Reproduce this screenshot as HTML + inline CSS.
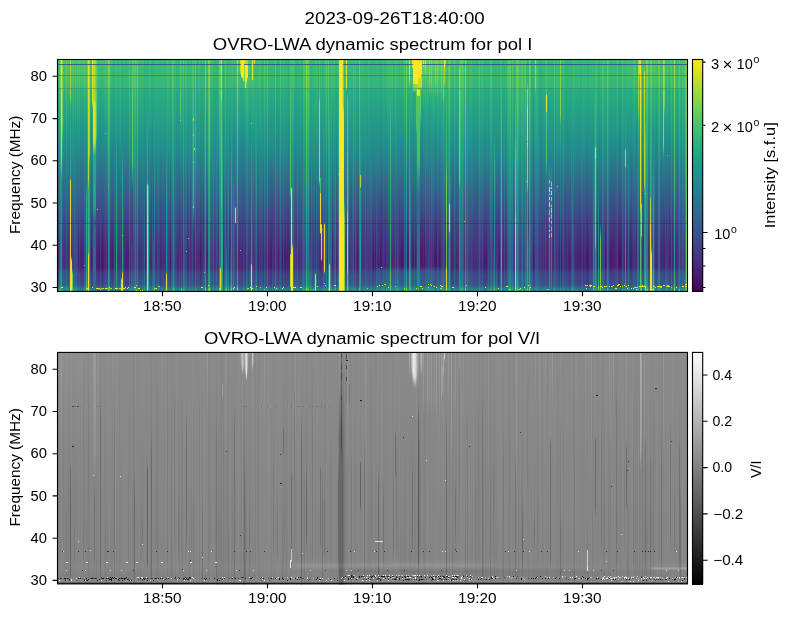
<!DOCTYPE html>
<html><head><meta charset="utf-8"><title>OVRO-LWA dynamic spectrum</title>
<style>
html,body{margin:0;padding:0;background:#fff}
#f{position:relative;width:789px;height:617px;background:#fff;overflow:hidden;font-family:"Liberation Sans",sans-serif}
.p{position:absolute;left:57px;width:631px;height:233px;display:flex;overflow:hidden}
.p b{display:block}
.p i{display:block;flex:0 0 1px;width:1px;height:233px}
.c{position:absolute;left:692px;width:11px;height:233px}
.h{position:absolute;left:0;width:631px;height:1px}
.s{position:absolute;width:1px;height:1px}
</style></head><body>
<div id="f">
<div class="p" style="top:59px"><i style="background:linear-gradient(#51c469,#44bf70 29.5px,#33b679 30.5px,#1f9b8a 75.5px,#38578c 155.5px,#453681 196.5px,#453580 208.5px,#3d4e8a 214.5px,#38578c 225.5px,#20918c 231.5px,#1f968b)"></i><i style="background:linear-gradient(#43be71,#38b977 29.5px,#2ab07f 30.5px,#21918c 79.5px,#3c4f8a 155.5px,#472e7c 195.5px,#472d7b 208.5px,#404688 213.5px,#3b518b 225.5px,#228c8d 231.5px,#21918c)"></i><i style="background:linear-gradient(#59c764,#4cc26c 29.5px,#3ab976 30.5px,#209f88 77.5px,#355f8d 160.5px,#404687 206.5px,#32648d 215.5px,#306a8e 225.5px,#23a385 231.5px,#26a883)"></i><i style="background:linear-gradient(#74d054,#7ed250 2.5px,#6fce58 29.5px,#5ac664 30.5px,#33b17a 86.5px,#20958b 130.5px,#2c738e 192.5px,#2c728e 208.5px,#238a8d 214.5px,#1f998a 226.5px,#24a784 228.5px,#4cc16c 230.5px,#60c960)"></i><i style="background:linear-gradient(#45bf70,#e8e424 1.5px,#c0d927 95.5px,#85cf4a 104.5px,#2dae7e 115.5px,#20958b 122.5px,#228d8c 209.5px,#209c89 229.5px,#2baf7f 231.5px,#31b37b)"></i><i style="background:linear-gradient(#4dc36b,#94d742 1.5px,#74ce55 65.5px,#2da97f 81.5px,#2d9086 96.5px,#2f6b8e 138.5px,#423d83 191.5px,#433d82 208.5px,#375b8c 213.5px,#32658d 225.5px,#1f9c89 231.5px,#20a087)"></i><i style="background:linear-gradient(#47c06f,#3fbc73 29.5px,#31b37b 30.5px,#228c8d 89.5px,#414287 168.5px,#472e7c 207.5px,#3a548b 213.5px,#355e8d 225.5px,#1f988b 231.5px,#1e9c89)"></i><i style="background:linear-gradient(#49c16e,#3cbb75 29.5px,#2db27d 30.5px,#1f958b 74.5px,#3b528b 152.5px,#472d7b 192.5px,#482a79 207.5px,#3c508b 213.5px,#375b8d 225.5px,#20948c 231.5px,#1f998a)"></i><i style="background:linear-gradient(#4cc26c,#3ebc74 29.5px,#2fb37c 30.5px,#1f978b 74.5px,#3a548b 153.5px,#46317e 193.5px,#46327e 208.5px,#3b508b 212.5px,#365d8d 225.5px,#20978b 231.5px,#1f9b89)"></i><i style="background:linear-gradient(#67cc5c,#56c666 29.5px,#42be71 30.5px,#21a386 76.5px,#30698e 152.5px,#3e4988 197.5px,#3d4b89 208.5px,#31678d 213.5px,#2d718e 225.5px,#20978b 229.5px,#26aa82 231.5px,#2bae7f)"></i><i style="background:linear-gradient(#4dc26c,#3ebc73 29.5px,#2fb37c 30.5px,#1f968b 73.5px,#3b528b 152.5px,#472d7b 192.5px,#472c7a 208.5px,#3e4b89 213.5px,#39568c 225.5px,#22908c 231.5px,#21958b)"></i><i style="background:linear-gradient(#4fc36a,#40bd73 29.5px,#30b47b 30.5px,#1f988b 73.5px,#39558c 153.5px,#46337f 193.5px,#46337f 208.5px,#3c4f8a 213.5px,#375a8c 225.5px,#20948c 231.5px,#1f998a)"></i><i style="background:linear-gradient(#45bf70,#4ac06d 5.5px,#3fbb73 29.5px,#31b27a 30.5px,#1f9c89 59.5px,#33738a 120.5px,#3f6b87 130.5px,#523977 185.5px,#523876 208.5px,#4a5283 213.5px,#465d85 225.5px,#2e9487 231.5px,#2d9886)"></i><i style="background:linear-gradient(#44bf71,#abda31 1.5px,#95d53f 37.5px,#6dcc58 41.5px,#2fb37c 46.5px,#27ac81 54.5px,#27a583 118.5px,#39b179 119.5px,#76c755 120.5px,#c3d428 121.5px,#e5d831 122.5px,#e6d430 198.5px,#f2dc2a 207.5px,#f0e22b)"></i><i style="background:linear-gradient(#45bf70,#4ac06d 5.5px,#3ebb73 29.5px,#31b27b 30.5px,#1f9c89 59.5px,#33738a 120.5px,#3f6b87 130.5px,#532d6d 190.5px,#532b6b 195.5px,#523674 196.5px,#3b7487 198.5px,#2e9884 199.5px,#50ba6d 200.5px,#9dd13e 201.5px,#dcda20 202.5px,#f2dd2a 203.5px,#f5e627)"></i><i style="background:linear-gradient(#5bc864,#4ac26d 29.5px,#38b977 30.5px,#1f9f88 73.5px,#355e8d 155.5px,#424085 196.5px,#4d4b80 208.5px,#446086 210.5px,#2e9785 212.5px,#40b375 213.5px,#6ac55e 214.5px,#7ecb52 215.5px,#7ccf52)"></i><i style="background:linear-gradient(#58c765,#47c06e 29.5px,#36b878 30.5px,#1f9d89 72.5px,#365c8d 153.5px,#443a83 195.5px,#443982 208.5px,#3e5a88 215.5px,#3b6189 225.5px,#269788 231.5px,#259b87)"></i><i style="background:linear-gradient(#49c16e,#3aba76 29.5px,#2cb17e 30.5px,#20938c 72.5px,#2c728e 147.5px,#3c508a 194.5px,#3c4e8a 208.5px,#31668e 215.5px,#2f6d8e 225.5px,#21a585 231.5px,#25aa83)"></i><i style="background:linear-gradient(#5fc961,#4ec36b 29.5px,#3bba75 30.5px,#20a088 73.5px,#365d8d 159.5px,#414286 205.5px,#3e4989 209.5px,#355d8d 216.5px,#33638d 225.5px,#1f9c89 231.5px,#20a187)"></i><i style="background:linear-gradient(#4ac16d,#3bba75 29.5px,#2cb17e 30.5px,#20948c 72.5px,#39568c 155.5px,#3b528b 208.5px,#30698e 215.5px,#2d6f8e 225.5px,#20958b 229.5px,#24a884 231.5px,#28ac81)"></i><i style="background:linear-gradient(#59c765,#48c16e 29.5px,#36b878 30.5px,#1f9d89 72.5px,#38588c 155.5px,#453680 200.5px,#433d84 209.5px,#3a528b 216.5px,#38588c 225.5px,#21928c 231.5px,#20978b)"></i><i style="background:linear-gradient(#54c667,#44bf70 29.5px,#33b67a 30.5px,#1f9b8a 70.5px,#39568c 148.5px,#472878 191.5px,#482575 208.5px,#433d84 213.5px,#3f4889 225.5px,#25858e 231.5px,#23898d)"></i><i style="background:linear-gradient(#5cc863,#4bc26d 29.5px,#38b977 30.5px,#1f9f88 72.5px,#365c8d 152.5px,#443882 194.5px,#453681 208.5px,#3c4f8a 214.5px,#38578c 225.5px,#20918c 231.5px,#1f968b)"></i><i style="background:linear-gradient(#4ec36b,#3fbc73 29.5px,#2fb37c 30.5px,#1f978b 71.5px,#3a538b 149.5px,#482877 191.5px,#482475 208.5px,#433c84 213.5px,#3f4888 225.5px,#25848e 231.5px,#23898d)"></i><i style="background:linear-gradient(#4ec36b,#3ebc74 29.5px,#2eb37c 30.5px,#1f978b 71.5px,#3b528b 149.5px,#482777 191.5px,#482374 208.5px,#443b84 213.5px,#3f4788 225.5px,#25838e 231.5px,#23888e)"></i><i style="background:linear-gradient(#4ac26d,#3dbb74 29.5px,#2db27d 30.5px,#1f968b 71.5px,#3b518b 148.5px,#482374 190.5px,#481f71 208.5px,#453782 213.5px,#414387 225.5px,#26808e 231.5px,#25858e)"></i><i style="background:linear-gradient(#50c46a,#40bd72 29.5px,#30b47b 30.5px,#1f988b 70.5px,#3b508b 150.5px,#482676 193.5px,#482474 208.5px,#433b83 213.5px,#3f4788 225.5px,#25838e 231.5px,#24888d)"></i><i style="background:linear-gradient(#5fc961,#4dc36b 29.5px,#3bba76 30.5px,#1fa088 73.5px,#365c8c 160.5px,#414286 206.5px,#355e8d 217.5px,#33638d 225.5px,#1f9c89 231.5px,#20a187)"></i><i style="background:linear-gradient(#48c16e,#3aba76 29.5px,#2bb17e 30.5px,#20938c 72.5px,#39588b 164.5px,#3e4b88 208.5px,#35628c 214.5px,#326a8c 225.5px,#28a283 231.5px,#2aa680)"></i><i style="background:linear-gradient(#4dc36b,#3ebc74 29.5px,#2eb37c 30.5px,#20968b 71.5px,#2b758e 122.5px,#23a186 139.5px,#28a682 151.5px,#229589 207.5px,#30ac7d 217.5px,#36b07a 225.5px,#5fc462 228.5px,#a3d737 230.5px,#bcdb28)"></i><i style="background:linear-gradient(#6dce59,#76d054 2.5px,#65ca5e 29.5px,#51c369 30.5px,#2eac7d 78.5px,#28878c 145.5px,#336c8b 192.5px,#3f6a87 202.5px,#3d7187 209.5px,#348e86 226.5px,#33a97d 229.5px,#4dbe6c)"></i><i style="background:linear-gradient(#48c16e,#e5e320 1.5px,#c3de24 74.5px,#b6d82c 118.5px,#87d049 123.5px,#37b678 130.5px,#38b378 191.5px,#41b873 192.5px,#5dc264 193.5px,#b4d42d 195.5px,#d7d929 196.5px,#e4db31 197.5px,#e5e12f)"></i><i style="background:linear-gradient(#49c16d,#b6dd2c 1.5px,#96d540 74.5px,#90d344 93.5px,#30ad7c 103.5px,#2a9e83 109.5px,#298 168.5px,#289a85 194.5px,#2c9f84 229.5px,#37b379)"></i><i style="background:linear-gradient(#48c16e,#4cc16b 6.5px,#41bc72 29.5px,#33b37a 30.5px,#279787 72.5px,#306a8d 141.5px,#423e82 191.5px,#433b80 208.5px,#3b528a 214.5px,#375a8c 225.5px,#21928c 231.5px,#20978b)"></i><i style="background:linear-gradient(#47c06f,#51c26a 2.5px,#44bc71 29.5px,#36b478 30.5px,#1f9d89 58.5px,#3a548b 145.5px,#482374 189.5px,#481f70 208.5px,#453781 213.5px,#414387 225.5px,#27808e 231.5px,#25858e)"></i><i style="background:linear-gradient(#49c16e,#ebe428 1.5px,#d4e01f 42.5px,#adda31 44.5px,#43bb72 48.5px,#2fac7d 50.5px,#297d8e 111.5px,#3f4788 161.5px,#472775 203.5px,#46307c 209.5px,#404587 216.5px,#3e4b89 225.5px,#24868e 231.5px,#238b8d)"></i><i style="background:linear-gradient(#54c667,#b5dd2d 1.5px,#a6db36 39.5px,#e2e41a 44.5px,#e6e322 48.5px,#d7df1f 80.5px,#aed930 85.5px,#35b579 95.5px,#26aa82 98.5px,#22a186 147.5px,#2f6d8e 161.5px,#32658d 166.5px,#30698e 226.5px,#1f988a 231.5px,#1f9d89)"></i><i style="background:linear-gradient(#4fc46a,#aedc2f 1.5px,#a0da39 39.5px,#e3e41a 44.5px,#eee51d 47.5px,#e4e41a 79.5px,#bddf26 84.5px,#37b977 94.5px,#26ad81 97.5px,#22a785 146.5px,#29798e 157.5px,#365b8d 164.5px,#30698e 169.5px,#2f6a8e 228.5px,#24878e 231.5px,#228c8d)"></i><i style="background:linear-gradient(#4bc26d,#94d741 1.5px,#85d44a 39.5px,#bdde27 45.5px,#b3dc2d 79.5px,#88d348 85.5px,#2db07e 94.5px,#27aa82 109.5px,#23a285 146.5px,#2b768e 157.5px,#37598c 164.5px,#31668d 169.5px,#30698e 228.5px,#24878e 231.5px,#228c8d)"></i><i style="background:linear-gradient(#45bf70,#6ece58 1.5px,#53c368 74.5px,#27a483 83.5px,#25898c 93.5px,#3e4988 156.5px,#472675 193.5px,#472473 208.5px,#433d84 214.5px,#404688 225.5px,#26818e 231.5px,#24868e)"></i><i style="background:linear-gradient(#48c16e,#3ebc74 29.5px,#30b37c 30.5px,#21928c 81.5px,#404688 156.5px,#482072 194.5px,#481f70 208.5px,#453781 213.5px,#414387 225.5px,#27808e 231.5px,#25858e)"></i><i style="background:linear-gradient(#48c16e,#3bbb75 29.5px,#2cb17e 30.5px,#1f958c 73.5px,#3c4f8b 148.5px,#482071 190.5px,#481c6e 208.5px,#463480 213.5px,#424086 225.5px,#277e8e 231.5px,#26838e)"></i><i style="background:linear-gradient(#43be71,#37b878 29.5px,#29af7f 30.5px,#20918c 75.5px,#3e4b8a 149.5px,#481d6e 191.5px,#481a6b 208.5px,#46327e 213.5px,#433e85 225.5px,#287c8e 231.5px,#26818e)"></i><i style="background:linear-gradient(#3ebc74,#33b67a 29.5px,#26ac81 31.5px,#228b8d 80.5px,#443881 188.5px,#45337f 208.5px,#3d4c89 214.5px,#39558b 225.5px,#218f8c 231.5px,#20948b)"></i><i style="background:linear-gradient(#41bd72,#36b878 29.5px,#28ae80 30.5px,#218f8d 76.5px,#404688 154.5px,#481e6f 195.5px,#481d6e 208.5px,#453580 213.5px,#424186 225.5px,#277f8e 231.5px,#25838e)"></i><i style="background:linear-gradient(#41bd72,#36b878 29.5px,#28ae80 30.5px,#21908d 76.5px,#3e4b89 149.5px,#481c6e 190.5px,#48186a 208.5px,#46307e 213.5px,#433d84 225.5px,#297b8e 231.5px,#27808e)"></i><i style="background:linear-gradient(#45bf70,#3aba76 29.5px,#2bb17e 30.5px,#20938c 75.5px,#3d4e8a 148.5px,#481d6f 190.5px,#48196b 208.5px,#46317e 213.5px,#433e85 225.5px,#287c8e 231.5px,#26818e)"></i><i style="background:linear-gradient(#49c16e,#3dbc74 29.5px,#2eb37d 30.5px,#1f968b 75.5px,#3b528b 150.5px,#482777 191.5px,#482474 208.5px,#443b84 213.5px,#3f4788 225.5px,#25848e 231.5px,#23888e)"></i><i style="background:linear-gradient(#4fc36b,#43be71 29.5px,#32b67a 30.5px,#1f9a8a 77.5px,#38578c 154.5px,#46337f 195.5px,#46327e 208.5px,#3e4a89 214.5px,#3a548b 225.5px,#218e8d 231.5px,#20938c)"></i><i style="background:linear-gradient(#4dc36b,#42be72 29.5px,#31b57b 30.5px,#1f998a 76.5px,#39568c 152.5px,#472f7d 193.5px,#472d7c 208.5px,#404788 214.5px,#3c508b 225.5px,#238b8d 231.5px,#21908d)"></i><i style="background:linear-gradient(#49c06e,#3ebb73 29.5px,#2fb37c 30.5px,#22968a 78.5px,#3a548a 151.5px,#462c78 191.5px,#462975 208.5px,#414384 214.5px,#3e4c88 225.5px,#2c8889 231.5px,#2b8d88)"></i><i style="background:linear-gradient(#8cd545,#7ed24e 29.5px,#66cb5d 30.5px,#47be6f 75.5px,#219689 156.5px,#25858b 207.5px,#239d86 217.5px,#25a184 225.5px,#40b774 228.5px,#7dce50 230.5px,#95d440)"></i><i style="background:linear-gradient(#76d053,#69cc5b 29.5px,#53c568 30.5px,#25a883 100.5px,#277f8d 157.5px,#2f6a8c 206.5px,#26848d 219.5px,#25878c 225.5px,#239e87 228.5px,#41ba73 230.5px,#53c268)"></i><i style="background:linear-gradient(#44be70,#3aba76 29.5px,#2cb17e 30.5px,#21928b 79.5px,#3c4f8a 151.5px,#472573 191.5px,#472271 208.5px,#443a81 213.5px,#404687 225.5px,#29838c 231.5px,#28878c)"></i><i style="background:linear-gradient(#41bd72,#38b977 29.5px,#2ab07f 30.5px,#20918c 79.5px,#3d4e8a 152.5px,#482575 192.5px,#482273 208.5px,#443a83 213.5px,#404688 225.5px,#26838e 231.5px,#24878e)"></i><i style="background:linear-gradient(#39ba76,#32b57b 29.5px,#25ab82 31.5px,#23888e 85.5px,#414387 154.5px,#481c6e 192.5px,#481a6c 208.5px,#46327f 213.5px,#433e85 225.5px,#287c8e 231.5px,#26818e)"></i><i style="background:linear-gradient(#3bba75,#33b67a 29.5px,#26ac81 31.5px,#228b8d 83.5px,#3f4888 157.5px,#472574 195.5px,#472473 208.5px,#433c83 213.5px,#3f4788 225.5px,#27848d 231.5px,#25898d)"></i><i style="background:linear-gradient(#34b679,#2db27d 29.5px,#23a884 31.5px,#27808e 110.5px,#2e6d8d 157.5px,#385489 205.5px,#34608b 210.5px,#2d728d 223.5px,#297b8e 226.5px,#219989 229.5px,#2bac80 231.5px,#31b07c)"></i><i style="background:linear-gradient(#3dbc74,#36b878 29.5px,#29ae80 30.5px,#218f8c 81.5px,#3c5088 154.5px,#452b73 194.5px,#452972 208.5px,#414283 214.5px,#3e4b87 225.5px,#27848d 231.5px,#26898c)"></i><i style="background:linear-gradient(#4ac16d,#41bd72 29.5px,#31b57b 30.5px,#20a187 79.5px,#269d85 225.5px,#22a585)"></i><i style="background:linear-gradient(#36b778,#2fb37c 29.5px,#24aa83 31.5px,#26848d 92.5px,#44397f 202.5px,#424183 209.5px,#3a558a 216.5px,#375b8b 225.5px,#21928c 231.5px,#20968b)"></i><i style="background:linear-gradient(#39b976,#32b67a 29.5px,#26ac82 31.5px,#238a8d 91.5px,#3a528b 156.5px,#46317e 197.5px,#46317e 208.5px,#3e4a89 214.5px,#3a538b 225.5px,#228d8d 231.5px,#20928c)"></i><i style="background:linear-gradient(#40bd73,#39b977 29.5px,#2bb07f 30.5px,#20928c 83.5px,#3c508b 158.5px,#472f7d 201.5px,#453781 209.5px,#3d4d8a 216.5px,#3a538b 225.5px,#228d8d 231.5px,#20928c)"></i><i style="background:linear-gradient(#47c06f,#3fbd73 29.5px,#30b47c 30.5px,#1f978b 83.5px,#3b528b 161.5px,#453681 205.5px,#423e85 209.5px,#3a538b 216.5px,#416386 225.5px,#2b9985 231.5px,#2a9e83)"></i><i style="background:linear-gradient(#33b67a,#2eb27d 29.5px,#23a983 31.5px,#27808e 102.5px,#443b80 171.5px,#462a74 208.5px,#48437f 213.5px,#4d4a80 218.5px,#397a88 219.5px,#65c461 220.5px,#d5db20 221.5px,#d4df20)"></i><i style="background:linear-gradient(#34b779,#2fb37c 29.5px,#24aa83 31.5px,#228b8d 89.5px,#27a683 114.5px,#2aa082 211.5px,#3bac78 212.5px,#78c254 213.5px,#c5d027 214.5px,#e6d431 215.5px,#eee12a 229.5px,#eee22a)"></i><i style="background:linear-gradient(#39ba76,#33b679 29.5px,#26ad81 31.5px,#228b8d 85.5px,#3d5089 152.5px,#44387e 180.5px,#424082 208.5px,#405787 213.5px,#436386 225.5px,#2d9986 231.5px,#2c9d84)"></i><i style="background:linear-gradient(#40bd72,#3aba76 29.5px,#2bb17e 30.5px,#20938c 82.5px,#3c4e8a 156.5px,#472e7c 193.5px,#472d7b 208.5px,#404688 214.5px,#3c4f8a 225.5px,#238a8d 231.5px,#218f8d)"></i><i style="background:linear-gradient(#37b878,#31b57b 29.5px,#25ab82 31.5px,#24888e 91.5px,#424086 162.5px,#482172 204.5px,#472a79 209.5px,#423f85 215.5px,#3f4788 225.5px,#25838e 231.5px,#24888e)"></i><i style="background:linear-gradient(#36b878,#31b57b 29.5px,#25ab82 31.5px,#24878e 90.5px,#433f85 159.5px,#481c6e 197.5px,#481c6e 208.5px,#463480 213.5px,#424086 225.5px,#277e8e 231.5px,#26838e)"></i><i style="background:linear-gradient(#3aba76,#34b779 29.5px,#28ae80 30.5px,#218e8d 84.5px,#3f4989 155.5px,#482474 193.5px,#482173 208.5px,#443983 213.5px,#404588 225.5px,#26828e 231.5px,#24878e)"></i><i style="background:linear-gradient(#38b977,#33b67a 29.5px,#27ac81 31.5px,#24888d 91.5px,#424085 160.5px,#471e6e 200.5px,#472675 209.5px,#433c83 215.5px,#414386 225.5px,#28818d 231.5px,#27868d)"></i><i style="background:linear-gradient(#5dc862,#56c666 29.5px,#42be71 30.5px,#209c88 101.5px,#365a8a 191.5px,#37578a 208.5px,#2e6e8d 215.5px,#2c748d 225.5px,#219a89 229.5px,#2dad7f 231.5px,#33b17b)"></i><i style="background:linear-gradient(#3aba76,#35b779 29.5px,#28ae80 30.5px,#238c8d 89.5px,#404587 160.5px,#462674 202.5px,#452f7b 209.5px,#404586 215.5px,#3d4c89 225.5px,#26888c 231.5px,#258c8c)"></i><i style="background:linear-gradient(#36b878,#35b779 29.5px,#2aad7f 31.5px,#298b8b 91.5px,#404688 153.5px,#453580 171.5px,#3a5189 191.5px,#3b4f89 208.5px,#31678d 215.5px,#2e6d8e 225.5px,#20938b 229.5px,#24a684 231.5px,#27aa81)"></i><i style="background:linear-gradient(#34b679,#6ccd59 1.5px,#5fc462 104.5px,#22a186 115.5px,#33628d 130.5px,#462e7b 178.5px,#46317d 208.5px,#3d4c89 214.5px,#38588c 225.5px,#21938c 231.5px,#20978a)"></i><i style="background:linear-gradient(#52c569,#50c46a 29.5px,#3ebc73 30.5px,#23a086 93.5px,#2e6f8e 148.5px,#3c4d89 193.5px,#3d4c89 208.5px,#33628d 214.5px,#2f6b8e 225.5px,#21a386 231.5px,#23a884)"></i><i style="background:linear-gradient(#4bc26d,#45bf70 29.5px,#34b679 30.5px,#1f998a 90.5px,#3f4788 192.5px,#404587 208.5px,#365c8c 214.5px,#32648d 225.5px,#219d88 231.5px,#22a286)"></i><i style="background:linear-gradient(#65cb5d,#5fc961 29.5px,#4ac16d 30.5px,#209d88 117.5px,#2e6e8e 190.5px,#2f6c8d 208.5px,#26828e 215.5px,#24888d 225.5px,#219f87 228.5px,#3fba74 230.5px,#51c269)"></i><i style="background:linear-gradient(#4ac16d,#45bf70 29.5px,#34b679 30.5px,#20998a 93.5px,#3d4d89 192.5px,#3e4b89 208.5px,#34618d 214.5px,#30698e 225.5px,#24a286 231.5px,#26a783)"></i><i style="background:linear-gradient(#66cc5d,#60c961 29.5px,#4bc26c 30.5px,#209d88 114.5px,#306a8d 190.5px,#31678c 208.5px,#287d8e 215.5px,#26838d 225.5px,#209a89 228.5px,#3ab677 230.5px,#4abf6e)"></i><i style="background:linear-gradient(#3fbc73,#3bba76 29.5px,#2cb17e 30.5px,#21928c 86.5px,#3d4c89 160.5px,#462b79 203.5px,#45357f 209.5px,#3e4a89 216.5px,#3b518a 225.5px,#258c8c 231.5px,#24918b)"></i><i style="background:linear-gradient(#3fbc73,#3aba76 29.5px,#2bb17e 30.5px,#20928c 85.5px,#3d4c8a 160.5px,#472c7a 203.5px,#453580 209.5px,#3e4b89 216.5px,#3b518b 225.5px,#228c8d 231.5px,#21908c)"></i><i style="background:linear-gradient(#40bd72,#3bbb75 29.5px,#2db27d 30.5px,#20948c 85.5px,#3d4d8a 161.5px,#472f7c 204.5px,#453782 209.5px,#3d4d8a 216.5px,#3a538b 225.5px,#228e8d 231.5px,#20928c)"></i><i style="background:linear-gradient(#39b977,#34b779 29.5px,#28ae80 30.5px,#228d8d 87.5px,#404688 159.5px,#482474 199.5px,#472b7a 209.5px,#424186 215.5px,#3f4888 225.5px,#25858e 231.5px,#23898d)"></i><i style="background:linear-gradient(#43be71,#3ebc74 29.5px,#2eb37c 30.5px,#1f958b 89.5px,#424085 192.5px,#433e84 208.5px,#39558b 214.5px,#355e8d 225.5px,#1f978b 231.5px,#1f9c89)"></i><i style="background:linear-gradient(#3bba75,#36b878 29.5px,#29af7f 30.5px,#218f8d 88.5px,#433d84 179.5px,#45347f 208.5px,#3d4d89 214.5px,#39568c 225.5px,#22908c 231.5px,#21958b)"></i><i style="background:linear-gradient(#32b57a,#2eb37c 29.5px,#23a983 31.5px,#26818e 95.5px,#30698e 134.5px,#31678d 163.5px,#38568a 208.5px,#2e6d8d 215.5px,#2c748e 225.5px,#209989 229.5px,#2aac80 231.5px,#30b07d)"></i><i style="background:linear-gradient(#37b877,#33b67a 29.5px,#26ac81 31.5px,#238b8d 87.5px,#423e84 165.5px,#472675 206.5px,#404487 216.5px,#3e4b89 225.5px,#25878d 231.5px,#248c8c)"></i><i style="background:linear-gradient(#39ba76,#35b778 29.5px,#28ae80 30.5px,#228f8c 91.5px,#31798b 125.5px,#3b7388 133.5px,#50407b 191.5px,#513d79 208.5px,#495483 214.5px,#455d85 225.5px,#2e9487 231.5px,#2d9886)"></i><i style="background:linear-gradient(#32b57a,#2eb37c 29.5px,#24a983 31.5px,#24a185 123.5px,#32af7c 124.5px,#70c858 125.5px,#c0d728 126.5px,#e4dc31 127.5px,#e3de31)"></i><i style="background:linear-gradient(#36b878,#32b67a 29.5px,#26ac82 31.5px,#24898d 93.5px,#2d728e 123.5px,#288d8a 125.5px,#30a97f 127.5px,#2fab7f)"></i><i style="background:linear-gradient(#41be72,#3dbb74 29.5px,#2eb27d 30.5px,#20948c 88.5px,#3b528a 168.5px,#424183 208.5px,#39588b 214.5px,#35608c 225.5px,#20968b 231.5px,#1f9a8a)"></i><i style="background:linear-gradient(#3cbb75,#37b977 29.5px,#2ab07f 30.5px,#21908c 86.5px,#3e4a89 161.5px,#472b7a 204.5px,#46337f 209.5px,#3f4989 215.5px,#3c508b 225.5px,#238b8d 231.5px,#218f8d)"></i><i style="background:linear-gradient(#33b67a,#2fb47c 29.5px,#24aa83 31.5px,#25848e 94.5px,#443a83 167.5px,#482373 207.5px,#424085 215.5px,#3f4788 225.5px,#26838e 231.5px,#24888d)"></i><i style="background:linear-gradient(#2fb37c,#2bb17e 29.5px,#22a785 32.5px,#2a778e 104.5px,#3e4988 205.5px,#39558b 210.5px,#31678d 222.5px,#2d718e 226.5px,#20a287 231.5px,#23a684)"></i><i style="background:linear-gradient(#33b67a,#2fb47c 29.5px,#24aa83 31.5px,#25858e 94.5px,#414185 166.5px,#39568c 189.5px,#3a538b 208.5px,#306a8e 215.5px,#2d718e 225.5px,#20968b 229.5px,#24a983 231.5px,#28ad80)"></i><i style="background:linear-gradient(#36b878,#33b67a 29.5px,#26ac81 31.5px,#1f9f88 81.5px,#20958b 120.5px,#30688d 184.5px,#32638c 208.5px,#297a8e 215.5px,#27808e 225.5px,#24a584 229.5px,#3ab777 231.5px,#42bc72)"></i><i style="background:linear-gradient(#3aba76,#36b878 29.5px,#29af80 30.5px,#21908c 87.5px,#3d4c89 159.5px,#472a78 201.5px,#45337e 209.5px,#3f4888 215.5px,#3c4f8a 225.5px,#258a8c 231.5px,#248f8b)"></i><i style="background:linear-gradient(#3aba76,#36b878 29.5px,#29af80 30.5px,#218f8d 87.5px,#3f4788 161.5px,#482777 203.5px,#46307d 209.5px,#404688 215.5px,#3d4d8a 225.5px,#24888e 231.5px,#228d8d)"></i><i style="background:linear-gradient(#43be71,#3ebc74 29.5px,#2fb37c 30.5px,#1f968b 90.5px,#424186 192.5px,#423e85 208.5px,#39568c 214.5px,#355f8d 225.5px,#1f988b 231.5px,#1f9d89)"></i><i style="background:linear-gradient(#35b779,#31b57b 29.5px,#25ab82 31.5px,#23898d 110.5px,#404487 191.5px,#414186 208.5px,#38598c 214.5px,#34618d 225.5px,#1f9a8a 231.5px,#1f9f88)"></i><i style="background:linear-gradient(#3bba76,#36b878 29.5px,#29af7f 30.5px,#218f8d 89.5px,#404587 166.5px,#472d7b 207.5px,#3e4989 215.5px,#3b508b 225.5px,#238b8d 231.5px,#21908c)"></i><i style="background:linear-gradient(#38b977,#35b779 29.5px,#28ae80 30.5px,#228d8d 87.5px,#404688 158.5px,#482374 196.5px,#482374 208.5px,#443b83 213.5px,#404788 225.5px,#25838e 231.5px,#24888e)"></i><i style="background:linear-gradient(#35b778,#32b57b 29.5px,#25ab82 31.5px,#24888e 92.5px,#423f85 162.5px,#481f70 204.5px,#482878 209.5px,#433e85 215.5px,#404588 225.5px,#26828e 231.5px,#24878e)"></i><i style="background:linear-gradient(#40bd73,#3cbb75 29.5px,#2db27d 30.5px,#20938c 88.5px,#423f85 179.5px,#453580 208.5px,#3d4e8a 214.5px,#39578c 225.5px,#21918c 231.5px,#1f958b)"></i><i style="background:linear-gradient(#3aba76,#37b878 29.5px,#29af7f 30.5px,#21908c 87.5px,#3f4989 161.5px,#482878 203.5px,#46327f 209.5px,#3f4788 215.5px,#3c4e8a 225.5px,#23898d 231.5px,#218e8d)"></i><i style="background:linear-gradient(#35b779,#38b977 29.5px,#2ab07f 30.5px,#21918c 87.5px,#3f4989 161.5px,#482978 203.5px,#46327f 209.5px,#3f4788 215.5px,#3c4f8a 225.5px,#238a8d 231.5px,#218e8d)"></i><i style="background:linear-gradient(#37b977,#34b779 29.5px,#27ad81 30.5px,#228d8d 88.5px,#3f4787 161.5px,#462873 204.5px,#45307a 209.5px,#454682 214.5px,#4c4d81 221.5px,#4b5082 225.5px,#328988 231.5px,#318d87)"></i><i style="background:linear-gradient(#3bbb75,#37b877 29.5px,#2aaf7f 30.5px,#1f9a8a 84.5px,#229289 212.5px,#29a182 213.5px,#65be60 214.5px,#bed029 215.5px,#e6d531 216.5px,#e3dd31)"></i><i style="background:linear-gradient(#4ac16d,#45bf70 29.5px,#34b779 30.5px,#1f9a8a 90.5px,#3f4987 194.5px,#3f4787 208.5px,#3a6089 214.5px,#416787 221.5px,#3c7188 226.5px,#2c9f84 231.5px,#2ca482)"></i><i style="background:linear-gradient(#43be71,#3ebc73 29.5px,#2fb37c 30.5px,#1f958b 87.5px,#3f4788 170.5px,#453581 208.5px,#3d4e8a 214.5px,#38578c 225.5px,#21918c 231.5px,#1f968b)"></i><i style="background:linear-gradient(#3bbb75,#37b977 29.5px,#2aaf7f 30.5px,#21908c 91.5px,#433d84 180.5px,#45347f 208.5px,#3d4c8a 214.5px,#39558c 225.5px,#21908c 231.5px,#20948b)"></i><i style="background:linear-gradient(#33b67a,#30b47c 29.5px,#24aa83 31.5px,#25848e 94.5px,#433c83 161.5px,#471869 203.5px,#472272 209.5px,#443881 215.5px,#424085 225.5px,#287e8e 231.5px,#26828e)"></i><i style="background:linear-gradient(#44bf70,#40bd73 29.5px,#30b47b 30.5px,#1f968b 91.5px,#414286 192.5px,#423f85 208.5px,#38578b 214.5px,#345f8d 225.5px,#1f998a 231.5px,#209d88)"></i><i style="background:linear-gradient(#54c568,#4ec36b 29.5px,#3cbb75 30.5px,#1f9c89 98.5px,#38578c 191.5px,#39558b 208.5px,#2f6c8e 215.5px,#2c728e 225.5px,#20978a 229.5px,#26aa82 231.5px,#2baf7f)"></i><i style="background:linear-gradient(#61ca60,#5bc863 29.5px,#47c06f 30.5px,#20998a 125.5px,#2c728e 192.5px,#2d708e 208.5px,#24868d 215.5px,#228c8d 225.5px,#22a386 228.5px,#44be70 230.5px,#57c665)"></i><i style="background:linear-gradient(#3ab976,#36b778 29.5px,#29ae80 30.5px,#238d8c 88.5px,#2f6c8e 135.5px,#32668d 162.5px,#3b518b 208.5px,#30698e 215.5px,#2d6f8e 225.5px,#21958b 229.5px,#25a883 231.5px,#29ac80)"></i><i style="background:linear-gradient(#41be72,#3dbb74 29.5px,#2eb27d 30.5px,#20948c 88.5px,#423f85 185.5px,#443882 208.5px,#3b518b 214.5px,#37598c 225.5px,#20938c 231.5px,#1f988a)"></i><i style="background:linear-gradient(#31b47b,#2db27d 29.5px,#23a884 31.5px,#277e8e 98.5px,#34618d 147.5px,#443983 191.5px,#453681 208.5px,#3c4f8a 214.5px,#38588c 225.5px,#20918c 231.5px,#1f968b)"></i><i style="background:linear-gradient(#37b878,#33b67a 29.5px,#26ac81 31.5px,#238a8d 91.5px,#404588 161.5px,#482475 203.5px,#472e7c 209.5px,#414387 215.5px,#3e4b89 225.5px,#24868e 231.5px,#228b8d)"></i><i style="background:linear-gradient(#36b878,#32b67a 29.5px,#26ac82 31.5px,#238a8d 91.5px,#443b84 167.5px,#482575 207.5px,#414286 215.5px,#3f4989 225.5px,#25858e 231.5px,#238a8d)"></i><i style="background:linear-gradient(#33b67a,#32b57a 29.5px,#28ac81 31.5px,#23898e 87.5px,#453782 177.5px,#433c83 208.5px,#39548b 214.5px,#365d8d 225.5px,#1f968b 231.5px,#1f9b89)"></i><i style="background:linear-gradient(#3aba76,#5ec962 1.5px,#55c467 54.5px,#20a387 66.5px,#3c4f8a 153.5px,#472b79 192.5px,#472878 208.5px,#424085 213.5px,#3e4b89 225.5px,#24878e 231.5px,#228c8d)"></i><i style="background:linear-gradient(#45bf70,#43be71 29.5px,#34b679 30.5px,#1f988a 84.5px,#3b518b 162.5px,#453580 205.5px,#433d84 209.5px,#3b528b 216.5px,#38588c 225.5px,#20928c 231.5px,#1f978b)"></i><i style="background:linear-gradient(#37b778,#33b57a 29.5px,#27ac81 31.5px,#26858d 95.5px,#404486 161.5px,#472371 203.5px,#462c79 209.5px,#414285 215.5px,#3e4988 225.5px,#28858c 231.5px,#278a8c)"></i><i style="background:linear-gradient(#62ca5f,#5cc863 29.5px,#48c06e 30.5px,#209889 119.5px,#306a8c 189.5px,#31678c 208.5px,#287d8d 215.5px,#26838d 225.5px,#209a89 228.5px,#39b677 230.5px,#4abf6e)"></i><i style="background:linear-gradient(#38b877,#34b679 29.5px,#27ac81 31.5px,#25878d 94.5px,#3c4f8a 167.5px,#3a538b 208.5px,#2f6b8e 215.5px,#2d718e 225.5px,#20968b 229.5px,#25a983 231.5px,#29ae80)"></i><i style="background:linear-gradient(#48c16e,#43bf71 29.5px,#33b67a 30.5px,#1f988b 89.5px,#414287 191.5px,#424085 208.5px,#38578c 214.5px,#34608d 225.5px,#1f998a 231.5px,#1f9e89)"></i><i style="background:linear-gradient(#47c06f,#43be71 29.5px,#32b57a 30.5px,#1f978b 90.5px,#424085 193.5px,#423e85 208.5px,#39568c 214.5px,#355e8d 225.5px,#1f988b 231.5px,#1f9d89)"></i><i style="background:linear-gradient(#37b877,#34b679 29.5px,#27ad81 31.5px,#238b8d 88.5px,#433b83 167.5px,#482373 207.5px,#424085 215.5px,#3f4788 225.5px,#25838e 231.5px,#24888d)"></i><i style="background:linear-gradient(#31b57b,#2eb37d 29.5px,#23a983 31.5px,#277f8e 102.5px,#404688 162.5px,#482777 204.5px,#46307d 209.5px,#404588 215.5px,#3d4d8a 225.5px,#24888d 231.5px,#228d8d)"></i><i style="background:linear-gradient(#45bf70,#40bd72 29.5px,#31b47b 30.5px,#20958b 92.5px,#414286 191.5px,#424085 208.5px,#38578c 214.5px,#34608d 225.5px,#1f998a 231.5px,#1f9e88)"></i><i style="background:linear-gradient(#32b57a,#2fb37c 29.5px,#24a983 31.5px,#26818e 96.5px,#443881 164.5px,#482777 205.5px,#46307d 209.5px,#404688 215.5px,#3d4d8a 225.5px,#23898d 231.5px,#228d8d)"></i><i style="background:linear-gradient(#38b977,#35b779 29.5px,#28ae80 30.5px,#228c8d 87.5px,#404687 166.5px,#45347f 208.5px,#3d4c8a 214.5px,#39558c 225.5px,#21908c 231.5px,#20948b)"></i><i style="background:linear-gradient(#4fc36a,#4cc26c 29.5px,#3bba75 30.5px,#2bb07e 58.5px,#33b07a 61.5px,#29ad80 64.5px,#2ba97f 76.5px,#23a385 85.5px,#2d778d 146.5px,#377887 148.5px,#2d738d 150.5px,#3b508a 187.5px,#3d4c89 208.5px,#33628d 214.5px,#306a8e 225.5px,#22a386 231.5px,#25a883)"></i><i style="background:linear-gradient(#34b679,#4cc26c 1.5px,#48bf6e 58.5px,#c7dc25 59.5px,#c7dc25 61.5px,#48bf6f 62.5px,#48be6f 74.5px,#a9d733 75.5px,#a9d733 76.5px,#48be6f 77.5px,#48bd6f 88.5px,#51c269 90.5px,#48bd6f 92.5px,#48bc6f 101.5px,#8cd046 102.5px,#8ccf46 103.5px,#48bc6f 104.5px,#44b573 144.5px,#3cb177 146.5px,#c9d426 147.5px,#c9d426 148.5px,#2ca780 149.5px,#228e8b 154.5px,#443a82 169.5px,#472172 206.5px,#424085 216.5px,#404688 225.5px,#26838e 231.5px,#25888d)"></i><i style="background:linear-gradient(#38b977,#36b778 29.5px,#2aae7f 31.5px,#24a286 58.5px,#2ca381 61.5px,#239f87 64.5px,#2b9a84 76.5px,#269289 86.5px,#27918a 88.5px,#addb30 89.5px,#addb30 90.5px,#278f8a 91.5px,#395d8a 146.5px,#445d84 148.5px,#3a578a 150.5px,#462b79 184.5px,#472372 208.5px,#433b82 213.5px,#3f4787 225.5px,#28848d 231.5px,#27888c)"></i><i style="background:linear-gradient(#5ec862,#58c765 29.5px,#45be70 30.5px,#3bb677 88.5px,#41ba72 90.5px,#34b27b 93.5px,#209a89 112.5px,#33618b 190.5px,#345e8a 208.5px,#2b758d 215.5px,#297b8d 225.5px,#24a185 229.5px,#38b379 231.5px,#40b874)"></i><i style="background:linear-gradient(#37b878,#33b67a 29.5px,#27ac81 31.5px,#26838d 100.5px,#433b82 166.5px,#472170 206.5px,#423f84 216.5px,#404687 225.5px,#28838d 231.5px,#27888c)"></i><i style="background:linear-gradient(#31b57b,#30b47b 29.5px,#25ab82 31.5px,#24868e 105.5px,#453680 191.5px,#46327f 208.5px,#3e4b89 214.5px,#3a548b 225.5px,#218f8d 231.5px,#20938c)"></i><i style="background:linear-gradient(#3bbb75,#37b977 29.5px,#2ab07f 30.5px,#21908c 87.5px,#3f4889 160.5px,#482676 202.5px,#472f7d 209.5px,#404587 215.5px,#3d4c8a 225.5px,#24878e 231.5px,#228c8d)"></i><i style="background:linear-gradient(#42be71,#3ebc74 29.5px,#2eb37c 30.5px,#1f958b 85.5px,#3d4d8a 159.5px,#472b7a 200.5px,#46337f 209.5px,#3f4888 215.5px,#3c4f8a 225.5px,#238a8d 231.5px,#218f8d)"></i><i style="background:linear-gradient(#35b779,#31b57b 29.5px,#25ab82 31.5px,#24888e 91.5px,#433f85 159.5px,#481b6c 197.5px,#481b6c 208.5px,#46337f 213.5px,#423f85 225.5px,#287d8e 231.5px,#26828e)"></i><i style="background:linear-gradient(#33b67a,#30b47c 29.5px,#24aa83 31.5px,#25848e 94.5px,#433b83 160.5px,#481769 199.5px,#481f70 209.5px,#453680 215.5px,#433d84 225.5px,#287c8e 231.5px,#27808e)"></i><i style="background:linear-gradient(#3fbd73,#3bba75 29.5px,#2cb17e 30.5px,#20928c 91.5px,#423e84 183.5px,#443881 208.5px,#3b508a 214.5px,#37598c 225.5px,#20938c 231.5px,#1f988a)"></i><i style="background:linear-gradient(#30b47b,#2db27d 29.5px,#23a884 31.5px,#287c8e 102.5px,#443881 162.5px,#472b79 189.5px,#46327f 208.5px,#3d4d8a 214.5px,#38588c 225.5px,#20928c 231.5px,#1f978b)"></i><i style="background:linear-gradient(#39b876,#36b778 29.5px,#2aae7f 30.5px,#22a186 79.5px,#35608c 159.5px,#404586 204.5px,#3d4d89 209.5px,#35618c 216.5px,#32678d 225.5px,#269f85 231.5px,#28a483)"></i><i style="background:linear-gradient(#81d24c,#7bd150 29.5px,#64ca5e 30.5px,#2daa7f 130.5px,#248a8a 184.5px,#24878a 208.5px,#259d85 215.5px,#2aa382 225.5px,#49b870 228.5px,#86ce4a 230.5px,#9dd43b)"></i><i style="background:linear-gradient(#3cba75,#38b877 29.5px,#2baf7f 30.5px,#258d8b 90.5px,#404686 160.5px,#462471 201.5px,#452d78 209.5px,#414284 215.5px,#3f4a87 225.5px,#2e8689 231.5px,#2d8a88)"></i><i style="background:linear-gradient(#38b877,#34b679 29.5px,#28ad80 31.5px,#26888c 93.5px,#414285 160.5px,#461f6d 200.5px,#462774 209.5px,#433d82 215.5px,#404585 225.5px,#2d828a 231.5px,#2c868a)"></i><i style="background:linear-gradient(#79d151,#73cf55 29.5px,#5cc863 30.5px,#24a584 130.5px,#25838c 190.5px,#26808c 208.5px,#219689 215.5px,#229c87 225.5px,#37b279 228.5px,#70cb58 230.5px,#87d149)"></i><i style="background:linear-gradient(#8ad547,#84d34b 29.5px,#6bcd5a 30.5px,#50c36a 84.5px,#219a88 168.5px,#21938a 208.5px,#29a981 215.5px,#30af7d 225.5px,#57c367 228.5px,#9cd63b 230.5px,#b5db2b)"></i><i style="background:linear-gradient(#48c06e,#43be71 29.5px,#33b57a 30.5px,#229889 92.5px,#3f4987 192.5px,#404686 208.5px,#375d8b 214.5px,#34668c 225.5px,#289e84 231.5px,#29a382)"></i><i style="background:linear-gradient(#3dbc74,#39b977 29.5px,#2bb07e 30.5px,#20918c 88.5px,#404688 167.5px,#46317e 208.5px,#3e4a89 214.5px,#3a538b 225.5px,#228d8d 231.5px,#20928c)"></i><i style="background:linear-gradient(#44bf70,#3fbc73 29.5px,#2fb47c 30.5px,#1f968b 89.5px,#424086 193.5px,#423e85 208.5px,#39568c 214.5px,#355f8d 225.5px,#1f988a 231.5px,#1f9d89)"></i><i style="background:linear-gradient(#33b67a,#2fb37c 29.5px,#24aa83 31.5px,#26818e 131.5px,#3a548b 190.5px,#3b518a 208.5px,#30688e 215.5px,#2e6f8e 225.5px,#20948b 229.5px,#24a784 231.5px,#28ac81)"></i><i style="background:linear-gradient(#3aba76,#36b778 29.5px,#28ae80 30.5px,#218f8d 88.5px,#3d4c8a 160.5px,#472c7a 203.5px,#453580 209.5px,#3e4b89 216.5px,#3b518b 225.5px,#238c8d 231.5px,#22918c)"></i><i style="background:linear-gradient(#32b67a,#2eb37c 29.5px,#23a983 31.5px,#26818e 99.5px,#38588c 154.5px,#453681 195.5px,#453580 208.5px,#3d4e8a 214.5px,#39578c 225.5px,#21918c 231.5px,#20958b)"></i><i style="background:linear-gradient(#33b679,#2fb47c 29.5px,#24aa83 31.5px,#24878e 115.5px,#3c4f8a 195.5px,#3c4e8a 208.5px,#31668e 215.5px,#2f6c8e 225.5px,#22a585 231.5px,#25aa83)"></i><i style="background:linear-gradient(#37b877,#32b67a 29.5px,#26ac81 31.5px,#238a8d 103.5px,#433c84 192.5px,#443a83 208.5px,#3b528b 214.5px,#375b8c 225.5px,#20948b 231.5px,#1f998a)"></i><i style="background:linear-gradient(#3dbb74,#38b877 29.5px,#2aaf7f 30.5px,#22908c 88.5px,#3f4988 162.5px,#462c79 205.5px,#45347e 209.5px,#3e4a88 216.5px,#3b508a 225.5px,#278b8b 231.5px,#26908a)"></i><i style="background:linear-gradient(#6dce59,#66cb5d 29.5px,#50c46a 30.5px,#209c88 126.5px,#2b758d 190.5px,#2b768c 208.5px,#328b87 213.5px,#2d9b84 226.5px,#32aa7e 228.5px,#59c367 230.5px,#6cca5c)"></i><i style="background:linear-gradient(#6acd5a,#73cf55 2.5px,#6ccd5a 29.5px,#57c665 30.5px,#3cbb75 60.5px,#239c88 129.5px,#2c778d 189.5px,#2d748d 206.5px,#27828d 207.5px,#22a485 208.5px,#68c85d 209.5px,#c1d927 210.5px,#e4de30 211.5px,#e8e22d)"></i><i style="background:linear-gradient(#3cbb75,#c1de25 1.5px,#b6db2b 37.5px,#88d348 40.5px,#5ec862 42.5px,#56c367 144.5px,#2bae7f 154.5px,#2fb27c 209.5px,#38b479 215.5px,#38b479)"></i><i style="background:linear-gradient(#3bbb75,#44bd70 2.5px,#3eba73 29.5px,#32b17a 31.5px,#26a982 57.5px,#24a584 229.5px,#23a684)"></i><i style="background:linear-gradient(#32b57a,#2db27d 29.5px,#23a884 31.5px,#297c8e 102.5px,#433b80 167.5px,#45256f 207.5px,#424082 215.5px,#404786 225.5px,#27818d 231.5px,#25868d)"></i><i style="background:linear-gradient(#3cbb75,#35b778 29.5px,#29ae80 30.5px,#20958b 87.5px,#355f8d 156.5px,#423f84 203.5px,#3f4888 209.5px,#365c8c 216.5px,#33618d 225.5px,#209b89 231.5px,#219f87)"></i><i style="background:linear-gradient(#5ac864,#52c469 29.5px,#3fbc73 30.5px,#209f88 96.5px,#34618d 186.5px,#34608d 208.5px,#2a778e 215.5px,#287d8e 225.5px,#22a286 229.5px,#34b579 231.5px,#3bb975)"></i><i style="background:linear-gradient(#3cbb75,#35b779 29.5px,#28ae80 30.5px,#238c8d 85.5px,#3f4888 156.5px,#433d84 175.5px,#297a8e 209.5px,#21948b 217.5px,#23a285 226.5px,#32b07c 228.5px,#66c95d 230.5px,#7dd04f)"></i><i style="background:linear-gradient(#3cbb75,#35b779 29.5px,#28ae80 30.5px,#228c8d 102.5px,#404688 187.5px,#404486 208.5px,#365c8c 214.5px,#33658d 225.5px,#269d86 231.5px,#27a284)"></i><i style="background:linear-gradient(#3ebc74,#36b878 29.5px,#29af80 30.5px,#1f988b 87.5px,#228c8d 133.5px,#31668c 190.5px,#32638c 208.5px,#29798d 215.5px,#277f8d 225.5px,#25a584 229.5px,#3cb776 231.5px,#44bb71)"></i><i style="background:linear-gradient(#3ebc74,#36b878 29.5px,#29af80 30.5px,#21908c 79.5px,#3b518a 150.5px,#462a77 189.5px,#462674 208.5px,#423e83 213.5px,#3e4a88 225.5px,#27878c 231.5px,#268b8b)"></i><i style="background:linear-gradient(#3cbb75,#34b779 29.5px,#27ae80 30.5px,#218e8d 80.5px,#3b538a 148.5px,#45337c 181.5px,#423e83 208.5px,#375b8b 214.5px,#316a8d 225.5px,#28a582 231.5px,#2baa7f)"></i><i style="background:linear-gradient(#42be72,#39b977 29.5px,#2bb07f 30.5px,#1f9c89 78.5px,#2eab7e 124.5px,#24898a 176.5px,#25868b 208.5px,#249d86 215.5px,#28a383 225.5px,#46b971 228.5px,#82cf4c 230.5px,#9ad53c)"></i><i style="background:linear-gradient(#48c16e,#3ebc74 29.5px,#2eb37c 30.5px,#1f978b 78.5px,#375a8b 158.5px,#433b80 203.5px,#404485 209.5px,#39598b 216.5px,#365f8b 225.5px,#2b9886 231.5px,#2b9c84)"></i><i style="background:linear-gradient(#3ebc74,#35b779 29.5px,#28ae80 30.5px,#218e8d 79.5px,#2b758e 119.5px,#25858d 146.5px,#2f6a8d 194.5px,#2e6e8d 209.5px,#26828d 219.5px,#25868d 225.5px,#219d88 228.5px,#3db875 230.5px,#4ec16b)"></i><i style="background:linear-gradient(#41bd72,#37b878 29.5px,#29af7f 30.5px,#21908c 77.5px,#385c8b 148.5px,#455f85 149.5px,#495483 163.5px,#3d5088 164.5px,#404487 187.5px,#3f4788 208.5px,#355e8d 214.5px,#31678d 225.5px,#219f87 231.5px,#23a485)"></i><i style="background:linear-gradient(#3ebc74,#34b779 29.5px,#27ae80 30.5px,#218e8d 78.5px,#32648e 140.5px,#365c8d 147.5px,#2ea77f 148.5px,#e6d531 149.5px,#e7d431 163.5px,#279e83 164.5px,#3f4788 165.5px,#46327e 208.5px,#3e4b89 214.5px,#3a548b 225.5px,#218e8d 231.5px,#20938c)"></i><i style="background:linear-gradient(#51c369,#45be70 29.5px,#34b679 30.5px,#239a88 74.5px,#37628a 148.5px,#446485 149.5px,#4a5481 163.5px,#3d4f86 164.5px,#44367d 187.5px,#45307a 208.5px,#404a86 214.5px,#3d5389 225.5px,#2d8d87 231.5px,#2c9286)"></i><i style="background:linear-gradient(#9fd939,#8ed544 29.5px,#75cf53 30.5px,#5ac564 63.5px,#2aa282 152.5px,#238f86 206.5px,#34a87c 218.5px,#39ac79 225.5px,#62c062 228.5px,#a4d237 230.5px,#bcd729)"></i><i style="background:linear-gradient(#4fc36a,#42bd71 29.5px,#32b47a 30.5px,#239989 73.5px,#3a568a 150.5px,#462d77 191.5px,#462974 208.5px,#434183 213.5px,#404d87 225.5px,#2f8888 231.5px,#2e8c87)"></i><i style="background:linear-gradient(#42be72,#49c06d 3.5px,#39b976 29.5px,#2bb07e 30.5px,#20928c 79.5px,#3c4f8b 153.5px,#472a79 192.5px,#482878 208.5px,#423f85 213.5px,#3e4b89 225.5px,#24868e 231.5px,#228b8d)"></i><i style="background:linear-gradient(#41bd72,#c3df25 1.5px,#bfde27 11.5px,#b4dc2e 12.5px,#5fc863 15.5px,#46bd71 17.5px,#39ba76 19.5px,#35b878 29.5px,#28ae80 30.5px,#21908c 80.5px,#3b518b 152.5px,#472a7a 192.5px,#482878 208.5px,#423f85 213.5px,#3e4b89 225.5px,#24868e 231.5px,#228b8d)"></i><i style="background:linear-gradient(#43be71,#fae724 1.5px,#f2e42a 17.5px,#47bd70 18.5px,#3bba75 20.5px,#37b877 29.5px,#29af7f 30.5px,#20918c 75.5px,#34618d 142.5px,#46327e 190.5px,#472e7c 208.5px,#3f4788 214.5px,#3b508b 225.5px,#228b8d 231.5px,#21908c)"></i><i style="background:linear-gradient(#45bf70,#fde725 1.5px,#fde725 17.5px,#f2e42a 18.5px,#49be6f 19.5px,#3aba76 25.5px,#39b976 29.5px,#2bb07f 30.5px,#20938c 74.5px,#3c4f8a 149.5px,#482676 189.5px,#482273 208.5px,#443a83 213.5px,#404688 225.5px,#26838e 231.5px,#24888d)"></i><i style="background:linear-gradient(#42be72,#fbe724 1.5px,#f4e528 18.5px,#e7e22e 19.5px,#e6e22e 21.5px,#39b977 22.5px,#36b878 29.5px,#28ae80 30.5px,#21908d 75.5px,#443b84 169.5px,#404386 208.5px,#365d8c 214.5px,#31678d 225.5px,#20a087 231.5px,#23a485)"></i><i style="background:linear-gradient(#4bc26c,#d7e21c 1.5px,#d5e21c 5.5px,#97d743 6.5px,#9ad841 16.5px,#9ad842 17.5px,#5ac368 19.5px,#4bbf6e 25.5px,#4abf6f 28.5px,#2eb37c 30.5px,#1f978b 73.5px,#3a538b 151.5px,#472e7c 191.5px,#472c7a 208.5px,#404588 214.5px,#3c4f8a 225.5px,#238a8d 231.5px,#228f8c)"></i><i style="background:linear-gradient(#4bc26c,#b1dd2e 1.5px,#afdc2f 5.5px,#f6e627 6.5px,#f2e529 22.5px,#e8e32d 24.5px,#e8e32d 28.5px,#3ebc74 29.5px,#2eb37c 30.5px,#1f968b 74.5px,#3a548b 151.5px,#472c7a 192.5px,#472a79 208.5px,#414387 214.5px,#3d4d8a 225.5px,#24888d 231.5px,#228d8d)"></i><i style="background:linear-gradient(#62cb5f,#aedc30 1.5px,#acdc31 5.5px,#fde725 6.5px,#fde725 18.5px,#f3e529 20.5px,#f3e529 22.5px,#62c962 23.5px,#5fc863 28.5px,#3fbd73 30.5px,#20a287 77.5px,#33638d 158.5px,#3f4788 204.5px,#3c4f8a 209.5px,#33638d 217.5px,#31688e 225.5px,#20a187 231.5px,#22a585)"></i><i style="background:linear-gradient(#5ec962,#a8db33 1.5px,#a6db35 5.5px,#f3e529 6.5px,#f2e529 18.5px,#5ec764 19.5px,#4fc36a 29.5px,#3cbb75 30.5px,#1fa187 77.5px,#34618d 160.5px,#3e4988 206.5px,#32648d 217.5px,#30698e 225.5px,#20a187 231.5px,#22a685)"></i><i style="background:linear-gradient(#4ec36b,#51c26b 15.5px,#43be71 24.5px,#41bd72 29.5px,#31b47b 30.5px,#1f998a 73.5px,#39558b 152.5px,#462f7c 192.5px,#472d7b 208.5px,#404688 214.5px,#3c4f8a 225.5px,#238a8d 231.5px,#228f8c)"></i><i style="background:linear-gradient(#4ec36b,#40bd72 29.5px,#30b47b 30.5px,#1f988b 75.5px,#39568c 154.5px,#453580 193.5px,#463480 208.5px,#3d4d8a 214.5px,#39568c 225.5px,#21908c 231.5px,#20958b)"></i><i style="background:linear-gradient(#41bd72,#35b779 29.5px,#28ae80 30.5px,#218e8d 77.5px,#3d4d88 151.5px,#45337c 181.5px,#433a80 204.5px,#50427c 207.5px,#446186 215.5px,#3f6b87 225.5px,#2ca283 231.5px,#2da781)"></i><i style="background:linear-gradient(#4ec36b,#58c567 2.5px,#50c26b 20.5px,#44bf70 22.5px,#41bd72 29.5px,#31b47b 30.5px,#1f9a8a 76.5px,#249486 204.5px,#9ac73e 205.5px,#e7d230 206.5px,#e3de31)"></i><i style="background:linear-gradient(#4dc36c,#e9e32d 1.5px,#e8e22e 20.5px,#43bf71 21.5px,#40bd73 29.5px,#30b47b 30.5px,#1f998a 76.5px,#38598c 156.5px,#44397f 201.5px,#513f7b 208.5px,#495684 214.5px,#455f86 225.5px,#2e9586 231.5px,#2d9a85)"></i><i style="background:linear-gradient(#51c569,#67c960 1.5px,#58c567 9.5px,#54c369 20.5px,#48c16e 22.5px,#45bf70 29.5px,#34b679 30.5px,#1f9b8a 76.5px,#38578c 157.5px,#453781 201.5px,#423f85 209.5px,#3a548b 216.5px,#375a8c 225.5px,#20938c 231.5px,#1f988b)"></i><i style="background:linear-gradient(#44bf70,#e8e22d 1.5px,#e8e22e 3.5px,#90d643 4.5px,#42be71 5.5px,#39ba76 29.5px,#2bb07e 30.5px,#20928c 78.5px,#424186 168.5px,#472c7a 208.5px,#404587 214.5px,#3c4f8a 225.5px,#238a8d 231.5px,#228f8c)"></i><i style="background:linear-gradient(#40bd73,#4bbf6e 2.5px,#3dbc74 8.5px,#37b878 29.5px,#2ab07f 30.5px,#1fa088 83.5px,#3c4e8a 194.5px,#3d4c89 208.5px,#33628d 214.5px,#2f6b8e 225.5px,#22a386 231.5px,#25a883)"></i><i style="background:linear-gradient(#41bd72,#37b878 29.5px,#29af7f 30.5px,#20958b 121.5px,#32648d 190.5px,#33618c 208.5px,#2a788e 215.5px,#287e8e 225.5px,#22a385 229.5px,#37b678 231.5px,#3eba74)"></i><i style="background:linear-gradient(#43be71,#39b976 29.5px,#2bb07e 30.5px,#20948c 84.5px,#3b528b 156.5px,#462e7b 196.5px,#462e7b 208.5px,#3f4788 214.5px,#3b508a 225.5px,#258b8c 231.5px,#24908b)"></i><i style="background:linear-gradient(#3fbd73,#36b878 29.5px,#29af80 30.5px,#21908c 82.5px,#3d4c8a 153.5px,#482475 192.5px,#482272 208.5px,#443982 213.5px,#404587 225.5px,#26828e 231.5px,#24878e)"></i><i style="background:linear-gradient(#4fc46a,#45bf70 29.5px,#34b679 30.5px,#1f9b8a 80.5px,#38578c 158.5px,#453681 203.5px,#423f85 209.5px,#3a548b 216.5px,#375a8c 225.5px,#20948c 231.5px,#1f998a)"></i><i style="background:linear-gradient(#46c06f,#3cbb75 29.5px,#2db27d 30.5px,#1f968b 80.5px,#3a548b 154.5px,#462f7d 194.5px,#472e7c 208.5px,#3f4788 214.5px,#3b508b 225.5px,#228b8d 231.5px,#21908c)"></i><i style="background:linear-gradient(#37b878,#30b47c 29.5px,#24aa83 31.5px,#24868e 112.5px,#424086 191.5px,#433d84 208.5px,#39558c 214.5px,#355e8d 225.5px,#1f978b 231.5px,#1f9c89)"></i><i style="background:linear-gradient(#3cbb75,#34b779 29.5px,#27ae80 30.5px,#218e8d 93.5px,#433e85 173.5px,#472e7c 208.5px,#3f4788 214.5px,#3b518b 225.5px,#228b8d 231.5px,#21908c)"></i><i style="background:linear-gradient(#37b878,#30b47b 29.5px,#25aa82 31.5px,#26828e 94.5px,#443881 170.5px,#472474 208.5px,#433c83 213.5px,#3f4888 225.5px,#26848e 231.5px,#24898d)"></i><i style="background:linear-gradient(#57c666,#4ec36b 29.5px,#3cba75 30.5px,#1f9e88 89.5px,#3d4c89 192.5px,#3e4a88 208.5px,#34608d 214.5px,#30688d 225.5px,#21a186 231.5px,#24a684)"></i><i style="background:linear-gradient(#42be71,#3bba75 29.5px,#2cb17d 30.5px,#20948c 82.5px,#3b508b 155.5px,#472c7a 194.5px,#472b79 208.5px,#404487 214.5px,#3d4d8a 225.5px,#24898d 231.5px,#228e8d)"></i><i style="background:linear-gradient(#3ebc74,#37b877 29.5px,#2aaf7f 30.5px,#22908c 84.5px,#38598c 153.5px,#45347f 194.5px,#45327e 208.5px,#3e4b89 214.5px,#3a548b 225.5px,#238f8c 231.5px,#22938b)"></i><i style="background:linear-gradient(#5ec962,#56c667 29.5px,#42bd72 30.5px,#209d88 101.5px,#365b8b 191.5px,#37588a 208.5px,#2d708d 215.5px,#2b768e 225.5px,#219b88 229.5px,#2eae7e 231.5px,#34b37a)"></i><i style="background:linear-gradient(#37b877,#32b57b 29.5px,#26ab82 31.5px,#25858d 93.5px,#443a82 163.5px,#471e6e 206.5px,#433c83 216.5px,#414386 225.5px,#28818d 231.5px,#27858d)"></i><i style="background:linear-gradient(#37b877,#32b57a 29.5px,#25ac82 31.5px,#23898d 92.5px,#3e4a89 157.5px,#482777 196.5px,#482677 208.5px,#433e85 213.5px,#3e4a89 225.5px,#24868e 231.5px,#238a8d)"></i><i style="background:linear-gradient(#3aba76,#35b779 29.5px,#28ae80 30.5px,#228d8d 86.5px,#3f4889 156.5px,#482374 194.5px,#482173 208.5px,#443983 213.5px,#404588 225.5px,#26828e 231.5px,#24878e)"></i><i style="background:linear-gradient(#36b878,#31b57b 29.5px,#25ab82 31.5px,#24878e 90.5px,#433e85 157.5px,#481a6c 193.5px,#47186a 208.5px,#46317d 213.5px,#433d84 225.5px,#297b8e 231.5px,#27808e)"></i><i style="background:linear-gradient(#36b878,#31b57b 29.5px,#25ab82 31.5px,#24878e 90.5px,#443983 161.5px,#453580 188.5px,#433b83 208.5px,#3a528b 214.5px,#365b8c 225.5px,#20958b 231.5px,#1f9a8a)"></i><i style="background:linear-gradient(#3dbb74,#37b977 29.5px,#2ab07f 30.5px,#21908c 86.5px,#3e4a89 158.5px,#472b7a 195.5px,#472a79 208.5px,#414487 214.5px,#3d4d8a 225.5px,#23898d 231.5px,#228d8d)"></i><i style="background:linear-gradient(#37b878,#32b57a 29.5px,#26ac81 31.5px,#25878d 92.5px,#433c83 161.5px,#472776 195.5px,#472a78 208.5px,#414286 213.5px,#3c508a 225.5px,#248b8c 231.5px,#23908c)"></i><i style="background:linear-gradient(#5ac764,#53c568 29.5px,#40bd72 30.5px,#209989 108.5px,#345e8b 189.5px,#355c8b 208.5px,#2c738e 215.5px,#2a798e 225.5px,#219e87 229.5px,#31b17c 231.5px,#38b578)"></i><i style="background:linear-gradient(#36b778,#31b57b 29.5px,#26ab82 31.5px,#26848e 94.5px,#45357f 183.5px,#46327e 208.5px,#3e4b89 214.5px,#3a548b 225.5px,#238e8c 231.5px,#22938b)"></i><i style="background:linear-gradient(#2eb37c,#2bb07e 29.5px,#21a685 32.5px,#2b768e 104.5px,#453580 204.5px,#433d84 209.5px,#3a528b 216.5px,#38588c 225.5px,#20928c 231.5px,#1f978b)"></i><i style="background:linear-gradient(#34b779,#30b47c 29.5px,#24aa83 31.5px,#25858e 93.5px,#443b83 162.5px,#471869 203.5px,#482272 209.5px,#443881 215.5px,#424085 225.5px,#287d8e 231.5px,#26828e)"></i><i style="background:linear-gradient(#32b57a,#2fb37c 29.5px,#24a983 31.5px,#27808e 115.5px,#443982 191.5px,#453680 208.5px,#3c4f8a 214.5px,#38588c 225.5px,#21928c 231.5px,#20968b)"></i><i style="background:linear-gradient(#51c469,#4bc26c 29.5px,#39b976 30.5px,#1f9b8a 95.5px,#3d4d89 192.5px,#3e4b89 208.5px,#34618d 214.5px,#30698e 225.5px,#21a287 231.5px,#23a784)"></i><i style="background:linear-gradient(#41bd72,#3cbb75 29.5px,#2db27d 30.5px,#20948c 86.5px,#3d4c89 160.5px,#472a78 203.5px,#45337f 209.5px,#3f4888 215.5px,#3c4f8a 225.5px,#238a8d 231.5px,#228f8c)"></i><i style="background:linear-gradient(#32b57a,#2fb37c 29.5px,#24a983 31.5px,#26818e 97.5px,#443982 162.5px,#471667 203.5px,#472070 209.5px,#453680 215.5px,#423e84 225.5px,#287c8e 231.5px,#27818e)"></i><i style="background:linear-gradient(#47c06f,#42be71 29.5px,#32b57a 30.5px,#1f978b 91.5px,#414286 188.5px,#423e84 208.5px,#39558b 214.5px,#355e8c 225.5px,#20988a 231.5px,#209c89)"></i><i style="background:linear-gradient(#38b977,#34b779 29.5px,#28ae80 30.5px,#228d8d 88.5px,#404487 159.5px,#482172 198.5px,#472878 209.5px,#433e85 215.5px,#404588 225.5px,#26828e 231.5px,#24878d)"></i><i style="background:linear-gradient(#33b67a,#2fb47c 29.5px,#24aa83 31.5px,#25848e 94.5px,#443b84 160.5px,#48176a 199.5px,#481f71 209.5px,#453681 215.5px,#433d84 225.5px,#287b8e 231.5px,#27808e)"></i><i style="background:linear-gradient(#3aba76,#36b878 29.5px,#29af80 30.5px,#218e8d 87.5px,#404688 159.5px,#482474 198.5px,#472b7a 209.5px,#424086 215.5px,#3f4888 225.5px,#25848e 231.5px,#23898d)"></i><i style="background:linear-gradient(#34b779,#31b57b 29.5px,#25ab82 31.5px,#24878e 92.5px,#423f85 160.5px,#481c6e 199.5px,#482475 209.5px,#443a83 215.5px,#414286 225.5px,#277f8e 231.5px,#25848e)"></i><i style="background:linear-gradient(#2eb37c,#2bb17e 29.5px,#22a785 32.5px,#2b768e 110.5px,#46337f 169.5px,#481d6f 207.5px,#443a83 215.5px,#414286 225.5px,#277f8e 231.5px,#25848e)"></i><i style="background:linear-gradient(#32b67a,#31b47b 29.5px,#26ab82 31.5px,#29848c 97.5px,#3b528b 145.5px,#482172 189.5px,#4f2668 208.5px,#4d3f7b 214.5px,#4a487f 225.5px,#277e8e 231.5px,#26838e)"></i><i style="background:linear-gradient(#34b679,#4bc26c 1.5px,#48bb6f 128.5px,#56bf69 131.5px,#30a67f 135.5px,#3a7688 140.5px,#4c4d80 192.5px,#4c4d80 193.5px,#3a7686 194.5px,#57bb68 195.5px,#b9d32b 196.5px,#b8d62d 226.5px,#6bc65d 227.5px,#2d9a84 228.5px,#318c87 229.5px,#2c9e84 231.5px,#2da382)"></i><i style="background:linear-gradient(#47c06e,#45bf70 29.5px,#35b779 30.5px,#229a89 93.5px,#29838c 127.5px,#22a286 128.5px,#8ed245 129.5px,#e6df2f 130.5px,#e5da30 186.5px,#f9e725 199.5px,#f4e528 227.5px,#f0e32b)"></i><i style="background:linear-gradient(#4cc26c,#47c06f 29.5px,#36b878 30.5px,#1f9a8a 95.5px,#25868e 128.5px,#388 131.5px,#436286 181.5px,#3c7288 183.5px,#2e9885 185.5px,#38ae7a 186.5px,#61c363 187.5px,#c6d925 189.5px,#e6dd24 190.5px,#f1de2b 192.5px,#f1e42a)"></i><i style="background:linear-gradient(#50c46a,#4bc26c 29.5px,#39b976 30.5px,#1f9c89 95.5px,#375a8c 184.5px,#465c85 196.5px,#446186 209.5px,#3b7488 219.5px,#377f88 226.5px,#2d9a85 229.5px,#31ac7e 231.5px,#35b17b)"></i><i style="background:linear-gradient(#3dbc74,#39b976 29.5px,#2bb07e 30.5px,#21918c 87.5px,#423e85 175.5px,#45337f 208.5px,#3d4c89 214.5px,#39558b 225.5px,#228f8c 231.5px,#21948b)"></i><i style="background:linear-gradient(#30b47b,#2db27d 29.5px,#23a884 31.5px,#277e8e 98.5px,#433c84 175.5px,#414386 208.5px,#375a8c 214.5px,#33638d 225.5px,#1f9c89 231.5px,#20a187)"></i><i style="background:linear-gradient(#31b57b,#2db27d 29.5px,#23a984 31.5px,#27808e 98.5px,#453580 174.5px,#45337f 208.5px,#3d4d8a 214.5px,#39578c 225.5px,#22918c 231.5px,#21958b)"></i><i style="background:linear-gradient(#33b67a,#2fb47c 29.5px,#24aa83 31.5px,#20928c 88.5px,#23898d 123.5px,#38578b 189.5px,#39548a 208.5px,#2f6c8e 215.5px,#2c728e 225.5px,#20978a 229.5px,#28aa81 231.5px,#2daf7e)"></i><i style="background:linear-gradient(#38b977,#34b779 29.5px,#28ae80 30.5px,#228d8d 89.5px,#3e4b89 161.5px,#472d7a 204.5px,#453580 209.5px,#3e4b89 216.5px,#3b518b 225.5px,#238c8d 231.5px,#22918c)"></i><i style="background:linear-gradient(#3cbb75,#38b977 29.5px,#2ab07f 30.5px,#21918c 85.5px,#3e4b89 159.5px,#482978 201.5px,#46317e 209.5px,#404788 215.5px,#3d4e8a 225.5px,#23898d 231.5px,#228e8d)"></i><i style="background:linear-gradient(#3fbc73,#3aba76 29.5px,#2cb17e 30.5px,#20938c 88.5px,#433d84 185.5px,#453781 208.5px,#3c4f8a 214.5px,#38588c 225.5px,#20928c 231.5px,#1f978b)"></i><i style="background:linear-gradient(#31b57b,#2eb37d 29.5px,#23a983 31.5px,#26838e 103.5px,#463480 190.5px,#46307d 208.5px,#3f4989 214.5px,#3b528b 225.5px,#228d8d 231.5px,#20928c)"></i><i style="background:linear-gradient(#33b57a,#2fb37c 29.5px,#24aa83 31.5px,#27808e 99.5px,#404687 191.5px,#414386 208.5px,#375a8c 214.5px,#33628d 225.5px,#209b89 231.5px,#20a087)"></i><i style="background:linear-gradient(#56c666,#51c469 29.5px,#3ebc74 30.5px,#1f9b89 103.5px,#34618d 191.5px,#355e8d 208.5px,#2b758e 215.5px,#297b8e 225.5px,#20a087 229.5px,#30b37c 231.5px,#37b778)"></i><i style="background:linear-gradient(#50c46a,#4bc26d 29.5px,#39b977 30.5px,#1f9b8a 92.5px,#3c4e8a 192.5px,#3d4c8a 208.5px,#33628d 214.5px,#2f6a8e 225.5px,#20a386 231.5px,#23a884)"></i><i style="background:linear-gradient(#4ac16d,#45bf70 29.5px,#34b679 30.5px,#229989 91.5px,#3e4b88 192.5px,#3f4987 208.5px,#36608c 214.5px,#33688c 225.5px,#28a084 231.5px,#29a481)"></i><i style="background:linear-gradient(#86d449,#80d24d 29.5px,#68cc5c 30.5px,#2bab80 141.5px,#22908a 203.5px,#229888 209.5px,#2eab7e 219.5px,#33ae7c 225.5px,#59c266 228.5px,#9cd53b 230.5px,#b5da2b)"></i><i style="background:linear-gradient(#60ca60,#5bc864 29.5px,#46c06f 30.5px,#219f87 108.5px,#306b8d 190.5px,#31688d 208.5px,#297e8d 215.5px,#27848d 225.5px,#28a981 229.5px,#3fba72 231.5px,#48bf6e)"></i><i style="background:linear-gradient(#6ccd59,#66cc5d 29.5px,#50c469 30.5px,#209c89 130.5px,#297a8e 190.5px,#2a778e 208.5px,#228d8c 215.5px,#21938b 225.5px,#27aa82 228.5px,#54c468 230.5px,#69cb5b)"></i><i style="background:linear-gradient(#4bc26c,#46c06f 29.5px,#35b778 30.5px,#20998a 90.5px,#3e4988 189.5px,#3f4788 208.5px,#355f8d 214.5px,#31678d 225.5px,#24a086 231.5px,#26a584)"></i><i style="background:linear-gradient(#33b67a,#2fb37c 29.5px,#24aa83 31.5px,#26838e 96.5px,#453680 175.5px,#39568c 208.5px,#2d718e 214.5px,#277f8e 225.5px,#22a485 229.5px,#37b778 231.5px,#3ebb74)"></i><i style="background:linear-gradient(#35b779,#31b57b 29.5px,#25ab82 31.5px,#238a8d 115.5px,#3b518b 188.5px,#3c4f8a 208.5px,#31678e 215.5px,#2e6d8e 225.5px,#23a685 231.5px,#26ab82)"></i><i style="background:linear-gradient(#3ebc74,#39ba76 29.5px,#2bb17e 30.5px,#20928c 89.5px,#433d84 187.5px,#453882 208.5px,#3c508b 214.5px,#38598c 225.5px,#20938c 231.5px,#1f978b)"></i><i style="background:linear-gradient(#36b878,#32b57a 29.5px,#26ac82 31.5px,#23898e 100.5px,#453681 192.5px,#46347f 208.5px,#3d4c8a 214.5px,#39558c 225.5px,#218f8d 231.5px,#20948c)"></i><i style="background:linear-gradient(#41be72,#3dbb74 29.5px,#2eb27d 30.5px,#20948c 91.5px,#404487 191.5px,#414286 208.5px,#3a6389 215.5px,#416787 219.5px,#3c7288 226.5px,#2ca084 231.5px,#2ca482)"></i><i style="background:linear-gradient(#3aba76,#36b878 29.5px,#29af80 30.5px,#228e8d 86.5px,#3f4888 158.5px,#45337f 188.5px,#453681 208.5px,#3d4e8a 213.5px,#287c8e 214.5px,#73c557 215.5px,#e5d731 216.5px,#e3df30)"></i><i style="background:linear-gradient(#4dc26c,#48c06e 29.5px,#36b878 30.5px,#1f998a 95.5px,#3a528a 190.5px,#3b508a 208.5px,#356f8a 215.5px,#3b7388 219.5px,#377e88 226.5px,#2d9a85 229.5px,#31ab7e 231.5px,#34b07b)"></i><i style="background:linear-gradient(#3bba75,#37b878 29.5px,#29af7f 30.5px,#218f8d 88.5px,#3e4a89 163.5px,#46307d 206.5px,#3d4d8a 216.5px,#3a538b 225.5px,#228e8d 231.5px,#21928c)"></i><i style="background:linear-gradient(#31b57b,#30b37c 29.5px,#26aa82 31.5px,#307a8b 122.5px,#433e85 190.5px,#443a83 208.5px,#3b528b 214.5px,#375b8d 225.5px,#20948b 231.5px,#1f998a)"></i><i style="background:linear-gradient(#37b877,#53c568 1.5px,#51c369 38.5px,#5cc763 39.5px,#add830 42.5px,#b5d92c 45.5px,#b8d82b 119.5px,#afd730 120.5px,#73cb56 122.5px,#2eaf7d 124.5px,#229e87 125.5px,#2e768c 128.5px,#406987 141.5px,#4f467e 173.5px,#424183 174.5px,#453580 180.5px,#472c7b 208.5px,#404588 214.5px,#3c4f8a 225.5px,#238a8d 231.5px,#218f8d)"></i><i style="background:linear-gradient(#36b878,#34b679 29.5px,#29ad80 31.5px,#367988 117.5px,#2a9b84 118.5px,#4abc6e 119.5px,#41b474 131.5px,#41b474 133.5px,#a6cf36 134.5px,#e5d831 135.5px,#e5d731 164.5px,#f2dd2b 167.5px,#f2dd2a 173.5px,#2e9e82 174.5px,#523a78 175.5px,#4e2b6e 200.5px,#472272 202.5px,#482878 209.5px,#433e85 215.5px,#404688 225.5px,#26828e 231.5px,#24878e)"></i><i style="background:linear-gradient(#3aba76,#36b878 29.5px,#29af80 30.5px,#218f8d 86.5px,#326d8c 133.5px,#3f6c87 137.5px,#4c4e81 163.5px,#377d87 164.5px,#7ac954 165.5px,#f2dd2a 166.5px,#f2dc2a 173.5px,#e5d830 174.5px,#e7d02f 182.5px,#e8cf2e 199.5px,#97c43f 200.5px,#248e86 201.5px,#3c4c88 202.5px,#482677 203.5px,#46307d 209.5px,#404588 215.5px,#3d4d8a 225.5px,#24888e 231.5px,#228d8d)"></i><i style="background:linear-gradient(#35b778,#32b57b 29.5px,#25ac82 31.5px,#24888d 91.5px,#414285 164.5px,#4f457d 167.5px,#4d2f70 200.5px,#472674 202.5px,#472c7a 209.5px,#414286 215.5px,#3f4988 225.5px,#25858d 231.5px,#248a8d)"></i><i style="background:linear-gradient(#37b878,#33b67a 29.5px,#26ac81 31.5px,#228c8d 117.5px,#32688c 164.5px,#406987 167.5px,#465b84 208.5px,#3a6b87 212.5px,#31688d 215.5px,#2e6e8e 225.5px,#20948b 229.5px,#24a784 231.5px,#29ab81)"></i><i style="background:linear-gradient(#3ebc74,#3aba76 29.5px,#2bb17e 30.5px,#20938c 87.5px,#3c4f8a 162.5px,#306a8e 163.5px,#27a184 164.5px,#9fcd3c 165.5px,#e5d631 166.5px,#e6d631 211.5px,#9ecd3c 212.5px,#26a184 213.5px,#306a8e 214.5px,#3c508a 215.5px,#39578c 225.5px,#21918c 231.5px,#20968b)"></i><i style="background:linear-gradient(#43be71,#3fbc73 29.5px,#2fb37c 30.5px,#20958b 89.5px,#39598b 164.5px,#475a85 167.5px,#4e497f 208.5px,#415a86 212.5px,#38588c 215.5px,#355e8d 225.5px,#20988a 231.5px,#209c89)"></i><i style="background:linear-gradient(#59c764,#54c567 29.5px,#41bd72 30.5px,#1f9c89 104.5px,#34608c 190.5px,#355d8b 208.5px,#2c748e 215.5px,#297a8e 225.5px,#219f87 229.5px,#32b27b 231.5px,#39b677)"></i><i style="background:linear-gradient(#3dbb74,#39b976 29.5px,#2bb07e 30.5px,#238f8c 90.5px,#3f4686 164.5px,#452d78 207.5px,#3e4987 215.5px,#3c5089 225.5px,#298c8a 231.5px,#299089)"></i><i style="background:linear-gradient(#67cb5c,#62ca5f 29.5px,#4dc26c 30.5px,#209b89 129.5px,#2a778d 190.5px,#2b758d 204.5px,#387b86 207.5px,#2f9286 218.5px,#2e9d83 226.5px,#34ab7d 228.5px,#5dc465 230.5px,#66c95e)"></i><i style="background:linear-gradient(#38b977,#34b679 29.5px,#28ad80 31.5px,#2bb07f 75.5px,#21908c 134.5px,#2e6d8e 191.5px,#31688e 203.5px,#228d8c 204.5px,#80c94f 205.5px,#e4d931 206.5px,#e8e32d 231.5px,#4ac16d)"></i><i style="background:linear-gradient(#38b977,#34b779 29.5px,#28ad80 30.5px,#23898d 110.5px,#2b748e 164.5px,#31668d 204.5px,#3e6d87 207.5px,#358388 217.5px,#308f87 226.5px,#2fab7f 229.5px,#45bc72 231.5px,#42be72)"></i><i style="background:linear-gradient(#4fc36a,#4ac16d 29.5px,#38b977 30.5px,#1f9a8a 97.5px,#38568b 192.5px,#39548a 208.5px,#2f6c8e 215.5px,#2c728e 225.5px,#20978a 229.5px,#27aa82 231.5px,#2caf7f)"></i><i style="background:linear-gradient(#37b877,#33b67a 29.5px,#27ac81 31.5px,#23898d 92.5px,#414185 163.5px,#472473 205.5px,#462c7a 209.5px,#414286 215.5px,#3e4988 225.5px,#26858d 231.5px,#248a8d)"></i><i style="background:linear-gradient(#44bf70,#40bd73 29.5px,#30b47b 30.5px,#1f968b 89.5px,#423f85 193.5px,#433d84 208.5px,#39558b 214.5px,#355d8d 225.5px,#1f978b 231.5px,#1f9b89)"></i><i style="background:linear-gradient(#49c16d,#45bf70 29.5px,#34b679 30.5px,#1f988a 90.5px,#3f4888 194.5px,#404688 208.5px,#365d8d 214.5px,#32668d 225.5px,#219e88 231.5px,#22a386)"></i><i style="background:linear-gradient(#33b679,#30b47b 29.5px,#25aa82 31.5px,#228b8d 98.5px,#228c8c 138.5px,#2f6a8c 191.5px,#30678c 208.5px,#287e8d 215.5px,#25848d 225.5px,#219b88 228.5px,#3cb676 230.5px,#4dbf6c)"></i><i style="background:linear-gradient(#33b67a,#30b47c 29.5px,#24aa83 31.5px,#25848e 94.5px,#414386 160.5px,#46206f 202.5px,#462976 209.5px,#423f84 215.5px,#3f4687 225.5px,#29838c 231.5px,#28888c)"></i><i style="background:linear-gradient(#41bd72,#3cbb75 29.5px,#2db27d 30.5px,#20938c 92.5px,#423f85 192.5px,#433c83 208.5px,#3a548b 214.5px,#365d8d 225.5px,#20968b 231.5px,#209b89)"></i><i style="background:linear-gradient(#36b878,#43bb73 1.5px,#41ba74 29.5px,#35b27a 31.5px,#2da780 87.5px,#406887 173.5px,#445f85 208.5px,#3b7588 215.5px,#387a88 225.5px,#2c9d84 229.5px,#33af7c 231.5px,#38b479)"></i><i style="background:linear-gradient(#2eb37c,#f1e42a 1.5px,#f1e42a)"></i><i style="background:linear-gradient(#34b779,#fde725 1.5px,#fde725)"></i><i style="background:linear-gradient(#3ebc74,#fde725 1.5px,#fde725)"></i><i style="background:linear-gradient(#32b57a,#f5e627 1.5px,#fde725 222.5px,#fde725)"></i><i style="background:linear-gradient(#37b878,#7dd151 1.5px,#80d14f 43.5px,#a4d838 48.5px,#d5df20 52.5px,#f0e32b 54.5px,#f5e627)"></i><i style="background:linear-gradient(#35b779,#35b778 29.5px,#2aae7f 31.5px,#3b7588 121.5px,#3d6f87 136.5px,#31a87f 149.5px,#7aca55 159.5px,#7ccf52)"></i><i style="background:linear-gradient(#3dbc74,#49be6f 1.5px,#42bc71 29.5px,#2db27d 30.5px,#1f958b 82.5px,#3c5c89 157.5px,#493c7c 203.5px,#474581 209.5px,#3f5987 216.5px,#3c5f88 225.5px,#269589 231.5px,#259a88)"></i><i style="background:linear-gradient(#34b679,#e5e12f 1.5px,#e5e12f 28.5px,#b1da2d 29.5px,#45bf70 30.5px,#24aa82 31.5px,#31758b 118.5px,#4f3b78 186.5px,#503574 208.5px,#464d83 214.5px,#405587 225.5px,#288d8a 231.5px,#26918a)"></i><i style="background:linear-gradient(#2fb37c,#3bb677 1.5px,#34b479 29.5px,#24a983 30.5px,#29ae80 34.5px,#62c860 40.5px,#67c15f 151.5px,#70c459 152.5px,#bfd229 155.5px,#c9d326 157.5px,#cad226 211.5px,#bfd129 212.5px,#70c359 215.5px,#67c15f 217.5px,#66c95e)"></i><i style="background:linear-gradient(#32b57a,#2eb37c 29.5px,#24a983 31.5px,#259489 93.5px,#278e8a 129.5px,#406585 194.5px,#3e6886 209.5px,#30798b 218.5px,#2b848b 226.5px,#24a086 229.5px,#31b27c 231.5px,#37b678)"></i><i style="background:linear-gradient(#40bd73,#3bbb75 29.5px,#2db27d 30.5px,#20938c 86.5px,#3a538b 158.5px,#46317d 201.5px,#443982 209.5px,#3c4f8a 216.5px,#39558b 225.5px,#228f8c 231.5px,#21948b)"></i><i style="background:linear-gradient(#3aba76,#36b878 29.5px,#29af80 30.5px,#218f8d 88.5px,#433e85 173.5px,#46307d 208.5px,#3f4989 214.5px,#3b528b 225.5px,#228c8d 231.5px,#20918c)"></i><i style="background:linear-gradient(#38b977,#34b779 29.5px,#27ae80 30.5px,#228d8d 86.5px,#3f4788 156.5px,#414487 177.5px,#424086 208.5px,#38578c 214.5px,#34608d 225.5px,#1f998a 231.5px,#1f9e89)"></i><i style="background:linear-gradient(#35b779,#31b57b 29.5px,#25ab82 31.5px,#25858e 113.5px,#414387 190.5px,#424086 208.5px,#38578c 214.5px,#34608d 225.5px,#1f998a 231.5px,#1f9e88)"></i><i style="background:linear-gradient(#52c468,#4dc26b 29.5px,#3bba75 30.5px,#1f9a8a 99.5px,#39548a 191.5px,#3a528a 208.5px,#30698d 215.5px,#2d6f8e 225.5px,#20958b 229.5px,#25a883 231.5px,#2aad80)"></i><i style="background:linear-gradient(#37b878,#33b67a 29.5px,#27ac81 31.5px,#25868d 96.5px,#404586 161.5px,#462372 203.5px,#462d79 209.5px,#414285 215.5px,#3e4a88 225.5px,#27868c 231.5px,#268b8c)"></i><i style="background:linear-gradient(#4ec36b,#49c16e 29.5px,#37b877 30.5px,#20988a 102.5px,#38578a 191.5px,#395489 208.5px,#2f6b8d 215.5px,#2d718d 225.5px,#20978a 229.5px,#29aa81 231.5px,#2faf7e)"></i><i style="background:linear-gradient(#33b67a,#30b47c 29.5px,#24aa83 31.5px,#26828e 96.5px,#443a82 168.5px,#472373 207.5px,#424085 215.5px,#3f4788 225.5px,#27848d 231.5px,#25888d)"></i><i style="background:linear-gradient(#35b778,#32b57b 29.5px,#25ac82 31.5px,#23898e 90.5px,#423f85 160.5px,#481c6e 199.5px,#482475 209.5px,#443a83 215.5px,#414286 225.5px,#277f8e 231.5px,#25848e)"></i><i style="background:linear-gradient(#39b976,#35b778 29.5px,#29ae80 30.5px,#248b8c 92.5px,#414386 163.5px,#462673 205.5px,#462e7a 209.5px,#404486 215.5px,#3e4b88 225.5px,#2a878b 231.5px,#298c8a)"></i><i style="background:linear-gradient(#6acc5a,#65cb5e 29.5px,#50c36a 30.5px,#26a883 115.5px,#2da97e 118.5px,#20988a 140.5px,#287b8c 195.5px,#277f8c 209.5px,#219c88 226.5px,#2aaa80 228.5px,#59c266 230.5px,#6dc959)"></i><i style="background:linear-gradient(#38b877,#35b679 29.5px,#28ad80 31.5px,#209e88 83.5px,#1f9c89 114.5px,#2bae7f 115.5px,#aad633 116.5px,#aad533 127.5px,#58c266 128.5px,#1f9a89 129.5px,#209a89 227.5px,#249f86)"></i><i style="background:linear-gradient(#41bd72,#3dbb74 29.5px,#2eb27d 30.5px,#1f958b 91.5px,#26858d 115.5px,#308588 118.5px,#30698d 145.5px,#414184 193.5px,#423f83 208.5px,#39568b 214.5px,#355e8c 225.5px,#20958b 231.5px,#1f998a)"></i><i style="background:linear-gradient(#37b877,#33b67a 29.5px,#27ad81 31.5px,#238b8d 92.5px,#423f85 166.5px,#482676 207.5px,#414387 215.5px,#3e4a89 225.5px,#24868e 231.5px,#238b8d)"></i><i style="background:linear-gradient(#3fbc73,#3aba76 29.5px,#2cb17e 30.5px,#20928c 89.5px,#433d85 179.5px,#46347f 208.5px,#3d4c8a 214.5px,#39558c 225.5px,#218f8d 231.5px,#20948c)"></i><i style="background:linear-gradient(#36b878,#32b67a 29.5px,#26ac81 31.5px,#24888d 92.5px,#453680 190.5px,#46327e 208.5px,#3e4b89 214.5px,#3a548b 225.5px,#228e8d 231.5px,#20938c)"></i><i style="background:linear-gradient(#32b57a,#37b878 29.5px,#2aaf7f 30.5px,#1f998a 94.5px,#3d4c89 191.5px,#3e4a89 208.5px,#34618d 214.5px,#30698e 225.5px,#20a287 231.5px,#23a684)"></i><i style="background:linear-gradient(#35b778,#32b67a 29.5px,#26ac82 31.5px,#24888d 92.5px,#443982 170.5px,#453580 208.5px,#3c4f8a 214.5px,#37598c 225.5px,#20938c 231.5px,#1f988b)"></i><i style="background:linear-gradient(#38b977,#34b679 29.5px,#27ad81 30.5px,#228c8d 86.5px,#433c84 198.5px,#414387 209.5px,#38588c 216.5px,#355e8d 225.5px,#1f978b 231.5px,#1f9c89)"></i><i style="background:linear-gradient(#3dbc74,#39ba76 29.5px,#2bb17e 30.5px,#20928c 87.5px,#424086 171.5px,#472f7c 208.5px,#3f4888 214.5px,#3b518b 225.5px,#228c8d 231.5px,#21908c)"></i><i style="background:linear-gradient(#40bd72,#3cbb75 29.5px,#2db27d 30.5px,#20948c 91.5px,#433d84 188.5px,#443882 208.5px,#3b508b 214.5px,#37598c 225.5px,#20938c 231.5px,#1f988b)"></i><i style="background:linear-gradient(#31b47b,#2db27d 29.5px,#23a884 31.5px,#297a8e 120.5px,#453781 190.5px,#46337f 208.5px,#3e4c8a 214.5px,#39558c 225.5px,#218f8d 231.5px,#20948c)"></i><i style="background:linear-gradient(#33b67a,#2fb47c 29.5px,#24aa83 31.5px,#25848e 98.5px,#2f6b8e 145.5px,#404386 192.5px,#414185 208.5px,#38588c 214.5px,#34618d 225.5px,#1f9a8a 231.5px,#209f88)"></i><i style="background:linear-gradient(#35b778,#33b67a 29.5px,#26ad81 31.5px,#238b8d 90.5px,#404587 158.5px,#482272 196.5px,#482172 208.5px,#443982 213.5px,#404587 225.5px,#26828e 231.5px,#24878d)"></i><i style="background:linear-gradient(#34b779,#31b57b 29.5px,#25ab82 31.5px,#24868e 93.5px,#433e85 160.5px,#481a6c 199.5px,#481c6e 208.5px,#453882 213.5px,#404487 225.5px,#26818e 231.5px,#24868e)"></i><i style="background:linear-gradient(#35b779,#31b57b 29.5px,#25ab82 31.5px,#24878e 95.5px,#3e4a89 158.5px,#482777 197.5px,#482978 208.5px,#3f4788 213.5px,#3a528b 225.5px,#228d8d 231.5px,#20928c)"></i><i style="background:linear-gradient(#35b779,#31b57b 29.5px,#25ab82 31.5px,#24888e 91.5px,#414186 159.5px,#481e6f 197.5px,#482172 208.5px,#414286 212.5px,#3c4f8a 225.5px,#238a8d 231.5px,#228f8c)"></i><i style="background:linear-gradient(#35b779,#31b57b 29.5px,#25ab82 31.5px,#24878e 94.5px,#375a8c 159.5px,#433b83 204.5px,#414186 208.5px,#34618d 212.5px,#2e6d8e 225.5px,#20938c 229.5px,#22a685 231.5px,#26aa82)"></i><i style="background:linear-gradient(#3dbc74,#38b977 29.5px,#2ab07f 30.5px,#20918c 88.5px,#3e4b89 162.5px,#472d7b 205.5px,#463480 208.5px,#37598c 212.5px,#32658e 225.5px,#1f9e89 231.5px,#20a387)"></i><i style="background:linear-gradient(#33b67a,#2fb47c 29.5px,#24aa83 31.5px,#25838e 99.5px,#443982 167.5px,#481f70 206.5px,#46327f 209.5px,#3c508b 212.5px,#365d8d 225.5px,#1f968b 231.5px,#1f9b8a)"></i><i style="background:linear-gradient(#30b47b,#2fb47c 29.5px,#25ab82 31.5px,#25858e 102.5px,#443882 176.5px,#472c7a 207.5px,#375b8c 212.5px,#31678e 225.5px,#1fa088 231.5px,#21a586)"></i><i style="background:linear-gradient(#2fb47c,#2cb17e 29.5px,#22a884 31.5px,#287b8e 100.5px,#453681 160.5px,#48186a 194.5px,#48186a 207.5px,#3e4a89 212.5px,#38598c 225.5px,#20938c 231.5px,#1f988b)"></i><i style="background:linear-gradient(#32b57a,#31b57b 29.5px,#25ab82 31.5px,#24888e 91.5px,#433d85 160.5px,#481c6e 198.5px,#481c6e 207.5px,#3d4d8a 212.5px,#375a8c 225.5px,#20948c 231.5px,#1f998a)"></i><i style="background:linear-gradient(#32b57a,#2eb37d 29.5px,#23a983 31.5px,#26818e 95.5px,#453681 165.5px,#482777 206.5px,#443a83 209.5px,#38588c 212.5px,#32648e 225.5px,#1f9d89 231.5px,#20a287)"></i><i style="background:linear-gradient(#40bd73,#3bba75 29.5px,#2cb17e 30.5px,#20938c 89.5px,#423e85 177.5px,#46337f 207.5px,#34618d 212.5px,#2e6d8e 225.5px,#21a585 231.5px,#24aa83)"></i><i style="background:linear-gradient(#37b878,#32b67a 29.5px,#26ac82 31.5px,#238a8d 96.5px,#443b83 171.5px,#482877 207.5px,#38578c 212.5px,#33638d 225.5px,#1f9c89 231.5px,#1fa187)"></i><i style="background:linear-gradient(#35b779,#30b47b 29.5px,#25ab82 31.5px,#24868e 91.5px,#424186 159.5px,#481f70 197.5px,#481f70 207.5px,#3c508a 212.5px,#365c8d 225.5px,#20968b 231.5px,#1f9b8a)"></i><i style="background:linear-gradient(#3ebc74,#38b977 29.5px,#2ab07f 30.5px,#20918c 82.5px,#433d84 167.5px,#453680 207.5px,#33638d 212.5px,#2d6f8e 225.5px,#20958b 229.5px,#23a884 231.5px,#27ac81)"></i><i style="background:linear-gradient(#3fbd73,#3aba76 29.5px,#2cb17e 30.5px,#20928c 84.5px,#3d4c8a 157.5px,#472a79 195.5px,#472978 207.5px,#38588c 212.5px,#32658e 225.5px,#209e88 231.5px,#21a287)"></i><i style="background:linear-gradient(#49c16e,#43be71 29.5px,#32b57a 30.5px,#1f988a 89.5px,#414286 192.5px,#423f84 207.5px,#306a8e 212.5px,#2b768e 225.5px,#1f9b89 229.5px,#2aae80 231.5px,#30b37c)"></i><i style="background:linear-gradient(#3dbb74,#37b877 29.5px,#2aaf7f 30.5px,#23908c 86.5px,#3f4b86 158.5px,#462971 198.5px,#472f76 208.5px,#3d5888 212.5px,#38648a 225.5px,#249a88 231.5px,#239e87)"></i><i style="background:linear-gradient(#4dc36b,#47c06f 29.5px,#35b778 30.5px,#35a479 207.5px,#58bb67 213.5px,#55c367)"></i><i style="background:linear-gradient(#3cbb75,#36b878 29.5px,#29af7f 30.5px,#23908c 87.5px,#404a86 161.5px,#472b74 204.5px,#47347a 208.5px,#3c5b89 212.5px,#36678b 225.5px,#229d88 231.5px,#22a186)"></i><i style="background:linear-gradient(#41be72,#3bbb75 29.5px,#2cb27e 30.5px,#20938c 83.5px,#3c4e8a 157.5px,#472b7a 197.5px,#472b7a 207.5px,#375a8c 212.5px,#31668e 225.5px,#1f9f88 231.5px,#20a486)"></i><i style="background:linear-gradient(#3ebc74,#38b977 29.5px,#2ab07f 30.5px,#20918c 85.5px,#3e4c8a 159.5px,#472a79 201.5px,#46327e 208.5px,#375a8c 212.5px,#31678e 225.5px,#1f9f88 231.5px,#20a486)"></i><i style="background:linear-gradient(#38b977,#33b67a 29.5px,#26ac81 31.5px,#23898d 92.5px,#423f85 165.5px,#482676 207.5px,#39568c 212.5px,#33628d 225.5px,#209b89 231.5px,#20a087)"></i><i style="background:linear-gradient(#50c46a,#48c16e 29.5px,#37b878 30.5px,#1f9b89 88.5px,#404587 193.5px,#414386 207.5px,#2e6e8e 212.5px,#29798e 225.5px,#209e88 229.5px,#2eb17d 231.5px,#34b679)"></i><i style="background:linear-gradient(#41be72,#3bba76 29.5px,#2cb17e 30.5px,#20938c 84.5px,#3d4c8a 160.5px,#472d7b 203.5px,#453680 208.5px,#355e8d 212.5px,#306a8e 225.5px,#22a286 231.5px,#24a784)"></i><i style="background:linear-gradient(#3dbc74,#37b878 29.5px,#29af7f 30.5px,#21908d 81.5px,#414287 174.5px,#3d4b89 207.5px,#2b768e 212.5px,#26828e 225.5px,#24a784 229.5px,#3bb976 231.5px,#43be71)"></i><i style="background:linear-gradient(#43be71,#3cbb75 29.5px,#2db27d 30.5px,#20948c 84.5px,#3d4d8a 160.5px,#462e7c 203.5px,#443781 208.5px,#355f8d 212.5px,#2f6b8e 225.5px,#22a486 231.5px,#24a883)"></i><i style="background:linear-gradient(#36b878,#30b47b 29.5px,#25aa82 31.5px,#24868e 96.5px,#443b83 165.5px,#481f71 206.5px,#46327f 209.5px,#3b518b 212.5px,#355d8d 225.5px,#1f978b 231.5px,#1f9c89)"></i><i style="background:linear-gradient(#42be71,#3bba75 29.5px,#2cb17e 30.5px,#20948c 80.5px,#3c4f8b 152.5px,#482676 192.5px,#482273 207.5px,#3a538b 212.5px,#345f8d 225.5px,#1f998a 231.5px,#1f9d89)"></i><i style="background:linear-gradient(#39ba76,#32b67a 29.5px,#26ac82 31.5px,#238a8d 86.5px,#414387 154.5px,#481a6c 192.5px,#481769 207.5px,#3f4989 212.5px,#39568c 225.5px,#21908c 231.5px,#1f958b)"></i><i style="background:linear-gradient(#3cbb75,#34b779 29.5px,#28ae80 30.5px,#218e8d 81.5px,#3e4a89 150.5px,#481c6e 190.5px,#481769 207.5px,#3f4989 212.5px,#39568c 225.5px,#21908c 231.5px,#1f958b)"></i><i style="background:linear-gradient(#40bd72,#38b977 29.5px,#2ab07f 30.5px,#21918c 80.5px,#3b518b 151.5px,#472676 191.5px,#482273 207.5px,#3a538b 212.5px,#355f8d 225.5px,#20998a 231.5px,#209d88)"></i><i style="background:linear-gradient(#57c666,#4dc36b 29.5px,#3bba75 30.5px,#209e88 86.5px,#3d4c89 192.5px,#3e4988 207.5px,#2c738e 212.5px,#277e8e 225.5px,#21a386 229.5px,#35b679 231.5px,#3cba75)"></i><i style="background:linear-gradient(#41bd72,#39b877 29.5px,#2baf7e 30.5px,#248f8c 83.5px,#3e4988 179.5px,#404687 207.5px,#2d708e 212.5px,#297c8e 225.5px,#23a186 229.5px,#32b37a 231.5px,#39b776)"></i><i style="background:linear-gradient(#79d151,#6dcd59 29.5px,#57c666 30.5px,#24a185 118.5px,#2b748c 189.5px,#2c708c 207.5px,#298 213.5px,#26a383 225.5px,#43b872 228.5px,#7fcf4e 230.5px,#97d43e)"></i><i style="background:linear-gradient(#42be71,#3ab976 29.5px,#2cb07e 30.5px,#23928b 79.5px,#3d4e89 149.5px,#461f6e 191.5px,#461b6a 207.5px,#3d4d88 212.5px,#385a8b 225.5px,#289488 231.5px,#289886)"></i><i style="background:linear-gradient(#3bbb75,#46bd71 2.5px,#35b779 27.5px,#26ac82 32.5px,#24898d 88.5px,#414585 156.5px,#461e69 195.5px,#461c67 207.5px,#404d86 212.5px,#3b5a8a 225.5px,#24918b 231.5px,#22958a)"></i><i style="background:linear-gradient(#40bd73,#e4e12c 1.5px,#dde029 18.5px,#bbdc28 21.5px,#50c469 27.5px,#2bb07e 30.5px,#2da37e 208.5px,#45b672 213.5px,#47be6f)"></i><i style="background:linear-gradient(#40bd72,#4bbf6e 2.5px,#39b976 27.5px,#28ae80 32.5px,#228f8c 82.5px,#2c768d 123.5px,#28808d 148.5px,#35618b 199.5px,#33678c 208.5px,#27888c 212.5px,#229a89 226.5px,#26a883 228.5px,#4cc16c 230.5px,#5fc961)"></i><i style="background:linear-gradient(#4fc36a,#59c665 2.5px,#48c06e 19.5px,#44bf70 29.5px,#33b67a 30.5px,#1f9a8a 77.5px,#3b508a 159.5px,#462e7b 201.5px,#453680 208.5px,#355e8d 212.5px,#306a8e 225.5px,#23a286 231.5px,#25a783)"></i><i style="background:linear-gradient(#3ebc74,#e7e321 1.5px,#e6e321 7.5px,#b8dd2b 8.5px,#68cb5e 9.5px,#47bd71 10.5px,#3bb975 29.5px,#2aaf7f 31.5px,#20938c 77.5px,#3c508b 150.5px,#482474 191.5px,#482071 207.5px,#3b508b 212.5px,#355d8d 225.5px,#1f978b 231.5px,#1f9b8a)"></i><i style="background:linear-gradient(#3cbb75,#fce724 1.5px,#f9e725 8.5px,#f1e42a 17.5px,#f1e42a 24.5px,#8cd545 25.5px,#8bd546 29.5px,#76d053 30.5px,#2eb37c 32.5px,#24aa83 35.5px,#26838e 93.5px,#443982 161.5px,#471466 202.5px,#471d6e 208.5px,#3f4988 212.5px,#39568c 225.5px,#22908c 231.5px,#21958b)"></i><i style="background:linear-gradient(#41be72,#fde725 1.5px,#fde725 24.5px,#95d840 25.5px,#91d743 29.5px,#7cd250 30.5px,#32b57a 32.5px,#27ad81 34.5px,#228e8d 87.5px,#2e6d8e 143.5px,#404385 191.5px,#413f84 207.5px,#2f6b8d 212.5px,#2b768e 225.5px,#209c89 229.5px,#2cae7e 231.5px,#33b37b)"></i><i style="background:linear-gradient(#41be72,#fde725 1.5px,#fde725 24.5px,#94d840 25.5px,#91d742 29.5px,#7cd250 30.5px,#34b679 32.5px,#2aae7f 34.5px,#24868e 93.5px,#423f85 159.5px,#471b6c 197.5px,#471a6c 207.5px,#3d4c89 212.5px,#37598c 225.5px,#21938b 231.5px,#21988a)"></i><i style="background:linear-gradient(#4fc36b,#fde725 1.5px,#fde725 24.5px,#a2da38 25.5px,#93d741 26.5px,#92d742 29.5px,#83d44b 30.5px,#69cb5d 31.5px,#59c665 42.5px,#4bc16d 65.5px,#22a386 76.5px,#38578c 153.5px,#45337e 195.5px,#45327d 207.5px,#355f8d 212.5px,#306a8e 225.5px,#1fa187 231.5px,#21a585)"></i><i style="background:linear-gradient(#4bc26c,#fde725 1.5px,#f9e725 24.5px,#a1da38 25.5px,#95d840 27.5px,#90d743 29.5px,#bedf26 30.5px,#f4e528 31.5px,#f4e528 35.5px,#c0df25 36.5px,#54c667 37.5px,#43bc72 100.5px,#1f9a8a 121.5px,#2e6e8e 141.5px,#2d6f8d 208.5px,#26828e 213.5px,#25868e 228.5px,#22a385)"></i><i style="background:linear-gradient(#45bf70,#fde725 1.5px,#fde725 18.5px,#c2df25 19.5px,#b9de29 27.5px,#a3da37 28.5px,#74d054 29.5px,#9bd93c 30.5px,#fde725 31.5px,#fde725 35.5px,#c5e022 36.5px,#54c568 37.5px,#46c06f 99.5px,#1e9b8a 120.5px,#2e6e8e 138.5px,#2c738e 208.5px,#25848e 214.5px,#20918c 226.5px,#209f88 228.5px,#45bd70 231.5px,#4ec16b)"></i><i style="background:linear-gradient(#42be71,#fde725 1.5px,#fae725 18.5px,#bfdf25 19.5px,#bcdf27 27.5px,#a3db37 28.5px,#71cf57 29.5px,#94d840 30.5px,#f5e628 31.5px,#f5e628 35.5px,#bedf26 36.5px,#55c667 37.5px,#42bb72 100.5px,#1f988a 120.5px,#2e6d8e 138.5px,#2e6e8d 208.5px,#26818e 213.5px,#25868d 229.5px,#229889)"></i><i style="background:linear-gradient(#44bf70,#fde725 1.5px,#fae725 17.5px,#c3e025 18.5px,#bcdf27 27.5px,#a4db36 28.5px,#72cf56 29.5px,#6ccc59 36.5px,#62c95f 45.5px,#59c665 54.5px,#23a585 65.5px,#23938a 78.5px,#3b518b 147.5px,#472271 191.5px,#461f6e 207.5px,#3c4f8a 212.5px,#375b8c 225.5px,#20928c 231.5px,#1f978b)"></i><i style="background:linear-gradient(#3aba76,#f4e528 1.5px,#f1e527 14.5px,#bfde28 15.5px,#b5dd2b 27.5px,#9cd83b 28.5px,#3cba75 30.5px,#2db17d 32.5px,#218f8d 70.5px,#3d4c8a 147.5px,#481c6e 189.5px,#481669 207.5px,#3f4889 212.5px,#39568c 225.5px,#21908d 231.5px,#1f958c)"></i><i style="background:linear-gradient(#3fbd73,#73cd59 1.5px,#62c961 14.5px,#41bd72 29.5px,#32b57b 30.5px,#1fa187 49.5px,#375a8c 135.5px,#482273 188.5px,#481d6f 207.5px,#3c4e8a 212.5px,#365b8d 225.5px,#1f958b 231.5px,#1f9a8a)"></i><i style="background:linear-gradient(#4ec36b,#ebe42c 1.5px,#eae42c 6.5px,#addb30 7.5px,#5ec961 8.5px,#47c06e 29.5px,#37b877 31.5px,#20a386 57.5px,#31678e 133.5px,#472978 189.5px,#482474 207.5px,#3a548b 212.5px,#34618d 225.5px,#1f9a8a 231.5px,#1f9e88)"></i><i style="background:linear-gradient(#43be71,#74ce59 1.5px,#72cd5a 6.5px,#63ca5f 9.5px,#40bd73 29.5px,#30b47b 31.5px,#1f9f88 54.5px,#375a8c 136.5px,#471a6c 189.5px,#471466 207.5px,#3f4788 212.5px,#3a548b 225.5px,#228f8c 231.5px,#21948b)"></i><i style="background:linear-gradient(#56c666,#ebe42c 1.5px,#eae42c 6.5px,#a8db34 7.5px,#a5da35 13.5px,#90d643 14.5px,#6ccd5a 15.5px,#5ac864 16.5px,#4dc36c 29.5px,#3ebc74 30.5px,#24a983 56.5px,#26818e 118.5px,#423e84 191.5px,#433a82 207.5px,#31678d 212.5px,#2c728e 225.5px,#1f988a 229.5px,#26ab82 231.5px,#2baf7f)"></i><i style="background:linear-gradient(#41be72,#6bcc5c 1.5px,#4fc46a 20.5px,#26ac82 38.5px,#238a8d 98.5px,#443b83 175.5px,#472d7b 207.5px,#365b8d 212.5px,#31688e 225.5px,#1fa088 231.5px,#21a585)"></i><i style="background:linear-gradient(#53c568,#62ca5f 1.5px,#4ac26d 29.5px,#3cbb75 30.5px,#22a784 55.5px,#297a8e 120.5px,#453681 189.5px,#46327e 207.5px,#345f8d 212.5px,#2f6c8e 225.5px,#20a486 231.5px,#23a983)"></i><i style="background:linear-gradient(#45bf70,#65cb5e 1.5px,#4cc26c 24.5px,#43be71 29.5px,#33b67a 31.5px,#20a287 51.5px,#365d8d 135.5px,#443982 173.5px,#423f85 207.5px,#2f6b8e 212.5px,#2a768e 225.5px,#1f9c89 229.5px,#29ae80 231.5px,#2fb37c)"></i><i style="background:linear-gradient(#40bd73,#8dd645 1.5px,#7dd24f 21.5px,#59c764 29.5px,#3ebc74 32.5px,#22a884 40.5px,#26818e 106.5px,#355d8d 150.5px,#443a83 192.5px,#453781 207.5px,#32648d 212.5px,#2d708e 225.5px,#1f958b 229.5px,#23a884 231.5px,#27ad81)"></i><i style="background:linear-gradient(#45bf70,#68cc5c 1.5px,#50c36a 24.5px,#45bf70 29.5px,#35b779 31.5px,#20a586 48.5px,#32668e 129.5px,#46307d 188.5px,#472b7a 207.5px,#375a8c 212.5px,#31668e 225.5px,#209f88 231.5px,#21a486)"></i><i style="background:linear-gradient(#45bf70,#8dd645 1.5px,#7ed24f 21.5px,#5cc863 29.5px,#41bd72 32.5px,#24ab82 40.5px,#24868e 116.5px,#404487 191.5px,#414185 207.5px,#2f6c8e 212.5px,#2a788e 225.5px,#1f9d89 229.5px,#2cb07e 231.5px,#32b47b)"></i><i style="background:linear-gradient(#4dc36b,#65cb5e 1.5px,#4ac16d 28.5px,#36b878 32.5px,#20a386 56.5px,#31688e 133.5px,#472b79 189.5px,#472675 207.5px,#39558c 212.5px,#33628d 225.5px,#209b89 231.5px,#20a087)"></i><i style="background:linear-gradient(#57c666,#62ca60 2.5px,#4dc36c 29.5px,#3ebc74 30.5px,#23a983 55.5px,#26818e 116.5px,#433b83 191.5px,#443881 207.5px,#32648d 212.5px,#2d708e 225.5px,#20958b 229.5px,#24a883 231.5px,#29ad80)"></i><i style="background:linear-gradient(#4ac16d,#65cb5e 1.5px,#4cc26c 26.5px,#2eb27d 35.5px,#1f998a 68.5px,#3a538b 145.5px,#481f70 189.5px,#481a6b 207.5px,#3e4b89 212.5px,#38598c 225.5px,#21928c 231.5px,#20978b)"></i><i style="background:linear-gradient(#44bf70,#8dd645 1.5px,#7dd24f 21.5px,#5bc863 29.5px,#41bd72 32.5px,#24ab82 40.5px,#25858e 92.5px,#433c84 158.5px,#481668 195.5px,#481467 207.5px,#404788 212.5px,#3a548c 225.5px,#218e8d 231.5px,#20938c)"></i><i style="background:linear-gradient(#43bf71,#67cc5c 1.5px,#50c469 23.5px,#44be71 29.5px,#34b679 31.5px,#20a486 48.5px,#31668e 126.5px,#472978 173.5px,#471668 207.5px,#3f4888 212.5px,#39568c 225.5px,#21908c 231.5px,#20958b)"></i><i style="background:linear-gradient(#53c568,#8cd646 1.5px,#7bd150 22.5px,#62ca60 29.5px,#49c16d 32.5px,#2bb17e 41.5px,#1f958b 88.5px,#404587 172.5px,#45347f 207.5px,#33628d 212.5px,#2e6d8e 225.5px,#20938c 229.5px,#22a685 231.5px,#26ab82)"></i><i style="background:linear-gradient(#4fc46a,#64cb5e 1.5px,#4ac16d 29.5px,#39ba76 31.5px,#22a784 53.5px,#29798e 119.5px,#46317e 190.5px,#472d7b 207.5px,#365b8d 212.5px,#31678e 225.5px,#1fa088 231.5px,#21a585)"></i><i style="background:linear-gradient(#46c070,#60ca60 1.5px,#47c06f 26.5px,#2bb07e 35.5px,#1f958b 71.5px,#3c508b 146.5px,#481d6f 189.5px,#48176a 207.5px,#3e4989 212.5px,#39578c 225.5px,#21918c 231.5px,#20968b)"></i><i style="background:linear-gradient(#47c06f,#63cb5f 1.5px,#4bc26d 25.5px,#44bf70 29.5px,#34b679 31.5px,#20a386 52.5px,#32658e 131.5px,#482373 189.5px,#481d6f 207.5px,#3c4e8a 212.5px,#365b8d 225.5px,#20958b 231.5px,#209a8a)"></i><i style="background:linear-gradient(#59c765,#8ad547 1.5px,#7ad151 22.5px,#63cb5f 29.5px,#4cc26c 32.5px,#2eb37c 42.5px,#1f978b 90.5px,#424185 188.5px,#433b83 207.5px,#31678e 212.5px,#2c738e 225.5px,#1f988a 229.5px,#27ab81 231.5px,#2cb07e)"></i><i style="background:linear-gradient(#46c06f,#62ca5f 1.5px,#4fc36a 24.5px,#47bf6f 29.5px,#38b877 31.5px,#21a486 51.5px,#32658d 132.5px,#462e7c 200.5px,#453580 208.5px,#365d8d 212.5px,#30698e 225.5px,#21a287 231.5px,#23a784)"></i><i style="background:linear-gradient(#63cb5f,#6fcd5a 1.5px,#6acd5a 12.5px,#89d548 15.5px,#75cf54 37.5px,#37b878 43.5px,#1f9f88 88.5px,#3b508a 193.5px,#3c4e89 207.5px,#2b768e 213.5px,#27808e 225.5px,#22a585 229.5px,#37b778 231.5px,#3fbb74)"></i><i style="background:linear-gradient(#52c568,#f2e528 1.5px,#eae42c 8.5px,#a4da36 9.5px,#9ad83c 22.5px,#55c667 26.5px,#3cba74 32.5px,#23a884 55.5px,#287d8e 119.5px,#433c83 190.5px,#443881 207.5px,#355e8d 212.5px,#2f6b8e 225.5px,#21a386 231.5px,#24a883)"></i><i style="background:linear-gradient(#41bd72,#cbe021 1.5px,#cadf22 5.5px,#64c960 7.5px,#3ebc73 29.5px,#30b47b 31.5px,#209f88 57.5px,#3b6289 139.5px,#4b2d71 190.5px,#4c296d 207.5px,#4b4f82 212.5px,#465c85 225.5px,#2f9386 231.5px,#2e9886)"></i><i style="background:linear-gradient(#42be71,#4bc06c 2.5px,#34b679 41.5px,#36b27a 97.5px,#70c659 120.5px,#74bc55 206.5px,#7fbf4e 207.5px,#bfcc28 209.5px,#dcd029 210.5px,#e7d431 212.5px,#e3dd31)"></i><i style="background:linear-gradient(#42be71,#38b977 29.5px,#2bb07e 30.5px,#22928b 81.5px,#3e5c88 150.5px,#4a3577 193.5px,#4d3675 208.5px,#495483 213.5px,#455e85 225.5px,#2f9586 231.5px,#2f9985)"></i><i style="background:linear-gradient(#62ca5f,#56c666 29.5px,#42be72 30.5px,#21a386 84.5px,#2c7e8c 144.5px,#387c88 148.5px,#3c6786 172.5px,#35618c 177.5px,#375b8b 208.5px,#2d748d 214.5px,#27828d 226.5px,#209e88 229.5px,#2eb17d 231.5px,#35b579)"></i><i style="background:linear-gradient(#6dce59,#60ca61 29.5px,#4bc26d 30.5px,#23a983 89.5px,#23a285 143.5px,#4ebc6d 144.5px,#b4d32e 145.5px,#e4d931 146.5px,#e5d631 171.5px,#adcf32 172.5px,#3cb077 173.5px,#259f85 174.5px,#25a584 227.5px,#26aa82 229.5px,#40bc73 231.5px,#49c06e)"></i><i style="background:linear-gradient(#56c666,#4bc26d 29.5px,#38b977 30.5px,#1f9e89 81.5px,#30738c 144.5px,#3c7187 148.5px,#435a85 172.5px,#3b5389 177.5px,#3e4a87 208.5px,#34628c 215.5px,#32688d 225.5px,#219f87 231.5px,#23a485)"></i><i style="background:linear-gradient(#3dbb74,#34b779 29.5px,#27ad81 30.5px,#228d8d 81.5px,#404587 157.5px,#482273 199.5px,#472a79 209.5px,#424085 215.5px,#3f4788 225.5px,#26838e 231.5px,#24888d)"></i><i style="background:linear-gradient(#3ebc74,#36b878 29.5px,#28ae80 30.5px,#218f8d 80.5px,#3e4b89 154.5px,#482676 193.5px,#482474 208.5px,#443b84 213.5px,#3f4788 225.5px,#25838e 231.5px,#23888e)"></i><i style="background:linear-gradient(#3cbb75,#34b679 29.5px,#27ac81 31.5px,#24888d 87.5px,#433b83 166.5px,#472373 207.5px,#424085 215.5px,#3f4788 225.5px,#27848d 231.5px,#25898d)"></i><i style="background:linear-gradient(#61ca60,#56c666 29.5px,#42be71 30.5px,#21a187 89.5px,#33628c 170.5px,#38568a 208.5px,#2e6d8d 215.5px,#2c738e 225.5px,#209989 229.5px,#2bac80 231.5px,#31b07c)"></i><i style="background:linear-gradient(#43be71,#3bba75 29.5px,#2cb17e 30.5px,#20938c 80.5px,#3c508a 155.5px,#462d7b 194.5px,#472c7a 208.5px,#404587 214.5px,#3c4e8a 225.5px,#248a8d 231.5px,#238e8c)"></i><i style="background:linear-gradient(#3ebc74,#36b878 29.5px,#29af80 30.5px,#21908d 81.5px,#3d4d8a 154.5px,#482878 193.5px,#482676 208.5px,#433e85 213.5px,#3e4989 225.5px,#25858e 231.5px,#238a8d)"></i><i style="background:linear-gradient(#3ebc74,#36b878 29.5px,#29af80 30.5px,#21908c 82.5px,#3d4d8a 156.5px,#472b7a 195.5px,#472a7a 208.5px,#414487 214.5px,#3d4d8a 225.5px,#23888e 231.5px,#228d8d)"></i><i style="background:linear-gradient(#3fbd73,#3dba74 29.5px,#30b27b 30.5px,#289388 83.5px,#375a8c 147.5px,#45317a 191.5px,#452e78 208.5px,#404686 214.5px,#3c4f89 225.5px,#24878e 231.5px,#228b8d)"></i><i style="background:linear-gradient(#4ec36b,#4cc26c 6.5px,#57c666 7.5px,#8cd545 9.5px,#9ad83d 10.5px,#8cd046 107.5px,#85cd4b 121.5px,#30af7d 128.5px,#20988a 131.5px,#20978a 226.5px,#219d88)"></i><i style="background:linear-gradient(#69cd5b,#65cb5e 29.5px,#51c469 30.5px,#27a682 105.5px,#25858e 150.5px,#306b8d 203.5px,#2b768e 210.5px,#218e8d 226.5px,#25aa82 229.5px,#3ebb74 231.5px,#47bf6f)"></i><i style="background:linear-gradient(#5ac864,#51c469 29.5px,#3ebc74 30.5px,#1fa088 92.5px,#375b8c 191.5px,#38588c 208.5px,#2d6f8e 215.5px,#2b758e 225.5px,#1f9a8a 229.5px,#28ad80 231.5px,#2db27d)"></i><i style="background:linear-gradient(#65cb5e,#5bc863 29.5px,#47c06f 30.5px,#20a387 97.5px,#33638d 191.5px,#34608d 208.5px,#2a778e 215.5px,#287d8e 225.5px,#20a287 229.5px,#31b47b 231.5px,#38b977)"></i><i style="background:linear-gradient(#59c765,#50c469 29.5px,#3dbc74 30.5px,#1f9f88 90.5px,#3a528a 192.5px,#3b508a 208.5px,#31688d 215.5px,#2e6e8e 225.5px,#20948b 229.5px,#24a784 231.5px,#28ab81)"></i><i style="background:linear-gradient(#42bd71,#3bb975 29.5px,#2eb17d 30.5px,#25918a 84.5px,#3d4e88 155.5px,#452b75 193.5px,#452973 208.5px,#424383 214.5px,#3f4d86 225.5px,#308887 231.5px,#2f8d86)"></i><i style="background:linear-gradient(#8fd543,#86d349 29.5px,#6ecd58 30.5px,#57c366 70.5px,#27a083 155.5px,#238f87 207.5px,#31a77d 217.5px,#38ab7a 225.5px,#5fbf63 228.5px,#a1d238 230.5px,#b9d72a)"></i><i style="background:linear-gradient(#4ac16d,#43bd71 29.5px,#33b57a 30.5px,#239789 87.5px,#3e4b87 172.5px,#433c81 208.5px,#3b5489 214.5px,#385d8b 225.5px,#2b9686 231.5px,#2b9a84)"></i><i style="background:linear-gradient(#39b977,#33b67a 29.5px,#26ac81 31.5px,#21a486 80.5px,#2e6d8e 155.5px,#3c4f8a 203.5px,#38588c 209.5px,#2f6b8e 217.5px,#2d708e 225.5px,#20958b 229.5px,#25a883 231.5px,#29ad80)"></i><i style="background:linear-gradient(#39b976,#33b679 29.5px,#27ad81 30.5px,#238a8d 90.5px,#38588c 159.5px,#443983 204.5px,#414286 209.5px,#39578c 216.5px,#365d8d 225.5px,#20968b 231.5px,#1f9b8a)"></i><i style="background:linear-gradient(#42be71,#3cbb75 29.5px,#2db27d 30.5px,#1f958b 85.5px,#3d4e8a 165.5px,#453882 208.5px,#3b508b 214.5px,#37598c 225.5px,#20938c 231.5px,#1f988b)"></i><i style="background:linear-gradient(#43be71,#3dbb74 29.5px,#2db27d 30.5px,#1f958c 83.5px,#3c508b 158.5px,#472e7c 199.5px,#453581 209.5px,#3e4b89 216.5px,#3b518b 225.5px,#228c8d 231.5px,#21918c)"></i><i style="background:linear-gradient(#45bf70,#3fbd73 29.5px,#2fb47c 30.5px,#1f978b 85.5px,#3a548b 161.5px,#453882 205.5px,#424086 209.5px,#39558c 216.5px,#375b8d 225.5px,#20948c 231.5px,#1f998a)"></i><i style="background:linear-gradient(#3cbb75,#36b878 29.5px,#29af7f 30.5px,#218f8d 83.5px,#2c738e 133.5px,#433d84 190.5px,#443a83 208.5px,#3b528b 214.5px,#375b8c 225.5px,#20948c 231.5px,#1f998a)"></i><i style="background:linear-gradient(#35b778,#31b57b 29.5px,#25ab82 31.5px,#24878e 92.5px,#424186 162.5px,#482272 204.5px,#472b79 209.5px,#424086 215.5px,#3f4888 225.5px,#25848e 231.5px,#23898d)"></i><i style="background:linear-gradient(#37b877,#32b67a 29.5px,#26ac81 31.5px,#23898d 88.5px,#443b83 174.5px,#472c7b 208.5px,#404688 214.5px,#3c4f8a 225.5px,#238a8d 231.5px,#218f8d)"></i><i style="background:linear-gradient(#3ebc74,#39b976 29.5px,#2bb07e 30.5px,#20928c 84.5px,#3f4788 162.5px,#482979 205.5px,#46317e 209.5px,#404788 215.5px,#3d4e8a 225.5px,#23898e 231.5px,#218e8d)"></i><i style="background:linear-gradient(#34b779,#30b47c 29.5px,#24aa83 31.5px,#25848e 92.5px,#46327f 188.5px,#472d7b 208.5px,#404688 214.5px,#3c508b 225.5px,#238a8d 231.5px,#218f8d)"></i><i style="background:linear-gradient(#36b878,#32b57a 29.5px,#25ac82 31.5px,#23888e 89.5px,#443a83 174.5px,#472c7a 208.5px,#404588 214.5px,#3c4e8a 225.5px,#23898d 231.5px,#218e8d)"></i><i style="background:linear-gradient(#44bf70,#3fbc73 29.5px,#2fb47c 30.5px,#1f968b 87.5px,#404587 173.5px,#453781 208.5px,#3c4f8a 214.5px,#38588c 225.5px,#21928c 231.5px,#20978b)"></i><i style="background:linear-gradient(#53c568,#4dc36b 29.5px,#3bba75 30.5px,#1f9b89 97.5px,#3a538b 191.5px,#3b508a 208.5px,#31688e 215.5px,#2e6e8e 225.5px,#20938b 229.5px,#23a684 231.5px,#27ab81)"></i><i style="background:linear-gradient(#35b779,#31b47b 29.5px,#25ab82 31.5px,#25848e 109.5px,#443982 191.5px,#453580 208.5px,#3c4e8a 214.5px,#38578c 225.5px,#21918c 231.5px,#20968b)"></i><i style="background:linear-gradient(#3dbc74,#39b977 29.5px,#2bb07e 30.5px,#20918c 88.5px,#3e4a89 162.5px,#472c7a 204.5px,#453480 209.5px,#3e4a89 216.5px,#3b508b 225.5px,#238b8d 231.5px,#21908c)"></i><i style="background:linear-gradient(#4cc26c,#46c06f 29.5px,#35b778 30.5px,#1f998a 91.5px,#404587 192.5px,#414286 208.5px,#375a8c 214.5px,#33628d 225.5px,#1f9b89 231.5px,#20a087)"></i><i style="background:linear-gradient(#38b977,#34b779 29.5px,#28ae80 30.5px,#228c8d 86.5px,#433c84 167.5px,#482474 207.5px,#424086 215.5px,#3f4888 225.5px,#25848e 231.5px,#24898d)"></i><i style="background:linear-gradient(#34b779,#31b57b 29.5px,#25ab82 31.5px,#24888e 92.5px,#433d84 162.5px,#481b6d 203.5px,#482575 209.5px,#443b83 215.5px,#414287 225.5px,#27808e 231.5px,#25848e)"></i><i style="background:linear-gradient(#34b679,#30b47b 29.5px,#24aa83 31.5px,#25858e 92.5px,#443a83 161.5px,#48196b 201.5px,#482273 209.5px,#453882 215.5px,#424086 225.5px,#287d8e 231.5px,#26828e)"></i><i style="background:linear-gradient(#37b878,#33b67a 29.5px,#26ac81 31.5px,#238a8d 89.5px,#424186 159.5px,#481e6f 197.5px,#481e6f 208.5px,#453681 213.5px,#414286 225.5px,#277f8e 231.5px,#25848e)"></i><i style="background:linear-gradient(#3ebc74,#39ba76 29.5px,#2bb17e 30.5px,#20928c 86.5px,#3f4888 162.5px,#472b79 204.5px,#45347f 209.5px,#3f4989 215.5px,#3c508a 225.5px,#238b8d 231.5px,#21908c)"></i><i style="background:linear-gradient(#32b57b,#2eb37d 29.5px,#23a983 31.5px,#27808e 96.5px,#424186 171.5px,#3e4988 208.5px,#34608d 214.5px,#31688e 225.5px,#20a187 231.5px,#23a585)"></i><i style="background:linear-gradient(#3bba76,#36b878 29.5px,#29af7f 30.5px,#218f8d 90.5px,#433d84 174.5px,#46307d 208.5px,#3e4988 214.5px,#3a528b 225.5px,#238d8c 231.5px,#21928c)"></i><i style="background:linear-gradient(#50c46a,#4bc26d 29.5px,#39b976 30.5px,#1f9b8a 96.5px,#3b518b 191.5px,#3c4f8a 208.5px,#31668e 215.5px,#2f6d8e 225.5px,#22a585 231.5px,#25aa82)"></i><i style="background:linear-gradient(#53c568,#4ec36b 29.5px,#3bba75 30.5px,#1f9b89 101.5px,#375a8c 191.5px,#38578c 208.5px,#2e6f8e 215.5px,#2b758e 225.5px,#1f9a8a 229.5px,#28ad81 231.5px,#2eb17d)"></i><i style="background:linear-gradient(#33b67a,#34b779 29.5px,#28ae80 30.5px,#238b8d 102.5px,#433d84 189.5px,#443b83 208.5px,#3a538b 214.5px,#365b8c 225.5px,#21958b 231.5px,#209a8a)"></i><i style="background:linear-gradient(#33b67a,#30b47c 29.5px,#24aa83 31.5px,#25878d 93.5px,#414285 159.5px,#433a81 181.5px,#3c4f8a 208.5px,#32668d 214.5px,#2e6e8e 225.5px,#25a683 231.5px,#29ab80)"></i><i style="background:linear-gradient(#34b779,#30b47b 29.5px,#25ab82 31.5px,#1f998a 78.5px,#2cab80 108.5px,#24888c 159.5px,#29798d 207.5px,#22918b 217.5px,#219689 225.5px,#2fac7e 228.5px,#60c661 230.5px,#75cd54)"></i><i style="background:linear-gradient(#30b47b,#2db27d 29.5px,#23a983 31.5px,#26868d 104.5px,#443880 187.5px,#45347e 208.5px,#3d4d89 214.5px,#39578b 225.5px,#279189 231.5px,#279688)"></i><i style="background:linear-gradient(#35b779,#31b57b 29.5px,#25ab82 31.5px,#24888e 91.5px,#433e85 160.5px,#46307e 185.5px,#424085 208.5px,#365c8d 214.5px,#2f6b8e 225.5px,#20938c 229.5px,#23a684 231.5px,#28ab81)"></i><i style="background:linear-gradient(#3bba75,#37b878 29.5px,#29af7f 30.5px,#218f8d 90.5px,#433d84 175.5px,#46327f 208.5px,#3e4b89 214.5px,#39558b 225.5px,#228f8c 231.5px,#21948b)"></i><i style="background:linear-gradient(#36b878,#32b67a 29.5px,#26ac81 31.5px,#23898d 90.5px,#424186 159.5px,#481e6f 197.5px,#481e6f 208.5px,#453681 213.5px,#414286 225.5px,#277f8e 231.5px,#25848e)"></i><i style="background:linear-gradient(#33b67a,#2fb37c 29.5px,#24aa83 31.5px,#26838e 96.5px,#433b83 162.5px,#47196b 203.5px,#482374 209.5px,#443a82 215.5px,#414186 225.5px,#277f8e 231.5px,#26838e)"></i><i style="background:linear-gradient(#45bf70,#42be72 29.5px,#32b57a 30.5px,#22988a 95.5px,#3f4d86 193.5px,#404c85 208.5px,#36638b 215.5px,#33698b 225.5px,#219f87 231.5px,#22a385)"></i><i style="background:linear-gradient(#36b778,#42be71 1.5px,#42b174 225.5px,#3fb974)"></i><i style="background:linear-gradient(#32b57a,#30b47c 29.5px,#25ab82 31.5px,#29838c 98.5px,#453e80 164.5px,#48226a 206.5px,#453f80 216.5px,#434583 225.5px,#2a808d 231.5px,#28848c)"></i><i style="background:linear-gradient(#36b878,#33b67a 29.5px,#26ac81 31.5px,#238a8d 92.5px,#423f85 166.5px,#482776 207.5px,#414387 215.5px,#3e4a89 225.5px,#24868e 231.5px,#238b8d)"></i><i style="background:linear-gradient(#32b57a,#2fb37c 29.5px,#24aa83 31.5px,#24888e 110.5px,#414386 191.5px,#424085 208.5px,#38578c 214.5px,#34608d 225.5px,#1f998a 231.5px,#1f9e88)"></i><i style="background:linear-gradient(#38b977,#34b779 29.5px,#28ae80 30.5px,#228d8d 88.5px,#3f4788 160.5px,#482575 203.5px,#472e7c 209.5px,#414487 215.5px,#3e4b89 225.5px,#24878e 231.5px,#238b8d)"></i><i style="background:linear-gradient(#34b779,#31b47b 29.5px,#25ab82 31.5px,#25858e 97.5px,#3e4a89 159.5px,#472978 201.5px,#46317e 209.5px,#404688 215.5px,#3d4e8a 225.5px,#24898d 231.5px,#228e8d)"></i><i style="background:linear-gradient(#4cc26c,#47c06f 29.5px,#36b778 30.5px,#1f998a 94.5px,#3c4e8a 192.5px,#3d4c89 208.5px,#33628d 214.5px,#306a8e 225.5px,#21a386 231.5px,#24a884)"></i><i style="background:linear-gradient(#5ac864,#55c667 29.5px,#41be72 30.5px,#1f9e89 102.5px,#34608d 191.5px,#355e8d 208.5px,#2b748e 215.5px,#297a8e 225.5px,#1f9f88 229.5px,#2eb27d 231.5px,#34b779)"></i><i style="background:linear-gradient(#5ac864,#55c667 29.5px,#41be72 30.5px,#1f9e89 106.5px,#31668e 190.5px,#33638d 208.5px,#297a8e 215.5px,#27808e 225.5px,#21a586 229.5px,#35b778 231.5px,#3dbb74)"></i><i style="background:linear-gradient(#64cb5e,#5fc961 29.5px,#4ac16d 30.5px,#1f9c89 125.5px,#2b748e 190.5px,#2c728e 208.5px,#24888d 215.5px,#228e8d 225.5px,#22a485 228.5px,#47bf6f 230.5px,#5bc763)"></i><i style="background:linear-gradient(#37b877,#34b579 29.5px,#28ac81 31.5px,#209e88 76.5px,#238b8d 118.5px,#39558b 190.5px,#3b528b 208.5px,#30698e 215.5px,#2d6f8e 225.5px,#21958b 229.5px,#25a883 231.5px,#29ac80)"></i><i style="background:linear-gradient(#5bc863,#56c666 29.5px,#43be71 30.5px,#1f9c89 108.5px,#32658d 190.5px,#33628d 208.5px,#2a788e 215.5px,#277e8e 225.5px,#22a385 229.5px,#36b679 231.5px,#3eba74)"></i><i style="background:linear-gradient(#40bd72,#3cbb75 29.5px,#2db27d 30.5px,#20938c 87.5px,#3e4a89 167.5px,#453580 208.5px,#3c4e8a 214.5px,#39578c 225.5px,#23918b 231.5px,#22968a)"></i><i style="background:linear-gradient(#38b977,#34b779 29.5px,#27ad81 31.5px,#24918b 84.5px,#3d5f88 149.5px,#503d79 184.5px,#513674 208.5px,#4b4e81 214.5px,#475783 225.5px,#2f8e87 231.5px,#2e9386)"></i><i style="background:linear-gradient(#44bf70,#40bd73 29.5px,#33b67a 30.5px,#36b678 77.5px,#7acc51 100.5px,#7fc850 152.5px,#ccd326 159.5px,#d5d427 165.5px,#d3d828 228.5px,#d4dd26)"></i><i style="background:linear-gradient(#59c764,#54c567 29.5px,#41bd72 30.5px,#27a882 92.5px,#347e87 157.5px,#3e6a86 207.5px,#358187 217.5px,#318c86 226.5px,#30a87e 229.5px,#49bd6e)"></i><i style="background:linear-gradient(#80d34d,#79d151 29.5px,#62ca5f 30.5px,#25a784 137.5px,#228c8c 192.5px,#238a8d 208.5px,#22a086 215.5px,#25a683 225.5px,#43bb72 228.5px,#81d24c 230.5px,#9ad73c)"></i><i style="background:linear-gradient(#5cc863,#56c666 29.5px,#42be71 30.5px,#209e88 107.5px,#31678d 190.5px,#32648d 208.5px,#297b8e 215.5px,#27818d 225.5px,#25a584 229.5px,#3ab876 231.5px,#42bc71)"></i><i style="background:linear-gradient(#49c16e,#44bf70 29.5px,#34b679 30.5px,#1f998a 90.5px,#3f4888 192.5px,#404688 208.5px,#365d8d 214.5px,#32658e 225.5px,#209e88 231.5px,#21a386)"></i><i style="background:linear-gradient(#44bf70,#3fbd73 29.5px,#30b47c 30.5px,#1f968b 88.5px,#423f85 193.5px,#433d84 208.5px,#39558c 214.5px,#355e8d 225.5px,#20978b 231.5px,#209c89)"></i><i style="background:linear-gradient(#52c569,#4dc36b 29.5px,#3aba76 30.5px,#1f9c89 99.5px,#365b8c 191.5px,#38598c 208.5px,#2d708e 215.5px,#2b768e 225.5px,#1f9b89 229.5px,#29ae80 231.5px,#2fb27c)"></i><i style="background:linear-gradient(#5bc863,#56c666 29.5px,#42be71 30.5px,#1f9d89 107.5px,#31668d 190.5px,#33638d 208.5px,#297a8e 215.5px,#27808e 225.5px,#22a585 229.5px,#36b778 231.5px,#3ebb74)"></i><i style="background:linear-gradient(#47c06f,#43be71 29.5px,#32b57a 30.5px,#1f988b 91.5px,#3f4888 192.5px,#404587 208.5px,#365c8d 214.5px,#32658d 225.5px,#209e88 231.5px,#21a286)"></i><i style="background:linear-gradient(#4cc26c,#47c06f 29.5px,#36b878 30.5px,#1f9a8a 90.5px,#3f4989 192.5px,#404688 208.5px,#365d8d 214.5px,#32668e 225.5px,#209e88 231.5px,#22a386)"></i><i style="background:linear-gradient(#63ca5f,#5dc862 29.5px,#49c16e 30.5px,#209c88 111.5px,#30698e 191.5px,#31668d 208.5px,#287d8e 215.5px,#26838e 225.5px,#24a884 229.5px,#3cba75 231.5px,#44be70)"></i><i style="background:linear-gradient(#35b778,#38b777 29.5px,#2fae7c 31.5px,#367788 119.5px,#35628c 149.5px,#35628c 208.5px,#2b778d 215.5px,#26848d 226.5px,#21a187 229.5px,#31b37b 231.5px,#38b877)"></i><i style="background:linear-gradient(#32b67a,#32b57b 23.5px,#51c469 26.5px,#97d53e 30.5px,#a9d832 32.5px,#add830 44.5px,#d4dd28 47.5px,#e3de31 50.5px,#e1db30 84.5px,#bdd629 88.5px,#aad433 91.5px,#a6cf36 123.5px,#6cc35b 129.5px,#2ea87f 135.5px,#28a583 213.5px,#27a882 227.5px,#2faf7d 228.5px,#61c860 230.5px,#78cf52)"></i><i style="background:linear-gradient(#32b47a,#35b478 29.5px,#2eab7d 32.5px,#3a6f87 125.5px,#414482 165.5px,#385c8b 188.5px,#39598a 208.5px,#306f8c 215.5px,#2e758c 225.5px,#289987 229.5px,#2eab7d 231.5px,#33b07a)"></i><i style="background:linear-gradient(#82d34c,#7cd14f 29.5px,#65ca5e 30.5px,#2ba980 137.5px,#21938a 186.5px,#22908b 208.5px,#28a582 215.5px,#2eab7f 225.5px,#51c06a 228.5px,#92d441 230.5px,#abd931)"></i><i style="background:linear-gradient(#59c764,#54c567 29.5px,#41bd72 30.5px,#219c88 105.5px,#33638d 191.5px,#34608c 208.5px,#2b778d 215.5px,#297d8d 225.5px,#25a285 229.5px,#36b478 231.5px,#3db874)"></i><i style="background:linear-gradient(#32b57a,#2fb37c 29.5px,#24a983 31.5px,#277f8e 99.5px,#39558b 154.5px,#433d84 208.5px,#39558b 214.5px,#355e8d 225.5px,#20978a 231.5px,#209c89)"></i><i style="background:linear-gradient(#34b779,#31b57b 29.5px,#25ab82 31.5px,#24878e 91.5px,#2b768e 134.5px,#3f4687 192.5px,#404486 208.5px,#365b8c 214.5px,#33638d 225.5px,#1f9c89 231.5px,#20a187)"></i><i style="background:linear-gradient(#30b47b,#2db27d 29.5px,#23a884 31.5px,#277f8e 98.5px,#433c84 161.5px,#47196b 203.5px,#482373 209.5px,#443982 215.5px,#424186 225.5px,#277e8e 231.5px,#26838e)"></i><i style="background:linear-gradient(#37b878,#37b777 29.5px,#28ad80 31.5px,#228e8d 84.5px,#3e4a89 156.5px,#472676 194.5px,#472574 208.5px,#433c83 213.5px,#3f4888 225.5px,#26848d 231.5px,#24898d)"></i><i style="background:linear-gradient(#4ec36b,#a1d938 1.5px,#9cd83b 27.5px,#82d24c 29.5px,#52c469 31.5px,#35b779 34.5px,#1f988a 98.5px,#3a528a 191.5px,#3c4f8a 208.5px,#31678d 215.5px,#2e6d8e 225.5px,#20928c 229.5px,#23a685 231.5px,#26aa82)"></i><i style="background:linear-gradient(#48c16e,#47c06f 29.5px,#36b778 30.5px,#1f9d89 85.5px,#3e4b89 193.5px,#3e4989 208.5px,#34608d 214.5px,#31688e 225.5px,#1fa188 231.5px,#21a585)"></i><i style="background:linear-gradient(#4cc26c,#47c06e 29.5px,#36b878 30.5px,#1f9a8a 93.5px,#3d4d8a 192.5px,#3e4b89 208.5px,#34618d 214.5px,#306a8e 225.5px,#1fa287 231.5px,#22a785)"></i><i style="background:linear-gradient(#37b878,#33b67a 29.5px,#27ac81 31.5px,#228b8d 107.5px,#404587 192.5px,#414386 208.5px,#375a8c 214.5px,#33628d 225.5px,#1f9b89 231.5px,#1fa088)"></i><i style="background:linear-gradient(#2fb47c,#2eb37c 29.5px,#24aa83 31.5px,#25838e 101.5px,#453781 177.5px,#472c7b 208.5px,#404688 214.5px,#3c4f8a 225.5px,#238a8d 231.5px,#218f8d)"></i><i style="background:linear-gradient(#2fb37c,#2cb17e 29.5px,#22a884 31.5px,#287c8e 100.5px,#453580 204.5px,#433e85 209.5px,#3a538b 216.5px,#38598c 225.5px,#20938c 231.5px,#1f978b)"></i><i style="background:linear-gradient(#34b779,#30b47b 29.5px,#25ab82 31.5px,#24868e 91.5px,#453782 179.5px,#472d7c 208.5px,#404688 214.5px,#3c508b 225.5px,#238b8d 231.5px,#218f8d)"></i><i style="background:linear-gradient(#33b67a,#30b47c 29.5px,#24aa83 31.5px,#25858e 92.5px,#463480 186.5px,#472f7d 208.5px,#3f4889 214.5px,#3b528b 225.5px,#228c8d 231.5px,#20918c)"></i><i style="background:linear-gradient(#3aba76,#36b878 29.5px,#29af80 30.5px,#218f8d 90.5px,#433c84 176.5px,#46317e 208.5px,#3e4a89 214.5px,#3a538b 225.5px,#228d8d 231.5px,#20928c)"></i><i style="background:linear-gradient(#34b679,#30b47b 29.5px,#25aa82 31.5px,#25848e 94.5px,#414286 164.5px,#472777 206.5px,#404587 216.5px,#3d4b89 225.5px,#24878d 231.5px,#238c8d)"></i><i style="background:linear-gradient(#48c16e,#45bf70 29.5px,#36b778 30.5px,#38b479 44.5px,#32b07a 52.5px,#27ac81 59.5px,#27808e 124.5px,#3e4888 190.5px,#404586 208.5px,#365c8c 214.5px,#32648d 225.5px,#209d88 231.5px,#21a286)"></i><i style="background:linear-gradient(#34b779,#4cc26c 1.5px,#49c16e 34.5px,#a8d933 35.5px,#e4e12f 36.5px,#e3e030 51.5px,#bcdb28 52.5px,#65ca5e 53.5px,#48c06e 54.5px,#44ba72 103.5px,#1f9b89 111.5px,#2d718e 121.5px,#472d7b 179.5px,#482273 208.5px,#443a83 213.5px,#404688 225.5px,#26838e 231.5px,#24878d)"></i><i style="background:linear-gradient(#3bba76,#38b977 29.5px,#2cb07e 30.5px,#30ad7e 44.5px,#2ba87f 52.5px,#22a386 59.5px,#2c738e 122.5px,#472b7a 190.5px,#482877 208.5px,#423f85 213.5px,#3e4b89 225.5px,#24868e 231.5px,#228b8d)"></i><i style="background:linear-gradient(#34b779,#31b57b 29.5px,#25ab82 31.5px,#24888e 98.5px,#2a788e 120.5px,#357a88 122.5px,#2c738e 126.5px,#3a7488 129.5px,#30698d 136.5px,#3e6b87 139.5px,#33638d 142.5px,#406786 143.5px,#436286 147.5px,#365c8c 148.5px,#425885 155.5px,#3b528a 157.5px,#465383 159.5px,#3f4887 165.5px,#474a81 167.5px,#414385 170.5px,#4c457d 172.5px,#423f83 174.5px,#4b407c 177.5px,#44377f 185.5px,#45317a 208.5px,#3f4987 214.5px,#3b528a 225.5px,#23898d 231.5px,#228e8d)"></i><i style="background:linear-gradient(#38b977,#34b779 29.5px,#27ad81 30.5px,#228c8d 86.5px,#277e8e 107.5px,#20988a 111.5px,#20978a 120.5px,#b6d32d 121.5px,#b6d32d 123.5px,#20978a 124.5px,#20968a 127.5px,#e0d82e 128.5px,#e0d72e 132.5px,#21968a 133.5px,#8dcb46 134.5px,#8ecb46 135.5px,#21958a 136.5px,#21958a 137.5px,#ded62c 138.5px,#ded62c 140.5px,#21958a 141.5px,#21948a 142.5px,#ded52c 143.5px,#ded52c 147.5px,#22948a 148.5px,#22938a 150.5px,#9dcb3d 151.5px,#9dca3d 155.5px,#229289 156.5px,#229289 157.5px,#afcd31 158.5px,#afcc31 162.5px,#239189 163.5px,#239189 165.5px,#93c743 166.5px,#93c743 167.5px,#239089 168.5px,#239088 170.5px,#c4cd27 171.5px,#c4cd26 172.5px,#239088 173.5px,#239088 174.5px,#99c73f 175.5px,#99c63f 178.5px,#238f88 179.5px,#20978a 229.5px,#1f9a8a)"></i><i style="background:linear-gradient(#39b977,#35b779 29.5px,#28ae80 30.5px,#228d8d 86.5px,#2b758e 120.5px,#407b81 123.5px,#2e6f8e 127.5px,#487780 128.5px,#3d6f87 131.5px,#4a7481 132.5px,#3e6e87 133.5px,#467082 135.5px,#32668d 136.5px,#32658d 137.5px,#486d81 138.5px,#496b80 140.5px,#35608c 142.5px,#426386 143.5px,#50647e 147.5px,#38598b 148.5px,#4e5e7e 151.5px,#445383 157.5px,#4f547c 159.5px,#484d80 161.5px,#555179 162.5px,#404584 165.5px,#49457c 169.5px,#544774 171.5px,#423c7f 173.5px,#534172 176.5px,#43367b 180.5px,#432d73 208.5px,#404483 214.5px,#3d4c87 225.5px,#26828e 231.5px,#24868e)"></i><i style="background:linear-gradient(#38b977,#34b779 29.5px,#28ae80 30.5px,#228d8d 86.5px,#26828e 108.5px,#228d8d 114.5px,#228c8d 122.5px,#b2d22f 123.5px,#b2d22f 126.5px,#238b8d 127.5px,#d9d62a 128.5px,#d9d62a 129.5px,#238b8d 130.5px,#238b8d 131.5px,#e2d72f 132.5px,#e2d72f 135.5px,#238a8d 136.5px,#238a8d 137.5px,#a1cd3a 138.5px,#a1cd3a 141.5px,#23898c 142.5px,#24898c 145.5px,#cdd226 146.5px,#cdd226 147.5px,#24898c 148.5px,#d2d226 149.5px,#d2d226 153.5px,#24888c 154.5px,#99c93f 155.5px,#99c93f 159.5px,#25878c 160.5px,#25868c 161.5px,#d9d128 162.5px,#d9d128 164.5px,#25868b 165.5px,#25858b 167.5px,#9ac73e 168.5px,#9ac73e 171.5px,#25858b 172.5px,#25858b 173.5px,#a9c934 174.5px,#a9c834 177.5px,#25848a 178.5px,#238a8d 228.5px,#218f8d)"></i><i style="background:linear-gradient(#38b977,#34b779 29.5px,#28ae80 30.5px,#228d8d 86.5px,#2d708e 122.5px,#387388 124.5px,#387187 126.5px,#2f6c8e 127.5px,#3c7087 128.5px,#31688e 131.5px,#3e6c87 132.5px,#406987 135.5px,#33638d 136.5px,#3e6287 141.5px,#375a8c 144.5px,#455b84 147.5px,#3a558b 148.5px,#475783 150.5px,#485382 153.5px,#3d4d89 154.5px,#474c82 158.5px,#404486 161.5px,#4d487e 162.5px,#433d82 167.5px,#4c3d7b 171.5px,#44367e 173.5px,#4e3776 176.5px,#452f79 182.5px,#462773 208.5px,#423f84 214.5px,#3f4987 225.5px,#26828e 231.5px,#24868e)"></i><i style="background:linear-gradient(#39b976,#35b779 29.5px,#28ae80 30.5px,#238c8d 88.5px,#414286 159.5px,#462e7b 190.5px,#46317d 208.5px,#3d4b89 214.5px,#39568b 225.5px,#22908c 231.5px,#21958b)"></i><i style="background:linear-gradient(#58c665,#53c568 29.5px,#40bc73 30.5px,#209a89 105.5px,#365c8c 190.5px,#37598b 208.5px,#2d708e 215.5px,#2b778e 225.5px,#209c89 229.5px,#2caf7f 231.5px,#32b37b)"></i><i style="background:linear-gradient(#33b57a,#2fb37c 29.5px,#25aa83 31.5px,#277f8e 99.5px,#404587 172.5px,#443a82 208.5px,#3b528b 214.5px,#375b8c 225.5px,#21948b 231.5px,#20998a)"></i><i style="background:linear-gradient(#3fbc73,#3bba76 29.5px,#2cb17e 30.5px,#20928c 87.5px,#433f85 173.5px,#472f7d 208.5px,#3f4889 214.5px,#3b528b 225.5px,#228c8d 231.5px,#20918c)"></i><i style="background:linear-gradient(#41bd72,#3cbb75 29.5px,#2db27d 30.5px,#20948c 88.5px,#404688 169.5px,#46337f 208.5px,#3e4b8a 214.5px,#3a548c 225.5px,#218f8d 231.5px,#20948c)"></i><i style="background:linear-gradient(#42be71,#3ebc74 29.5px,#2eb37c 30.5px,#1f958c 87.5px,#3e4a89 163.5px,#472f7c 206.5px,#3d4c89 216.5px,#3b528b 225.5px,#228d8d 231.5px,#20928c)"></i><i style="background:linear-gradient(#37b878,#38b777 29.5px,#2cae7e 31.5px,#228d8d 85.5px,#3f4788 154.5px,#471f70 192.5px,#471c6d 208.5px,#45357f 213.5px,#414185 225.5px,#287e8e 231.5px,#26838d)"></i><i style="background:linear-gradient(#4ec36b,#8ed544 1.5px,#88d148 53.5px,#2aae80 67.5px,#20938b 103.5px,#3d4a87 191.5px,#3e4786 208.5px,#355e8c 214.5px,#31668d 225.5px,#219f87 231.5px,#24a485)"></i><i style="background:linear-gradient(#36b878,#37b777 29.5px,#2cae7e 31.5px,#228d8d 85.5px,#3f4988 153.5px,#471f6f 192.5px,#471c6d 208.5px,#45347f 213.5px,#424085 225.5px,#287e8e 231.5px,#26838d)"></i><i style="background:linear-gradient(#39b977,#35b779 29.5px,#28ae80 30.5px,#218e8d 93.5px,#38588c 155.5px,#453480 196.5px,#45347f 208.5px,#3d4c89 214.5px,#39558b 225.5px,#21908c 231.5px,#20948b)"></i><i style="background:linear-gradient(#4ac16d,#45bf70 29.5px,#34b779 30.5px,#1f988a 93.5px,#404688 192.5px,#414487 208.5px,#375b8c 214.5px,#33638d 225.5px,#1f9c89 231.5px,#20a187)"></i><i style="background:linear-gradient(#3dbc74,#39b976 29.5px,#2bb07e 30.5px,#20928c 88.5px,#3f4888 163.5px,#472d7b 205.5px,#453580 209.5px,#3e4b89 216.5px,#3b518b 225.5px,#228c8d 231.5px,#21918c)"></i><i style="background:linear-gradient(#34b779,#30b47b 29.5px,#25ab82 31.5px,#24868e 91.5px,#443b83 160.5px,#482979 189.5px,#472e7c 208.5px,#3f4788 213.5px,#3a548b 225.5px,#218e8d 231.5px,#20938c)"></i><i style="background:linear-gradient(#32b57b,#2eb37c 29.5px,#23a983 31.5px,#26828e 96.5px,#414387 160.5px,#482273 200.5px,#472b7a 209.5px,#424186 215.5px,#3f4888 225.5px,#25848e 231.5px,#23898d)"></i><i style="background:linear-gradient(#33b67a,#30b47c 29.5px,#24aa83 31.5px,#25858e 92.5px,#453781 187.5px,#46317e 208.5px,#3e4a89 214.5px,#3a538b 225.5px,#228e8d 231.5px,#20928c)"></i><i style="background:linear-gradient(#39b977,#35b779 29.5px,#28ae80 30.5px,#228d8d 88.5px,#414387 161.5px,#482172 203.5px,#472a7a 209.5px,#424086 215.5px,#3f4888 225.5px,#25848e 231.5px,#23898e)"></i><i style="background:linear-gradient(#36b878,#32b67a 29.5px,#26ac82 31.5px,#23898d 90.5px,#423f85 159.5px,#481b6d 197.5px,#481b6d 208.5px,#46337f 213.5px,#424086 225.5px,#287d8e 231.5px,#26828e)"></i><i style="background:linear-gradient(#38b977,#34b779 29.5px,#28ae80 30.5px,#228d8d 89.5px,#404688 158.5px,#482272 196.5px,#482172 208.5px,#443982 213.5px,#404587 225.5px,#26828e 231.5px,#24868e)"></i><i style="background:linear-gradient(#32b57a,#33b67a 29.5px,#27ad81 31.5px,#21908c 100.5px,#414386 193.5px,#414185 208.5px,#38588c 214.5px,#34618d 225.5px,#209a8a 231.5px,#209f88)"></i><i style="background:linear-gradient(#34b779,#31b57b 29.5px,#25ab82 31.5px,#25848e 95.5px,#2f6b8e 130.5px,#2a778e 150.5px,#38588c 197.5px,#355e8d 209.5px,#2d718e 218.5px,#2b758e 225.5px,#1f9b8a 229.5px,#29ae80 231.5px,#2eb27d)"></i><i style="background:linear-gradient(#49c16e,#44bf70 29.5px,#33b67a 30.5px,#1f978b 93.5px,#3e4988 192.5px,#3f4788 208.5px,#355e8d 214.5px,#31668e 225.5px,#209f88 231.5px,#21a486)"></i><i style="background:linear-gradient(#36b878,#33b67a 29.5px,#26ac81 31.5px,#23898d 90.5px,#443b83 163.5px,#472979 200.5px,#453480 209.5px,#3e4b89 215.5px,#3a538b 225.5px,#228e8d 231.5px,#20938c)"></i><i style="background:linear-gradient(#39ba76,#35b878 29.5px,#28ae80 30.5px,#218e8d 89.5px,#404688 162.5px,#482878 204.5px,#46317e 209.5px,#404688 215.5px,#3d4d8a 225.5px,#23898e 231.5px,#228d8d)"></i><i style="background:linear-gradient(#3aba76,#36b878 29.5px,#28ae80 30.5px,#218e8d 89.5px,#404688 161.5px,#482575 203.5px,#472e7c 209.5px,#414487 215.5px,#3e4b89 225.5px,#24878e 231.5px,#228b8d)"></i><i style="background:linear-gradient(#34b679,#30b47b 29.5px,#24aa82 31.5px,#24868e 93.5px,#414287 159.5px,#481f71 197.5px,#481f71 208.5px,#453782 213.5px,#414387 225.5px,#27808e 231.5px,#25858e)"></i><i style="background:linear-gradient(#3cbb75,#38b977 29.5px,#2ab07f 30.5px,#21908c 87.5px,#3f4889 160.5px,#482576 202.5px,#472e7c 209.5px,#414487 215.5px,#3e4b89 225.5px,#24878e 231.5px,#228c8d)"></i><i style="background:linear-gradient(#37b878,#33b67a 29.5px,#26ad81 31.5px,#238a8d 90.5px,#424086 160.5px,#481e6f 199.5px,#482576 209.5px,#443b84 215.5px,#414387 225.5px,#27808e 231.5px,#25858e)"></i><i style="background:linear-gradient(#35b778,#32b57b 29.5px,#25ac82 31.5px,#23888e 92.5px,#423f85 161.5px,#481c6e 202.5px,#482575 209.5px,#443b84 215.5px,#414387 225.5px,#27808e 231.5px,#25858e)"></i><i style="background:linear-gradient(#32b57a,#2eb37c 29.5px,#23a983 31.5px,#27808e 110.5px,#46327f 188.5px,#472d7c 208.5px,#404788 214.5px,#3c508b 225.5px,#238b8d 231.5px,#21908d)"></i><i style="background:linear-gradient(#41bd72,#3dbb74 29.5px,#2eb27d 30.5px,#20948c 89.5px,#414387 172.5px,#46337f 208.5px,#3e4b89 214.5px,#3a548b 225.5px,#218f8d 231.5px,#20938c)"></i><i style="background:linear-gradient(#39b976,#35b779 29.5px,#28ae80 30.5px,#228e8d 86.5px,#3f4788 155.5px,#482071 193.5px,#481e6f 208.5px,#453681 213.5px,#414286 225.5px,#277f8e 231.5px,#25848e)"></i><i style="background:linear-gradient(#35b779,#33b67a 29.5px,#26ac81 31.5px,#238a8d 95.5px,#443b84 170.5px,#482777 208.5px,#433f85 213.5px,#3e4a89 225.5px,#24868e 231.5px,#228b8d)"></i><i style="background:linear-gradient(#3cbb75,#38b977 29.5px,#2ab07f 30.5px,#21908c 87.5px,#3f4889 160.5px,#482676 202.5px,#472f7d 209.5px,#404487 215.5px,#3d4c8a 225.5px,#24878e 231.5px,#228c8d)"></i><i style="background:linear-gradient(#34b779,#31b57b 29.5px,#25ab82 31.5px,#24878e 91.5px,#433c84 159.5px,#48196b 196.5px,#48186a 208.5px,#46317e 213.5px,#433d85 225.5px,#287c8e 231.5px,#26808e)"></i><i style="background:linear-gradient(#32b57a,#2eb37c 29.5px,#23a983 31.5px,#26818e 95.5px,#443982 160.5px,#481467 198.5px,#481567 208.5px,#472e7c 213.5px,#443a83 225.5px,#29798e 231.5px,#287e8e)"></i><i style="background:linear-gradient(#33b67a,#2fb47c 29.5px,#24aa83 31.5px,#25848e 94.5px,#443b84 160.5px,#481769 199.5px,#481f70 209.5px,#453580 215.5px,#433d84 225.5px,#287b8e 231.5px,#27808e)"></i><i style="background:linear-gradient(#3fbc73,#3aba76 29.5px,#2cb17e 30.5px,#20928c 88.5px,#404587 167.5px,#46317e 208.5px,#3e4a89 214.5px,#3a538b 225.5px,#228e8d 231.5px,#20928c)"></i><i style="background:linear-gradient(#35b779,#31b57b 29.5px,#25ab82 31.5px,#24878e 91.5px,#443983 163.5px,#47307d 195.5px,#453681 208.5px,#3c508b 214.5px,#375a8c 225.5px,#20938c 231.5px,#1f988a)"></i><i style="background:linear-gradient(#3bba75,#36b878 29.5px,#29af7f 30.5px,#218f8d 87.5px,#3f4788 160.5px,#482777 200.5px,#46307d 209.5px,#404688 215.5px,#3d4e8a 225.5px,#23898d 231.5px,#228e8d)"></i><i style="background:linear-gradient(#3aba76,#36b878 29.5px,#29af80 30.5px,#218e8d 89.5px,#414386 170.5px,#45307b 207.5px,#3d4d89 214.5px,#3a568b 225.5px,#289089 231.5px,#279588)"></i><i style="background:linear-gradient(#37b878,#33b67a 29.5px,#26ac81 31.5px,#238b8d 88.5px,#25848e 128.5px,#26828d 171.5px,#297b8d 208.5px,#21928a 214.5px,#219a88 225.5px,#33b07b 228.5px,#67c85d 230.5px,#7ecf4f)"></i><i style="background:linear-gradient(#38b977,#35b779 29.5px,#28ae80 31.5px,#21988a 87.5px,#2d9b85 91.5px,#2c8789 135.5px,#37618b 189.5px,#365d8c 208.5px,#2c748d 214.5px,#26838d 226.5px,#219f87 229.5px,#33b479)"></i><i style="background:linear-gradient(#35b779,#3cbb75 4.5px,#37b778 87.5px,#95d33f 88.5px,#e3de31 89.5px,#e3de31 99.5px,#85d04a 100.5px,#86c84c 184.5px,#64bf61 187.5px,#27a183 191.5px,#22948a 194.5px,#21a486 231.5px,#22a685)"></i><i style="background:linear-gradient(#50c36a,#4bc26d 29.5px,#3aba76 30.5px,#21a286 87.5px,#2ca282 91.5px,#2b8b89 125.5px,#3a5989 189.5px,#39558a 208.5px,#2e6e8d 213.5px,#287f8e 226.5px,#1f9a89 229.5px,#2eb17d)"></i><i style="background:linear-gradient(#36b878,#32b57a 29.5px,#26ac82 31.5px,#24878d 91.5px,#414083 164.5px,#452570 206.5px,#404986 214.5px,#3d5288 225.5px,#2e8d87 231.5px,#2e9186)"></i><i style="background:linear-gradient(#36b878,#31b57b 29.5px,#25ab82 31.5px,#24888e 89.5px,#29798e 122.5px,#238c88 173.5px,#248888 208.5px,#2ba081 213.5px,#35a97b 225.5px,#5cbe65 228.5px,#9dd13b 230.5px,#b5d62d)"></i><i style="background:linear-gradient(#33b67a,#2fb37c 29.5px,#24aa83 31.5px,#25838e 94.5px,#423d82 164.5px,#492c6c 207.5px,#464c80 213.5px,#435784 225.5px,#348e83 231.5px,#349383)"></i><i style="background:linear-gradient(#3cbb75,#37b878 29.5px,#29af7f 30.5px,#21908d 84.5px,#3e4989 156.5px,#414487 163.5px,#2a778c 170.5px,#249386 173.5px,#42ac72 176.5px,#71bc57 180.5px,#7abf52 209.5px,#84c44d 216.5px,#80cd4e)"></i><i style="background:linear-gradient(#38b977,#33b67a 29.5px,#27ac81 31.5px,#24898d 91.5px,#424085 161.5px,#4a2a6e 207.5px,#464a82 213.5px,#425585 225.5px,#2b8d89 231.5px,#2a9188)"></i><i style="background:linear-gradient(#56c666,#50c46a 29.5px,#3dbb74 30.5px,#1f9c89 96.5px,#3a538a 191.5px,#3a528a 208.5px,#2f6c8e 213.5px,#2b758e 225.5px,#209b89 229.5px,#2bae7f 231.5px,#31b27c)"></i><i style="background:linear-gradient(#47c06f,#41bd72 29.5px,#31b57b 30.5px,#1f978b 87.5px,#424186 187.5px,#433d84 208.5px,#375a8c 213.5px,#32648d 225.5px,#1f9d89 231.5px,#20a287)"></i><i style="background:linear-gradient(#43be71,#3dbc74 29.5px,#2eb37d 30.5px,#1f958b 87.5px,#3f4788 170.5px,#453580 207.5px,#39558b 213.5px,#345f8d 225.5px,#1f998a 231.5px,#1f9d89)"></i><i style="background:linear-gradient(#36b878,#31b57b 29.5px,#25ab82 31.5px,#24878e 91.5px,#433e85 159.5px,#481a6c 197.5px,#481c6d 208.5px,#443982 212.5px,#3f4788 225.5px,#25848e 231.5px,#24888d)"></i><i style="background:linear-gradient(#3fbc73,#3ab976 29.5px,#2cb07e 30.5px,#22918c 85.5px,#3d4c89 156.5px,#462876 194.5px,#462976 208.5px,#3f4787 213.5px,#3b538a 225.5px,#268d8b 231.5px,#25928a)"></i><i style="background:linear-gradient(#66cc5d,#5fc961 29.5px,#4ac16d 30.5px,#209d88 117.5px,#2f6b8d 190.5px,#2f6a8c 208.5px,#26838d 213.5px,#228c8c 225.5px,#24a385 228.5px,#4abe6e 230.5px,#5dc663)"></i><i style="background:linear-gradient(#4fc36a,#48c06e 29.5px,#36b878 30.5px,#1f9b89 90.5px,#3e4988 192.5px,#3e4888 208.5px,#33638d 213.5px,#2e6d8e 225.5px,#24a684 231.5px,#28aa81)"></i><i style="background:linear-gradient(#3dbb74,#37b878 29.5px,#29af7f 30.5px,#21908c 85.5px,#3e4a89 157.5px,#472676 196.5px,#472877 208.5px,#404688 213.5px,#3b528b 225.5px,#228c8d 231.5px,#21918c)"></i><i style="background:linear-gradient(#35b779,#2fb47c 29.5px,#24aa83 31.5px,#25858e 92.5px,#433c84 159.5px,#481769 197.5px,#48196b 208.5px,#453781 212.5px,#404588 225.5px,#26828e 231.5px,#24878e)"></i><i style="background:linear-gradient(#3aba76,#34b779 29.5px,#28ae80 30.5px,#228d8d 83.5px,#404588 154.5px,#481c6e 192.5px,#481c6e 208.5px,#443983 212.5px,#3f4788 225.5px,#25848e 231.5px,#23888e)"></i><i style="background:linear-gradient(#39b976,#33b67a 29.5px,#26ac81 31.5px,#238b8d 85.5px,#414387 154.5px,#482172 190.5px,#482173 208.5px,#433f85 212.5px,#3d4d8a 225.5px,#23888e 231.5px,#228d8d)"></i><i style="background:linear-gradient(#3bba75,#35b779 29.5px,#28ae80 30.5px,#218e8d 83.5px,#3f4889 153.5px,#482071 191.5px,#481e70 208.5px,#443c84 212.5px,#3e4a89 225.5px,#24858e 231.5px,#238a8d)"></i><i style="background:linear-gradient(#3ebc74,#37b877 29.5px,#29af7f 30.5px,#21908c 81.5px,#3e4b8a 152.5px,#482273 191.5px,#482172 208.5px,#433e85 212.5px,#3e4b8a 225.5px,#24878e 231.5px,#228c8d)"></i><i style="background:linear-gradient(#36b878,#30b47b 29.5px,#25aa82 31.5px,#25858e 90.5px,#453781 165.5px,#482576 207.5px,#404788 213.5px,#3b528b 225.5px,#228c8d 231.5px,#20918c)"></i><i style="background:linear-gradient(#42be71,#3bba75 29.5px,#2cb17e 30.5px,#20938c 82.5px,#3c4e8a 156.5px,#472b7a 195.5px,#472c7b 208.5px,#3e4a89 213.5px,#39558c 225.5px,#21908d 231.5px,#20948c)"></i><i style="background:linear-gradient(#4ec36b,#45bf70 29.5px,#34b779 30.5px,#1f9a8a 82.5px,#3a548b 159.5px,#46337f 203.5px,#443881 208.5px,#39548b 213.5px,#355f8d 225.5px,#1f988a 231.5px,#1f9d89)"></i><i style="background:linear-gradient(#3ebc74,#37b878 29.5px,#29af7f 30.5px,#218f8d 81.5px,#3e4a89 151.5px,#481e6f 191.5px,#481d6e 208.5px,#443a83 212.5px,#3f4888 225.5px,#25848e 231.5px,#23898d)"></i><i style="background:linear-gradient(#33b67a,#2db27d 29.5px,#23a884 31.5px,#287c8e 97.5px,#453681 159.5px,#471062 197.5px,#471264 208.5px,#46307d 212.5px,#423f85 225.5px,#287d8e 231.5px,#26818e)"></i><i style="background:linear-gradient(#31b57b,#2bb07e 29.5px,#21a685 32.5px,#2d708e 108.5px,#46337f 161.5px,#470d60 202.5px,#471365 208.5px,#46317e 212.5px,#423f85 225.5px,#287d8e 231.5px,#26828e)"></i><i style="background:linear-gradient(#3cbb75,#34b679 29.5px,#28ad80 30.5px,#228c8d 84.5px,#3f4888 153.5px,#481e6f 192.5px,#481e6e 208.5px,#433b83 212.5px,#3f4988 225.5px,#25858d 231.5px,#248a8d)"></i><i style="background:linear-gradient(#57c666,#4dc26c 29.5px,#3aba76 30.5px,#1f9e88 84.5px,#39558b 169.5px,#404486 207.5px,#34618d 213.5px,#2f6b8e 225.5px,#22a485 231.5px,#25a983)"></i><i style="background:linear-gradient(#3cbb75,#34b679 29.5px,#27ad81 30.5px,#228e8d 92.5px,#414286 168.5px,#472d7b 207.5px,#3d4d8a 213.5px,#38588c 225.5px,#21928c 231.5px,#20978b)"></i><i style="background:linear-gradient(#3dbc74,#34b779 29.5px,#27ae80 30.5px,#228e8d 81.5px,#328088 106.5px,#2b768e 113.5px,#44377e 169.5px,#45206c 207.5px,#424183 213.5px,#3e4c88 225.5px,#25858d 231.5px,#248a8d)"></i><i style="background:linear-gradient(#3fbc73,#36b878 29.5px,#28ae80 30.5px,#20a087 89.5px,#68c65d 90.5px,#aad433 91.5px,#aad233 106.5px,#7cca51 107.5px,#2eac7e 108.5px,#219e87 109.5px,#269683 209.5px,#24a684)"></i><i style="background:linear-gradient(#3dbc74,#34b779 29.5px,#27ad81 30.5px,#228e8d 81.5px,#327f88 106.5px,#2b758e 113.5px,#44377e 168.5px,#451f6b 207.5px,#424083 213.5px,#3e4c87 225.5px,#26848d 231.5px,#24898d)"></i><i style="background:linear-gradient(#45c070,#3bba75 29.5px,#2cb17e 30.5px,#20948c 77.5px,#39568c 149.5px,#472b79 191.5px,#472a78 208.5px,#3f4888 213.5px,#3a538b 225.5px,#238e8c 231.5px,#22938b)"></i><i style="background:linear-gradient(#42be71,#38b977 29.5px,#2ab07f 30.5px,#20928c 76.5px,#24888d 128.5px,#37598b 190.5px,#38578a 208.5px,#2d718e 213.5px,#297a8e 225.5px,#22a087 229.5px,#33b27b 231.5px,#3ab777)"></i><i style="background:linear-gradient(#47c06f,#3cbb75 29.5px,#2db27d 30.5px,#1f958b 75.5px,#38578c 148.5px,#472c79 191.5px,#472b79 208.5px,#3f4988 213.5px,#3a548b 225.5px,#238e8c 231.5px,#22938b)"></i><i style="background:linear-gradient(#42be72,#37b878 29.5px,#29af7f 30.5px,#20918c 77.5px,#3d4d8a 150.5px,#482172 191.5px,#481f71 208.5px,#433c84 212.5px,#3e4a89 225.5px,#24868e 231.5px,#228b8d)"></i><i style="background:linear-gradient(#3fbd73,#34b779 29.5px,#27ae80 30.5px,#218e8d 78.5px,#3e4a89 149.5px,#481d6f 190.5px,#48186a 207.5px,#443b83 213.5px,#404688 225.5px,#25838e 231.5px,#24888e)"></i><i style="background:linear-gradient(#44bf71,#39b977 29.5px,#2bb07f 30.5px,#20928c 81.5px,#3c4e8a 155.5px,#472b7a 194.5px,#472b7a 208.5px,#3f4989 213.5px,#3a548b 225.5px,#218f8d 231.5px,#20938c)"></i><i style="background:linear-gradient(#4ec36b,#41be72 29.5px,#31b57b 30.5px,#1f998a 75.5px,#38578c 154.5px,#463480 195.5px,#453580 208.5px,#3b528b 213.5px,#365d8d 225.5px,#1f968b 231.5px,#1f9b8a)"></i><i style="background:linear-gradient(#53c568,#45bf70 29.5px,#34b779 30.5px,#1f9b8a 74.5px,#38588c 154.5px,#453580 195.5px,#453681 208.5px,#3a538b 213.5px,#355e8d 225.5px,#1f978b 231.5px,#1e9c89)"></i><i style="background:linear-gradient(#4dc36c,#3fbd73 29.5px,#2fb47c 30.5px,#1f978b 72.5px,#39568c 151.5px,#46307d 192.5px,#472f7d 208.5px,#3d4d8a 213.5px,#38588c 225.5px,#20928c 231.5px,#1f978b)"></i><i style="background:linear-gradient(#41be72,#35b779 29.5px,#28ae80 30.5px,#218e8d 76.5px,#3d4e8a 150.5px,#462d79 187.5px,#462c79 208.5px,#3e4a88 213.5px,#39558b 225.5px,#25908b 231.5px,#24948a)"></i><i style="background:linear-gradient(#3fbc73,#39b776 29.5px,#2dae7d 31.5px,#238b8d 81.5px,#277f8e 150.5px,#32638c 202.5px,#2e6d8d 209.5px,#26838d 215.5px,#23898d 225.5px,#21a087 228.5px,#42bb72 230.5px,#54c368)"></i><i style="background:linear-gradient(#67cc5c,#b8dd2a 1.5px,#92d441 45.5px,#2db07e 65.5px,#1f9c89 95.5px,#365b8c 193.5px,#365b8c 208.5px,#2b748e 213.5px,#287e8e 225.5px,#22a386 229.5px,#35b579 231.5px,#3dba75)"></i><i style="background:linear-gradient(#51c469,#dae31a 1.5px,#d1e11d 12.5px,#60c762 19.5px,#53c269 23.5px,#51c16b 29.5px,#43b972 30.5px,#2d9b85 75.5px,#3f5d87 151.5px,#46387b 191.5px,#47377a 208.5px,#3f5487 213.5px,#3b5e89 225.5px,#269589 231.5px,#259988)"></i><i style="background:linear-gradient(#74d055,#f0e528 1.5px,#e4df30 83.5px,#e0da2e 143.5px,#cdda21 147.5px,#59c065 155.5px,#53bd69 162.5px,#4ebb6c 177.5px,#4fb86c 209.5px,#57bf67 221.5px,#5bc664)"></i><i style="background:linear-gradient(#4dc26b,#54c369 3.5px,#56c468 21.5px,#64ca60 29.5px,#53c369 30.5px,#56c368 48.5px,#2d9f83 134.5px,#2d9984 143.5px,#35ac7b 144.5px,#7fcc50 145.5px,#b6d72c 146.5px,#aed230 176.5px,#69c45c 177.5px,#249986 178.5px,#2b808b 179.5px,#2c7d8b 208.5px,#259688 214.5px,#27a483 226.5px,#35b27a 228.5px,#68c95d 230.5px,#7dd04f)"></i><i style="background:linear-gradient(#47c06f,#3bba75 29.5px,#2cb17d 30.5px,#22928b 77.5px,#385b8b 144.5px,#445784 150.5px,#49377a 177.5px,#462774 207.5px,#3f4887 213.5px,#3a538a 225.5px,#288e8a 231.5px,#279389)"></i><i style="background:linear-gradient(#45bf70,#40ba72 29.5px,#33b27a 30.5px,#2b9486 74.5px,#34678c 130.5px,#45317a 181.5px,#45317a 208.5px,#3d4e89 213.5px,#38588b 225.5px,#218f8c 231.5px,#20948c)"></i><i style="background:linear-gradient(#59c764,#54c568 10.5px,#64cb5e 11.5px,#bbdc28 13.5px,#cfdf23 14.5px,#b6d92b 72.5px,#b5d72c 122.5px,#97d23f 125.5px,#30af7d 131.5px,#219a89 134.5px,#219b87 210.5px,#2aa681)"></i><i style="background:linear-gradient(#48c06e,#42bb71 29.5px,#35b378 30.5px,#2ba780 61.5px,#46be6f 79.5px,#52c368 91.5px,#36b679 128.5px,#209c88 171.5px,#209989 208.5px,#30b17c 214.5px,#3cb876 225.5px,#68ca5c 228.5px,#aed92f 230.5px,#bbdb28 231.5px,#b6db2b)"></i><i style="background:linear-gradient(#7ad151,#66cc5d 29.5px,#50c469 30.5px,#2ab07f 75.5px,#248c8c 140.5px,#2f6c8e 191.5px,#2f6b8e 208.5px,#27838d 213.5px,#258d8c 225.5px,#25a384 228.5px,#47be6e 230.5px,#59c664)"></i><i style="background:linear-gradient(#88d548,#73cf55 29.5px,#5cc863 30.5px,#33b57a 77.5px,#21938b 142.5px,#2a778d 192.5px,#2a768d 208.5px,#228e8c 213.5px,#209889 225.5px,#2fae7d 228.5px,#62c860 230.5px,#78cf52)"></i><i style="background:linear-gradient(#53c568,#43be71 29.5px,#32b57a 30.5px,#209a8a 71.5px,#39578b 150.5px,#46307b 191.5px,#462e7a 208.5px,#3d4c89 213.5px,#39578b 225.5px,#27918a 231.5px,#269688)"></i><i style="background:linear-gradient(#4cc26c,#3dbb74 29.5px,#2db27d 30.5px,#1f998a 71.5px,#356a8b 138.5px,#513f7a 182.5px,#523977 208.5px,#495584 213.5px,#445f86 225.5px,#2e9686 231.5px,#2d9a85)"></i><i style="background:linear-gradient(#63cb5e,#51c469 29.5px,#3ebc74 30.5px,#27ac81 63.5px,#2dac7f 136.5px,#93cf42 140.5px,#aad233 142.5px,#aed131 159.5px,#d4d527 163.5px,#e5d731 166.5px,#eadb2d 192.5px,#f2dc2a 206.5px,#f0e22b)"></i><i style="background:linear-gradient(#84d44a,#70ce57 29.5px,#59c765 30.5px,#31b37b 76.5px,#20978a 136.5px,#368088 173.5px,#368088 187.5px,#33a97d 190.5px,#4eba6e 191.5px,#ced922 194.5px,#e9dc25 195.5px,#f2de2b 197.5px,#f0e42a)"></i><i style="background:linear-gradient(#49c06e,#3ab976 29.5px,#2cb07e 30.5px,#22928b 73.5px,#306b8d 156.5px,#39578a 189.5px,#485783 200.5px,#475a83 208.5px,#3e7386 213.5px,#398386 226.5px,#39af78 231.5px,#3eb375)"></i><i style="background:linear-gradient(#4ac16d,#3bba75 29.5px,#2cb17e 30.5px,#20948c 71.5px,#228c8d 104.5px,#29a682 148.5px,#229289 205.5px,#249b86 209.5px,#38b079 215.5px,#42b574 225.5px,#6ec859 228.5px,#b3d92c 230.5px,#aed830 231.5px,#badb29)"></i><i style="background:linear-gradient(#5dc962,#4cc26c 29.5px,#3aba76 30.5px,#1f9f88 73.5px,#34618c 159.5px,#3f4786 205.5px,#3b5289 209.5px,#33678c 214.5px,#316f8c 225.5px,#2aa780 231.5px,#2dab7e)"></i><i style="background:linear-gradient(#4ac16d,#3bbb75 29.5px,#2cb17e 30.5px,#20948b 71.5px,#3a538b 149.5px,#472978 191.5px,#472877 208.5px,#404688 213.5px,#3b528b 225.5px,#228c8d 231.5px,#21918c)"></i><i style="background:linear-gradient(#4bc26c,#3cbb75 29.5px,#2db27d 30.5px,#1f968b 70.5px,#3b518b 149.5px,#482676 191.5px,#482475 208.5px,#424186 212.5px,#3c4f8a 225.5px,#238a8d 231.5px,#218f8d)"></i><i style="background:linear-gradient(#48c16e,#3aba76 29.5px,#2bb17e 30.5px,#20938c 73.5px,#423f85 178.5px,#453580 207.5px,#3a548b 213.5px,#355f8d 225.5px,#20988a 231.5px,#209d89)"></i><i style="background:linear-gradient(#69cd5b,#57c765 29.5px,#43be71 30.5px,#22a685 77.5px,#2b758e 149.5px,#39568b 197.5px,#38578c 208.5px,#2d718e 213.5px,#297a8e 225.5px,#20a088 229.5px,#2fb27c 231.5px,#36b778)"></i><i style="background:linear-gradient(#73cf55,#61ca60 29.5px,#4cc26c 30.5px,#26ab82 79.5px,#24868d 139.5px,#32648d 191.5px,#33638d 208.5px,#297c8e 213.5px,#25858d 225.5px,#209c89 228.5px,#3ab876 230.5px,#4bc06d)"></i><i style="background:linear-gradient(#48c06e,#3aba76 29.5px,#2cb17e 30.5px,#20948b 78.5px,#39558b 151.5px,#462f7b 192.5px,#462e7b 208.5px,#3d4c89 213.5px,#38578c 225.5px,#23918b 231.5px,#23968a)"></i><i style="background:linear-gradient(#47c06f,#3aba76 29.5px,#2bb17e 30.5px,#20938c 73.5px,#3e4a89 153.5px,#482978 191.5px,#482978 208.5px,#3f4788 213.5px,#3a538b 225.5px,#228d8d 231.5px,#20928c)"></i><i style="background:linear-gradient(#42be71,#47bf6e 5.5px,#3eba73 29.5px,#31b27b 30.5px,#25848e 100.5px,#453882 172.5px,#482777 207.5px,#3f4889 213.5px,#3a538b 225.5px,#228d8d 231.5px,#20928c)"></i><i style="background:linear-gradient(#48c16e,#b3dc2c 1.5px,#91d242 73.5px,#8dd045 83.5px,#5dc463 89.5px,#26a783 95.5px,#23888e 101.5px,#2b748e 113.5px,#472f7d 174.5px,#482677 207.5px,#3f4788 213.5px,#3a538b 225.5px,#228d8d 231.5px,#20928c)"></i><i style="background:linear-gradient(#45bf70,#91d642 1.5px,#7bd050 43.5px,#2cad7e 55.5px,#279b86 66.5px,#306a8e 123.5px,#482575 188.5px,#481f71 207.5px,#424186 213.5px,#3d4d8a 225.5px,#24888e 231.5px,#228d8d)"></i><i style="background:linear-gradient(#42be71,#3bb975 29.5px,#2eb17d 30.5px,#1f988b 72.5px,#2d708e 131.5px,#443982 188.5px,#453781 208.5px,#39548b 213.5px,#345f8d 225.5px,#1f998a 231.5px,#1f9d89)"></i><i style="background:linear-gradient(#3fbd73,#34b679 29.5px,#27ad81 30.5px,#228c8d 79.5px,#3e4a89 148.5px,#472e7c 177.5px,#414287 208.5px,#34618d 213.5px,#2e6f8e 225.5px,#20948b 229.5px,#23a784 231.5px,#27ac81)"></i><i style="background:linear-gradient(#51c469,#43bf71 29.5px,#33b67a 30.5px,#1f9a8a 75.5px,#38578c 153.5px,#453681 192.5px,#453681 208.5px,#3a538b 213.5px,#355e8d 225.5px,#1f988b 231.5px,#1f9c89)"></i><i style="background:linear-gradient(#44bf70,#38b977 29.5px,#2ab07f 30.5px,#20928c 75.5px,#433d84 166.5px,#472c7b 207.5px,#3d4c8a 213.5px,#38578c 225.5px,#20918c 231.5px,#1f968b)"></i><i style="background:linear-gradient(#3cbb75,#32b57a 29.5px,#25ab82 31.5px,#23888e 83.5px,#443a83 162.5px,#481b6d 205.5px,#482878 209.5px,#433f85 213.5px,#3e4a89 225.5px,#24868e 231.5px,#238b8d)"></i><i style="background:linear-gradient(#49c16e,#3dbb74 29.5px,#2eb27d 30.5px,#20958b 75.5px,#3b508b 150.5px,#472575 191.5px,#482474 208.5px,#424085 212.5px,#3c4e8a 225.5px,#24898d 231.5px,#228e8c)"></i><i style="background:linear-gradient(#5fc961,#51c469 29.5px,#3ebc74 30.5px,#20a187 80.5px,#355e8c 160.5px,#404386 205.5px,#3c4e89 209.5px,#32648d 214.5px,#2f6c8e 225.5px,#21928c 229.5px,#23a585 231.5px,#26a982)"></i><i style="background:linear-gradient(#42be71,#38b977 29.5px,#2aaf7f 30.5px,#21918c 77.5px,#3c4e8a 148.5px,#472a79 183.5px,#472676 208.5px,#404587 213.5px,#3b508b 225.5px,#238b8d 231.5px,#22908c)"></i><i style="background:linear-gradient(#47bf6f,#3cba74 29.5px,#2eb17d 30.5px,#24948a 79.5px,#385c8b 147.5px,#45317a 190.5px,#452f79 208.5px,#3f4d87 213.5px,#3b598a 225.5px,#2b9287 231.5px,#2b9686)"></i><i style="background:linear-gradient(#a1d937,#93d641 29.5px,#7ad051 30.5px,#60c761 63.5px,#36af7a 133.5px,#249387 181.5px,#239187 208.5px,#34a97c 213.5px,#42b274 225.5px,#6ec55a 228.5px,#b2d62e 230.5px,#acd532 231.5px,#b8d82b)"></i><i style="background:linear-gradient(#51c369,#46bf6f 29.5px,#35b678 30.5px,#239b88 77.5px,#39598b 153.5px,#44357d 193.5px,#44347d 208.5px,#3d5289 213.5px,#395d8a 225.5px,#2a9586 231.5px,#2a9a85)"></i><i style="background:linear-gradient(#3bba75,#32b67a 29.5px,#26ac82 31.5px,#23898d 86.5px,#3f4889 154.5px,#482272 192.5px,#482172 208.5px,#433e84 212.5px,#3d4c89 225.5px,#24878e 231.5px,#228c8d)"></i><i style="background:linear-gradient(#3cbb75,#34b779 29.5px,#27ad81 30.5px,#228d8d 81.5px,#39558c 158.5px,#453480 202.5px,#443882 208.5px,#39558c 213.5px,#34608d 225.5px,#1f998a 231.5px,#1f9e89)"></i><i style="background:linear-gradient(#4ac16d,#40bd72 29.5px,#30b47b 30.5px,#20988a 80.5px,#3b528b 159.5px,#46317d 203.5px,#453680 208.5px,#3a538b 213.5px,#355e8d 225.5px,#22978a 231.5px,#219c88)"></i><i style="background:linear-gradient(#67cc5c,#5cc863 29.5px,#47c06f 30.5px,#21a486 96.5px,#2f6d8e 167.5px,#34618c 208.5px,#2a798e 213.5px,#26838e 225.5px,#209a89 228.5px,#37b678 230.5px,#48be6f)"></i><i style="background:linear-gradient(#49c16e,#40bd73 29.5px,#30b47b 30.5px,#20988b 84.5px,#414286 187.5px,#423e84 208.5px,#375a8c 213.5px,#32648d 225.5px,#219d88 231.5px,#22a286)"></i><i style="background:linear-gradient(#3fbc73,#37b878 29.5px,#29af7f 30.5px,#21908c 81.5px,#3e4a89 168.5px,#453681 207.5px,#39558c 214.5px,#355e8d 225.5px,#20978b 231.5px,#1f9c89)"></i><i style="background:linear-gradient(#55c667,#4cc26c 29.5px,#3aba76 30.5px,#1f9e88 88.5px,#3c508a 193.5px,#3c4f8a 208.5px,#31678e 213.5px,#2d718e 225.5px,#1f968b 229.5px,#24a983 231.5px,#28ae80)"></i><i style="background:linear-gradient(#4fc46a,#47c06f 29.5px,#35b778 30.5px,#1f9c89 84.5px,#404487 193.5px,#414387 208.5px,#365c8d 213.5px,#31668e 225.5px,#1f9f88 231.5px,#20a386)"></i><i style="background:linear-gradient(#48c16e,#41bd72 29.5px,#31b47b 30.5px,#21978a 83.5px,#3a538b 160.5px,#45357f 204.5px,#423f84 209.5px,#39558b 215.5px,#365c8c 225.5px,#259589 231.5px,#249a88)"></i><i style="background:linear-gradient(#79d152,#6fce57 29.5px,#5ac764 30.5px,#25a284 128.5px,#2e7e8a 192.5px,#2f7c8a 208.5px,#279288 215.5px,#269f85 226.5px,#2ead7d 228.5px,#5bc664 230.5px,#6fcd58)"></i><i style="background:linear-gradient(#78d152,#7ed24f 8.5px,#6fca58 129.5px,#72ca57 226.5px,#76d053)"></i><i style="background:linear-gradient(#55c667,#4ec36b 29.5px,#3dbb74 30.5px,#24a086 91.5px,#3e5a88 193.5px,#3f5887 208.5px,#356e8a 215.5px,#32748a 225.5px,#27a982 231.5px,#2aae7f)"></i><b class="h" style="top:5px;left:0px;width:184px;background:rgba(54,66,142,.8)"></b><b class="h" style="top:5px;left:187px;width:8px;background:rgba(54,66,142,.8)"></b><b class="h" style="top:5px;left:196px;width:86px;background:rgba(54,66,142,.8)"></b><b class="h" style="top:5px;left:286px;width:70px;background:rgba(54,66,142,.8)"></b><b class="h" style="top:5px;left:365px;width:22px;background:rgba(54,66,142,.8)"></b><b class="h" style="top:5px;left:388px;width:243px;background:rgba(54,66,142,.8)"></b><b class="h" style="top:16px;left:0px;width:184px;background:rgba(42,95,142,.52)"></b><b class="h" style="top:16px;left:187px;width:1px;background:rgba(42,95,142,.52)"></b><b class="h" style="top:16px;left:191px;width:4px;background:rgba(42,95,142,.52)"></b><b class="h" style="top:16px;left:196px;width:86px;background:rgba(42,95,142,.52)"></b><b class="h" style="top:16px;left:286px;width:70px;background:rgba(42,95,142,.52)"></b><b class="h" style="top:16px;left:364px;width:267px;background:rgba(42,95,142,.52)"></b><b class="h" style="top:29px;left:0px;width:282px;background:rgba(42,100,142,.42)"></b><b class="h" style="top:29px;left:286px;width:345px;background:rgba(42,100,142,.42)"></b><b class="h" style="top:164px;left:0px;width:282px;background:rgba(68,20,100,.36)"></b><b class="h" style="top:164px;left:287px;width:344px;background:rgba(68,20,100,.36)"></b><b class="s" style="left:4px;top:228px;width:2px;background:#fde725"></b><b class="s" style="left:30px;top:229px;width:1px;background:#fde725"></b><b class="s" style="left:35px;top:228px;width:1px;background:#fde725"></b><b class="s" style="left:39px;top:229px;width:2px;background:#fde725"></b><b class="s" style="left:41px;top:229px;width:2px;background:#fde725"></b><b class="s" style="left:44px;top:229px;width:1px;background:#b5de2b"></b><b class="s" style="left:49px;top:229px;width:2px;background:#fde725"></b><b class="s" style="left:52px;top:228px;width:1px;background:#fde725"></b><b class="s" style="left:64px;top:226px;width:1px;background:#fde725"></b><b class="s" style="left:79px;top:226px;width:1px;background:#b5de2b"></b><b class="s" style="left:83px;top:231px;width:1px;background:#fde725"></b><b class="s" style="left:85px;top:231px;width:1px;background:#fde725"></b><b class="s" style="left:97px;top:229px;width:2px;background:#b5de2b"></b><b class="s" style="left:99px;top:229px;width:1px;background:#fde725"></b><b class="s" style="left:101px;top:227px;width:2px;background:#b5de2b"></b><b class="s" style="left:124px;top:230px;width:1px;background:#fde725"></b><b class="s" style="left:144px;top:228px;width:2px;background:#fde725"></b><b class="s" style="left:151px;top:226px;width:1px;background:#fde725"></b><b class="s" style="left:162px;top:229px;width:1px;background:#b5de2b"></b><b class="s" style="left:163px;top:226px;width:1px;background:#fde725"></b><b class="s" style="left:176px;top:229px;width:1px;background:#fde725"></b><b class="s" style="left:177px;top:228px;width:1px;background:#fde725"></b><b class="s" style="left:180px;top:229px;width:1px;background:#b5de2b"></b><b class="s" style="left:190px;top:229px;width:2px;background:#b5de2b"></b><b class="s" style="left:217px;top:228px;width:1px;background:#fde725"></b><b class="s" style="left:226px;top:228px;width:1px;background:#fde725"></b><b class="s" style="left:233px;top:226px;width:1px;background:#b5de2b"></b><b class="s" style="left:236px;top:228px;width:1px;background:#fde725"></b><b class="s" style="left:237px;top:228px;width:1px;background:#fde725"></b><b class="s" style="left:243px;top:228px;width:1px;background:#fde725"></b><b class="s" style="left:244px;top:228px;width:1px;background:#fde725"></b><b class="s" style="left:256px;top:230px;width:1px;background:#fde725"></b><b class="s" style="left:260px;top:227px;width:1px;background:#fde725"></b><b class="s" style="left:267px;top:224px;width:1px;background:#b5de2b"></b><b class="s" style="left:277px;top:226px;width:2px;background:#fde725"></b><b class="s" style="left:310px;top:229px;width:1px;background:#b5de2b"></b><b class="s" style="left:347px;top:229px;width:1px;background:#b5de2b"></b><b class="s" style="left:359px;top:229px;width:1px;background:#fde725"></b><b class="s" style="left:365px;top:229px;width:1px;background:#fde725"></b><b class="s" style="left:371px;top:228px;width:1px;background:#b5de2b"></b><b class="s" style="left:383px;top:229px;width:2px;background:#b5de2b"></b><b class="s" style="left:395px;top:228px;width:2px;background:#fde725"></b><b class="s" style="left:409px;top:226px;width:1px;background:#b5de2b"></b><b class="s" style="left:428px;top:228px;width:1px;background:#fde725"></b><b class="s" style="left:441px;top:229px;width:1px;background:#fde725"></b><b class="s" style="left:449px;top:227px;width:2px;background:#fde725"></b><b class="s" style="left:452px;top:230px;width:1px;background:#fde725"></b><b class="s" style="left:462px;top:230px;width:1px;background:#fde725"></b><b class="s" style="left:463px;top:229px;width:1px;background:#fde725"></b><b class="s" style="left:467px;top:228px;width:1px;background:#fde725"></b><b class="s" style="left:471px;top:226px;width:1px;background:#fde725"></b><b class="s" style="left:473px;top:228px;width:1px;background:#fde725"></b><b class="s" style="left:490px;top:230px;width:2px;background:#b5de2b"></b><b class="s" style="left:529px;top:229px;width:1px;background:#fde725"></b><b class="s" style="left:533px;top:227px;width:1px;background:#fde725"></b><b class="s" style="left:558px;top:229px;width:2px;background:#fde725"></b><b class="s" style="left:574px;top:229px;width:1px;background:#fde725"></b><b class="s" style="left:578px;top:228px;width:1px;background:#fde725"></b><b class="s" style="left:579px;top:230px;width:1px;background:#fde725"></b><b class="s" style="left:586px;top:227px;width:1px;background:#b5de2b"></b><b class="s" style="left:587px;top:227px;width:1px;background:#fde725"></b><b class="s" style="left:588px;top:228px;width:1px;background:#fde725"></b><b class="s" style="left:601px;top:227px;width:1px;background:#fde725"></b><b class="s" style="left:606px;top:226px;width:1px;background:#fde725"></b><b class="s" style="left:609px;top:227px;width:1px;background:#fde725"></b><b class="s" style="left:619px;top:228px;width:1px;background:#fde725"></b><b class="s" style="left:622px;top:231px;width:1px;background:#fde725"></b><b class="s" style="left:628px;top:227px;width:1px;background:#fde725"></b><b class="s" style="left:43px;top:230px;width:1px;background:#b5de2b"></b><b class="s" style="left:45px;top:229px;width:1px;background:#b5de2b"></b><b class="s" style="left:46px;top:229px;width:1px;background:#b5de2b"></b><b class="s" style="left:48px;top:229px;width:1px;background:#fde725"></b><b class="s" style="left:49px;top:229px;width:1px;background:#fde725"></b><b class="s" style="left:50px;top:229px;width:1px;background:#fde725"></b><b class="s" style="left:53px;top:229px;width:2px;background:#b5de2b"></b><b class="s" style="left:58px;top:229px;width:2px;background:#fde725"></b><b class="s" style="left:60px;top:229px;width:1px;background:#b5de2b"></b><b class="s" style="left:62px;top:229px;width:2px;background:#b5de2b"></b><b class="s" style="left:64px;top:229px;width:1px;background:#b5de2b"></b><b class="s" style="left:66px;top:229px;width:2px;background:#fde725"></b><b class="s" style="left:68px;top:228px;width:1px;background:#fde725"></b><b class="s" style="left:70px;top:229px;width:1px;background:#fde725"></b><b class="s" style="left:71px;top:228px;width:1px;background:#fde725"></b><b class="s" style="left:77px;top:228px;width:2px;background:#fde725"></b><b class="s" style="left:79px;top:231px;width:1px;background:#fde725"></b><b class="s" style="left:81px;top:229px;width:1px;background:#fde725"></b><b class="s" style="left:82px;top:229px;width:1px;background:#fde725"></b><b class="s" style="left:528px;top:226px;width:1px;background:#fde725"></b><b class="s" style="left:529px;top:226px;width:1px;background:#b5de2b"></b><b class="s" style="left:530px;top:226px;width:1px;background:#b5de2b"></b><b class="s" style="left:532px;top:226px;width:2px;background:#fde725"></b><b class="s" style="left:533px;top:226px;width:2px;background:#fde725"></b><b class="s" style="left:536px;top:227px;width:2px;background:#fde725"></b><b class="s" style="left:541px;top:228px;width:1px;background:#fde725"></b><b class="s" style="left:543px;top:227px;width:2px;background:#fde725"></b><b class="s" style="left:545px;top:228px;width:1px;background:#fde725"></b><b class="s" style="left:547px;top:227px;width:2px;background:#fde725"></b><b class="s" style="left:549px;top:227px;width:1px;background:#b5de2b"></b><b class="s" style="left:552px;top:227px;width:1px;background:#fde725"></b><b class="s" style="left:554px;top:227px;width:2px;background:#b5de2b"></b><b class="s" style="left:556px;top:226px;width:1px;background:#fde725"></b><b class="s" style="left:560px;top:226px;width:2px;background:#fde725"></b><b class="s" style="left:561px;top:225px;width:2px;background:#fde725"></b><b class="s" style="left:563px;top:227px;width:1px;background:#fde725"></b><b class="s" style="left:565px;top:227px;width:1px;background:#b5de2b"></b><b class="s" style="left:567px;top:226px;width:1px;background:#fde725"></b><b class="s" style="left:569px;top:227px;width:1px;background:#fde725"></b><b class="s" style="left:570px;top:229px;width:1px;background:#fde725"></b><b class="s" style="left:571px;top:226px;width:1px;background:#fde725"></b><b class="s" style="left:576px;top:229px;width:1px;background:#fde725"></b><b class="s" style="left:577px;top:228px;width:1px;background:#b5de2b"></b><b class="s" style="left:579px;top:228px;width:2px;background:#b5de2b"></b><b class="s" style="left:582px;top:227px;width:2px;background:#fde725"></b><b class="s" style="left:583px;top:227px;width:1px;background:#fde725"></b><b class="s" style="left:584px;top:227px;width:2px;background:#fde725"></b><b class="s" style="left:585px;top:226px;width:1px;background:#fde725"></b><b class="s" style="left:587px;top:227px;width:2px;background:#fde725"></b><b class="s" style="left:588px;top:227px;width:1px;background:#fde725"></b><b class="s" style="left:594px;top:228px;width:1px;background:#fde725"></b><b class="s" style="left:595px;top:230px;width:2px;background:#fde725"></b><b class="s" style="left:596px;top:227px;width:2px;background:#b5de2b"></b><b class="s" style="left:598px;top:228px;width:1px;background:#fde725"></b><b class="s" style="left:600px;top:227px;width:1px;background:#fde725"></b><b class="s" style="left:602px;top:227px;width:2px;background:#fde725"></b><b class="s" style="left:603px;top:228px;width:2px;background:#b5de2b"></b><b class="s" style="left:604px;top:227px;width:1px;background:#fde725"></b><b class="s" style="left:607px;top:226px;width:1px;background:#fde725"></b><b class="s" style="left:609px;top:227px;width:2px;background:#b5de2b"></b><b class="s" style="left:610px;top:226px;width:2px;background:#b5de2b"></b><b class="s" style="left:611px;top:227px;width:1px;background:#fde725"></b><b class="s" style="left:612px;top:227px;width:1px;background:#fde725"></b><b class="s" style="left:614px;top:228px;width:1px;background:#b5de2b"></b><b class="s" style="left:625px;top:227px;width:2px;background:#fde725"></b><b class="s" style="left:626px;top:227px;width:1px;background:#fde725"></b><b class="s" style="left:628px;top:225px;width:2px;background:#fde725"></b><b class="s" style="left:629px;top:227px;width:1px;background:#fde725"></b><b class="s" style="left:320px;top:227px;width:1px;background:#fde725"></b><b class="s" style="left:322px;top:226px;width:1px;background:#fde725"></b><b class="s" style="left:325px;top:226px;width:1px;background:#fde725"></b><b class="s" style="left:327px;top:225px;width:2px;background:#b5de2b"></b><b class="s" style="left:331px;top:228px;width:1px;background:#fde725"></b><b class="s" style="left:333px;top:227px;width:1px;background:#b5de2b"></b><b class="s" style="left:338px;top:227px;width:1px;background:#b5de2b"></b><b class="s" style="left:363px;top:227px;width:2px;background:#fde725"></b><b class="s" style="left:364px;top:227px;width:1px;background:#fde725"></b><b class="s" style="left:371px;top:225px;width:1px;background:#fde725"></b><b class="s" style="left:373px;top:225px;width:1px;background:#b5de2b"></b><b class="s" style="left:374px;top:226px;width:1px;background:#fde725"></b><b class="s" style="left:377px;top:227px;width:1px;background:#fde725"></b><b class="s" style="left:379px;top:228px;width:1px;background:#fde725"></b><b class="s" style="left:383px;top:226px;width:1px;background:#fde725"></b><b class="s" style="left:384px;top:227px;width:2px;background:#fde725"></b><b class="s" style="left:193px;top:228px;width:1px;background:#fde725"></b><b class="s" style="left:195px;top:229px;width:1px;background:#fde725"></b><b class="s" style="left:199px;top:227px;width:1px;background:#fde725"></b><b class="s" style="left:203px;top:228px;width:1px;background:#b5de2b"></b><b class="s" style="left:207px;top:230px;width:1px;background:#b5de2b"></b><b class="s" style="left:209px;top:228px;width:1px;background:#fde725"></b><b class="s" style="left:219px;top:229px;width:1px;background:#fde725"></b><b class="s" style="left:225px;top:229px;width:1px;background:#fde725"></b><b class="s" style="left:238px;top:228px;width:1px;background:#fde725"></b><b class="s" style="left:469px;top:122px;width:1px;background:#a5db36"></b><b class="s" style="left:470px;top:82px;width:1px;background:#5ec962"></b><b class="s" style="left:40px;top:150px;width:1px;background:#a5db36"></b><b class="s" style="left:27px;top:206px;width:1px;background:#5ec962"></b><b class="s" style="left:324px;top:208px;width:1px;background:#a5db36"></b><b class="s" style="left:183px;top:191px;width:1px;background:#a5db36"></b><b class="s" style="left:131px;top:179px;width:1px;background:#a5db36"></b><b class="s" style="left:281px;top:115px;width:1px;background:#5ec962"></b><b class="s" style="left:268px;top:226px;width:1px;background:#a5db36"></b><b class="s" style="left:500px;top:127px;width:1px;background:#a5db36"></b><b class="s" style="left:123px;top:61px;width:1px;background:#a5db36"></b><b class="s" style="left:129px;top:192px;width:1px;background:#a5db36"></b><b class="s" style="left:588px;top:134px;width:1px;background:#a5db36"></b><b class="s" style="left:407px;top:162px;width:1px;background:#a5db36"></b><b class="s" style="left:610px;top:96px;width:1px;background:#5ec962"></b><b class="s" style="left:282px;top:211px;width:1px;background:#a5db36"></b><b class="s" style="left:65px;top:176px;width:1px;background:#a5db36"></b><b class="s" style="left:51px;top:126px;width:1px;background:#5ec962"></b><b class="s" style="left:147px;top:213px;width:1px;background:#5ec962"></b><b class="s" style="left:194px;top:64px;width:1px;background:#a5db36"></b><b class="s" style="left:265px;top:170px;width:1px;background:#5ec962"></b><b class="s" style="left:48px;top:74px;width:1px;background:#a5db36"></b></div>
<div class="c" style="top:59px;background:linear-gradient(#fde725,#d8e219,#b0dd2f,#89d548,#65cb5e,#46c06f,#2eb37c,#21a585,#1f978b,#23898e,#297b8e,#2e6d8e,#355e8d,#3d4e8a,#433d84,#472a7a,#481769,#440154)"></div>
<div class="p" style="top:352px"><i style="background:linear-gradient(#8e8e8e,#858585 99.5px,#7f7f7f 180.5px,#868686 210.5px,#868686 216.5px,#818181 223.5px,#8c8c8c)"></i><i style="background:linear-gradient(#8e8e8e,#838383 103.5px,#838383 209.5px,#848484 216.5px,#7f7f7f 223.5px,#8a8a8a)"></i><i style="background:linear-gradient(#8f8f8f,#828282 140.5px,#838383 209.5px,#858585 216.5px,#818181 223.5px,#8d8d8d)"></i><i style="background:linear-gradient(#909090,#878787 99.5px,#818181 204.5px,#898989 215.5px,#838383 223.5px,#8e8e8e)"></i><i style="background:linear-gradient(#919191,#9b9b9b 1.5px,#8e8e8e 82.5px,#878787 113.5px,#888 209.5px,#898989 216.5px,#848484 223.5px,#8f8f8f)"></i><i style="background:linear-gradient(#909090,#868686 102.5px,#868686 209.5px,#878787 216.5px,#828282 223.5px,#8d8d8d)"></i><i style="background:linear-gradient(#8f8f8f,#808080 101.5px,#818181 186.5px,#878787 210.5px,#868686 216.5px,#818181 223.5px,#8c8c8c)"></i><i style="background:linear-gradient(#8e8e8e,#858585 105.5px,#838383 209.5px,#848484 216.5px,#808080 223.5px,#8b8b8b)"></i><i style="background:linear-gradient(#919191,#878787 106.5px,#878787 209.5px,#888 216.5px,#838383 223.5px,#8e8e8e)"></i><i style="background:linear-gradient(#929292,#888 108.5px,#767676 180.5px,#797979 209.5px,#7b7b7b 216.5px,#7c7c7c 223.5px,#8e8e8e)"></i><i style="background:linear-gradient(#909090,#868686 113.5px,#868686 209.5px,#878787 216.5px,#828282 223.5px,#8d8d8d)"></i><i style="background:linear-gradient(#8d8d8d,#7f7f7f 124.5px,#808080 209.5px,#818181 216.5px,#7c7c7c 223.5px,#888)"></i><i style="background:linear-gradient(#8d8d8d,#828282 135.5px,#848484 208.5px,#878787 215.5px,#808080 223.5px,#8b8b8b)"></i><i style="background:linear-gradient(#919191,#868686 110.5px,#717171 118.5px,#646464 159.5px,#666 209.5px,#676767 216.5px,#666 223.5px,#797979 226.5px,#898989 229.5px,#8d8d8d)"></i><i style="background:linear-gradient(#8f8f8f,#868686 118.5px,#858585 209.5px,#858585 216.5px,#818181 223.5px,#8d8d8d)"></i><i style="background:linear-gradient(#8c8c8c,#838383 120.5px,#838383 209.5px,#848484 216.5px,#7f7f7f 223.5px,#8a8a8a)"></i><i style="background:linear-gradient(#8f8f8f,#838383 153.5px,#868686 209.5px,#878787 216.5px,#828282 223.5px,#8d8d8d)"></i><i style="background:linear-gradient(#8d8d8d,#838383 126.5px,#7e7e7e 173.5px,#767676 198.5px,#878787 215.5px,#808080 223.5px,#8b8b8b)"></i><i style="background:linear-gradient(#8e8e8e,#848484 130.5px,#858585 209.5px,#868686 216.5px,#818181 223.5px,#8c8c8c)"></i><i style="background:linear-gradient(#8e8e8e,#848484 132.5px,#858585 209.5px,#868686 216.5px,#818181 223.5px,#8c8c8c)"></i><i style="background:linear-gradient(#8d8d8d,#828282 142.5px,#838383 208.5px,#878787 215.5px,#818181 223.5px,#8c8c8c)"></i><i style="background:linear-gradient(#8f8f8f,#868686 139.5px,#878787 209.5px,#888 216.5px,#838383 223.5px,#8e8e8e)"></i><i style="background:linear-gradient(#8e8e8e,#858585 143.5px,#868686 209.5px,#878787 216.5px,#828282 223.5px,#8d8d8d)"></i><i style="background:linear-gradient(#8d8d8d,#848484 148.5px,#858585 209.5px,#868686 216.5px,#818181 223.5px,#8c8c8c)"></i><i style="background:linear-gradient(#8f8f8f,#858585 152.5px,#878787 209.5px,#888 216.5px,#838383 223.5px,#8e8e8e)"></i><i style="background:linear-gradient(#8f8f8f,#868686 158.5px,#878787 209.5px,#888 216.5px,#838383 223.5px,#8e8e8e)"></i><i style="background:linear-gradient(#8b8b8b,#7f7f7f 59.5px,#797979 204.5px,#848484 215.5px,#7f7f7f 223.5px,#8a8a8a)"></i><i style="background:linear-gradient(#8d8d8d,#848484 170.5px,#868686 209.5px,#878787 216.5px,#828282 223.5px,#8d8d8d)"></i><i style="background:linear-gradient(#8c8c8c,#828282 178.5px,#848484 209.5px,#858585 216.5px,#808080 223.5px,#8b8b8b)"></i><i style="background:linear-gradient(#8d8d8d,#838383 186.5px,#868686 209.5px,#878787 216.5px,#828282 223.5px,#8d8d8d)"></i><i style="background:linear-gradient(#8c8c8c,#818181 204.5px,#878787 215.5px,#808080 223.5px,#8b8b8b)"></i><i style="background:linear-gradient(#939393,#898989 1.5px,#7c7c7c 93.5px,#7c7c7c 209.5px,#7d7d7d 216.5px,#787878 223.5px,#828282 231.5px,#8d8d8d)"></i><i style="background:linear-gradient(#8d8d8d,#838383 133.5px,#848484 208.5px,#868686 216.5px,#828282 223.5px,#8d8d8d)"></i><i style="background:linear-gradient(#8d8d8d,#838383 204.5px,#898989 215.5px,#828282 223.5px,#8d8d8d)"></i><i style="background:linear-gradient(#8c8c8c,#828282 205.5px,#878787 215.5px,#808080 223.5px,#8b8b8b)"></i><i style="background:linear-gradient(#8c8c8c,#838383 205.5px,#888 215.5px,#818181 223.5px,#8c8c8c)"></i><i style="background:linear-gradient(#8b8b8b,#9a9a9a 1.5px,#8f8f8f 101.5px,#838383 132.5px,#848484 209.5px,#858585 216.5px,#808080 223.5px,#8b8b8b)"></i><i style="background:linear-gradient(#8b8b8b,#9a9a9a 1.5px,#8f8f8f 101.5px,#838383 132.5px,#7c7c7c 141.5px,#707070 151.5px,#727272 203.5px,#848484 215.5px,#808080 224.5px,#8b8b8b)"></i><i style="background:linear-gradient(#8d8d8d,#9c9c9c 1.5px,#929292 101.5px,#858585 132.5px,#868686 209.5px,#878787 216.5px,#828282 223.5px,#8d8d8d)"></i><i style="background:linear-gradient(#8b8b8b,#7e7e7e 191.5px,#7c7c7c 216.5px,#787878 223.5px,#888)"></i><i style="background:linear-gradient(#8f8f8f,#878787 207.5px,#8b8b8b 215.5px,#848484 223.5px,#8f8f8f)"></i><i style="background:linear-gradient(#919191,#868686 131.5px,#878787 209.5px,#888 216.5px,#838383 223.5px,#8e8e8e)"></i><i style="background:linear-gradient(#898989,#828282 207.5px,#868686 215.5px,#7f7f7f 223.5px,#8a8a8a)"></i><i style="background:linear-gradient(#8d8d8d,#868686 43.5px,#6f6f6f 66.5px,#6e6e6e 209.5px,#6f6f6f 216.5px,#6f6f6f 222.5px,#898989)"></i><i style="background:linear-gradient(#8b8b8b,#838383 207.5px,#878787 215.5px,#808080 223.5px,#8b8b8b)"></i><i style="background:linear-gradient(#8c8c8c,#858585 207.5px,#898989 215.5px,#828282 223.5px,#8d8d8d)"></i><i style="background:linear-gradient(#8c8c8c,#858585 207.5px,#898989 215.5px,#828282 223.5px,#8d8d8d)"></i><i style="background:linear-gradient(#898989,#828282 208.5px,#848484 216.5px,#7f7f7f 223.5px,#8a8a8a)"></i><i style="background:linear-gradient(#8c8c8c,#818181 164.5px,#797979 186.5px,#7c7c7c 209.5px,#7d7d7d 216.5px,#787878 223.5px,#838383)"></i><i style="background:linear-gradient(#8c8c8c,#858585 208.5px,#878787 216.5px,#828282 223.5px,#8d8d8d)"></i><i style="background:linear-gradient(#8d8d8d,#818181 180.5px,#838383 209.5px,#848484 216.5px,#7f7f7f 223.5px,#8a8a8a)"></i><i style="background:linear-gradient(#8a8a8a,#848484 208.5px,#858585 216.5px,#808080 223.5px,#8b8b8b)"></i><i style="background:linear-gradient(#8d8d8d,#878787 208.5px,#888 216.5px,#838383 223.5px,#8e8e8e)"></i><i style="background:linear-gradient(#8a8a8a,#848484 208.5px,#858585 216.5px,#808080 223.5px,#8b8b8b)"></i><i style="background:linear-gradient(#8b8b8b,#828282 208.5px,#848484 216.5px,#7f7f7f 223.5px,#8a8a8a)"></i><i style="background:linear-gradient(#929292,#868686 59.5px,#858585 209.5px,#868686 216.5px,#818181 223.5px,#8c8c8c)"></i><i style="background:linear-gradient(#8e8e8e,#828282 167.5px,#7f7f7f 197.5px,#8b8b8b 215.5px,#848484 223.5px,#8f8f8f)"></i><i style="background:linear-gradient(#8c8c8c,#838383 57.5px,#787878 107.5px,#787878 209.5px,#797979 216.5px,#747474 223.5px,#7f7f7f)"></i><i style="background:linear-gradient(#8f8f8f,#898989 208.5px,#8b8b8b 216.5px,#868686 223.5px,#919191)"></i><i style="background:linear-gradient(#8c8c8c,#818181 206.5px,#868686 215.5px,#7f7f7f 223.5px,#8b8b8b)"></i><i style="background:linear-gradient(#8c8c8c,#858585 208.5px,#878787 216.5px,#828282 223.5px,#8d8d8d)"></i><i style="background:linear-gradient(#8c8c8c,#878787 208.5px,#888 216.5px,#838383 223.5px,#8e8e8e)"></i><i style="background:linear-gradient(#8a8a8a,#838383 65.5px,#7f7f7f 208.5px,#808080 216.5px,#7c7c7c 223.5px,#8a8a8a)"></i><i style="background:linear-gradient(#8b8b8b,#858585 208.5px,#868686 216.5px,#818181 223.5px,#8d8d8d)"></i><i style="background:linear-gradient(#8d8d8d,#838383 130.5px,#818181 208.5px,#828282 216.5px,#7d7d7d 223.5px,#888)"></i><i style="background:linear-gradient(#8a8a8a,#858585 208.5px,#868686 216.5px,#818181 223.5px,#8c8c8c)"></i><i style="background:linear-gradient(#8b8b8b,#868686 208.5px,#878787 216.5px,#828282 223.5px,#8d8d8d)"></i><i style="background:linear-gradient(#8a8a8a,#868686 209.5px,#878787 216.5px,#828282 223.5px,#8d8d8d)"></i><i style="background:linear-gradient(#8b8b8b,#868686 208.5px,#8a8a8a 215.5px,#838383 223.5px,#8e8e8e)"></i><i style="background:linear-gradient(#8a8a8a,#858585 209.5px,#868686 216.5px,#818181 223.5px,#8c8c8c)"></i><i style="background:linear-gradient(#8a8a8a,#868686 209.5px,#878787 216.5px,#828282 223.5px,#8d8d8d)"></i><i style="background:linear-gradient(#8b8b8b,#828282 94.5px,#7c7c7c 204.5px,#878787 215.5px,#828282 223.5px,#8d8d8d)"></i><i style="background:linear-gradient(#8a8a8a,#868686 209.5px,#878787 216.5px,#828282 223.5px,#8d8d8d)"></i><i style="background:linear-gradient(#898989,#818181 208.5px,#838383 216.5px,#7e7e7e 223.5px,#8a8a8a)"></i><i style="background:linear-gradient(#8b8b8b,#878787 209.5px,#888 216.5px,#838383 223.5px,#8e8e8e)"></i><i style="background:linear-gradient(#888,#838383 207.5px,#878787 215.5px,#808080 223.5px,#8b8b8b)"></i><i style="background:linear-gradient(#888,#7d7d7d 155.5px,#7e7e7e 208.5px,#828282 216.5px,#7f7f7f 223.5px,#8b8b8b)"></i><i style="background:linear-gradient(#888,#818181 121.5px,#6a6a6a 143.5px,#6b6b6b 209.5px,#6c6c6c 216.5px,#676767 223.5px,#727272)"></i><i style="background:linear-gradient(#8e8e8e,#868686 207.5px,#8b8b8b 215.5px,#848484 223.5px,#8f8f8f)"></i><i style="background:linear-gradient(#898989,#858585 209.5px,#868686 216.5px,#818181 223.5px,#8c8c8c)"></i><i style="background:linear-gradient(#888,#848484 209.5px,#858585 216.5px,#808080 223.5px,#8b8b8b)"></i><i style="background:linear-gradient(#888,#848484 209.5px,#858585 216.5px,#808080 223.5px,#8b8b8b)"></i><i style="background:linear-gradient(#8b8b8b,#878787 209.5px,#888 216.5px,#838383 223.5px,#8e8e8e)"></i><i style="background:linear-gradient(#888,#7e7e7e 205.5px,#838383 215.5px,#7c7c7c 223.5px,#878787)"></i><i style="background:linear-gradient(#8e8e8e,#818181 204.5px,#878787 215.5px,#808080 223.5px,#8b8b8b)"></i><i style="background:linear-gradient(#8b8b8b,#838383 152.5px,#757575 180.5px,#848484 202.5px,#8a8a8a 215.5px,#838383 223.5px,#8e8e8e)"></i><i style="background:linear-gradient(#8d8d8d,#838383 127.5px,#848484 209.5px,#858585 216.5px,#808080 223.5px,#8b8b8b)"></i><i style="background:linear-gradient(#898989,#858585 209.5px,#868686 216.5px,#818181 223.5px,#8c8c8c)"></i><i style="background:linear-gradient(#8a8a8a,#868686 209.5px,#878787 216.5px,#828282 223.5px,#8d8d8d)"></i><i style="background:linear-gradient(#898989,#818181 208.5px,#838383 216.5px,#7f7f7f 223.5px,#8c8c8c)"></i><i style="background:linear-gradient(#8a8a8a,#848484 111.5px,#656565 117.5px,#636363 208.5px,#838383 216.5px,#838383 225.5px,#8d8d8d)"></i><i style="background:linear-gradient(#8c8c8c,#888 209.5px,#898989 216.5px,#848484 223.5px,#8f8f8f)"></i><i style="background:linear-gradient(#898989,#858585 209.5px,#868686 216.5px,#818181 223.5px,#8c8c8c)"></i><i style="background:linear-gradient(#888,#818181 209.5px,#818181 216.5px,#7e7e7e 223.5px,#8b8b8b)"></i><i style="background:linear-gradient(#878787,#818181 76.5px,#696969 107.5px,#6a6a6a 209.5px,#6b6b6b 216.5px,#696969 222.5px,#838383)"></i><i style="background:linear-gradient(#8a8a8a,#868686 209.5px,#878787 216.5px,#828282 223.5px,#8d8d8d)"></i><i style="background:linear-gradient(#898989,#858585 209.5px,#868686 216.5px,#818181 223.5px,#8c8c8c)"></i><i style="background:linear-gradient(#8a8a8a,#868686 209.5px,#878787 216.5px,#828282 223.5px,#8d8d8d)"></i><i style="background:linear-gradient(#898989,#828282 208.5px,#838383 216.5px,#7e7e7e 223.5px,#898989)"></i><i style="background:linear-gradient(#898989,#818181 111.5px,#7b7b7b 152.5px,#7f7f7f 189.5px,#888 215.5px,#818181 223.5px,#8c8c8c)"></i><i style="background:linear-gradient(#898989,#7f7f7f 169.5px,#7b7b7b 208.5px,#7d7d7d 216.5px,#787878 223.5px,#838383)"></i><i style="background:linear-gradient(#898989,#808080 192.5px,#888 215.5px,#818181 223.5px,#8c8c8c)"></i><i style="background:linear-gradient(#8a8a8a,#868686 209.5px,#878787 216.5px,#828282 223.5px,#8d8d8d)"></i><i style="background:linear-gradient(#898989,#858585 209.5px,#868686 216.5px,#818181 223.5px,#8c8c8c)"></i><i style="background:linear-gradient(#8f8f8f,#868686 90.5px,#868686 209.5px,#878787 216.5px,#828282 223.5px,#8d8d8d)"></i><i style="background:linear-gradient(#8d8d8d,#838383 163.5px,#818181 208.5px,#838383 216.5px,#818181 223.5px,#8f8f8f)"></i><i style="background:linear-gradient(#8b8b8b,#878787 209.5px,#888 216.5px,#838383 223.5px,#8e8e8e)"></i><i style="background:linear-gradient(#878787,#818181 208.5px,#838383 216.5px,#7e7e7e 223.5px,#8a8a8a)"></i><i style="background:linear-gradient(#919191,#898989 86.5px,#898989 209.5px,#8a8a8a 216.5px,#858585 223.5px,#909090)"></i><i style="background:linear-gradient(#8b8b8b,#858585 207.5px,#8a8a8a 215.5px,#838383 223.5px,#8e8e8e)"></i><i style="background:linear-gradient(#888,#838383 45.5px,#7c7c7c 207.5px,#818181 215.5px,#7a7a7a 223.5px,#858585)"></i><i style="background:linear-gradient(#8b8b8b,#878787 209.5px,#888 216.5px,#838383 223.5px,#8e8e8e)"></i><i style="background:linear-gradient(#8a8a8a,#868686 209.5px,#878787 216.5px,#828282 223.5px,#8d8d8d)"></i><i style="background:linear-gradient(#898989,#858585 209.5px,#868686 216.5px,#818181 223.5px,#8c8c8c)"></i><i style="background:linear-gradient(#898989,#808080 129.5px,#797979 189.5px,#7b7b7b 209.5px,#7c7c7c 216.5px,#777 223.5px,#868686)"></i><i style="background:linear-gradient(#888,#848484 209.5px,#858585 216.5px,#808080 223.5px,#8b8b8b)"></i><i style="background:linear-gradient(#8a8a8a,#868686 209.5px,#878787 216.5px,#828282 223.5px,#8d8d8d)"></i><i style="background:linear-gradient(#8c8c8c,#878787 38.5px,#7d7d7d 58.5px,#7c7c7c 180.5px,#858585 201.5px,#8b8b8b 215.5px,#848484 223.5px,#8f8f8f)"></i><i style="background:linear-gradient(#898989,#838383 208.5px,#858585 216.5px,#808080 223.5px,#8c8c8c)"></i><i style="background:linear-gradient(#8b8b8b,#878787 209.5px,#888 216.5px,#838383 223.5px,#8e8e8e)"></i><i style="background:linear-gradient(#8d8d8d,#898989 209.5px,#8a8a8a 216.5px,#858585 223.5px,#909090)"></i><i style="background:linear-gradient(#888,#808080 136.5px,#717171 180.5px,#777 197.5px,#878787 214.5px,#808080 223.5px,#8b8b8b)"></i><i style="background:linear-gradient(#8a8a8a,#818181 177.5px,#828282 209.5px,#838383 216.5px,#7e7e7e 223.5px,#898989)"></i><i style="background:linear-gradient(#8a8a8a,#868686 209.5px,#878787 216.5px,#828282 223.5px,#8d8d8d)"></i><i style="background:linear-gradient(#888,#7f7f7f 173.5px,#818181 205.5px,#878787 215.5px,#808080 223.5px,#8b8b8b)"></i><i style="background:linear-gradient(#888,#7e7e7e 206.5px,#838383 215.5px,#7c7c7c 223.5px,#878787)"></i><i style="background:linear-gradient(#8a8a8a,#868686 209.5px,#878787 216.5px,#828282 223.5px,#8d8d8d)"></i><i style="background:linear-gradient(#8b8b8b,#878787 209.5px,#888 216.5px,#838383 223.5px,#8e8e8e)"></i><i style="background:linear-gradient(#8c8c8c,#838383 206.5px,#888 215.5px,#818181 223.5px,#8c8c8c)"></i><i style="background:linear-gradient(#8a8a8a,#858585 61.5px,#6d6d6d 84.5px,#6d6d6d 182.5px,#838383 201.5px,#898989 215.5px,#828282 223.5px,#8d8d8d)"></i><i style="background:linear-gradient(#8b8b8b,#878787 209.5px,#888 216.5px,#838383 223.5px,#8e8e8e)"></i><i style="background:linear-gradient(#8a8a8a,#868686 209.5px,#878787 216.5px,#828282 223.5px,#8d8d8d)"></i><i style="background:linear-gradient(#8b8b8b,#838383 152.5px,#7c7c7c 187.5px,#7f7f7f 209.5px,#808080 216.5px,#7c7c7c 223.5px,#8c8c8c)"></i><i style="background:linear-gradient(#8b8b8b,#878787 209.5px,#888 216.5px,#838383 223.5px,#8e8e8e)"></i><i style="background:linear-gradient(#8b8b8b,#828282 139.5px,#787878 193.5px,#848484 209.5px,#8a8a8a 215.5px,#838383 223.5px,#8e8e8e)"></i><i style="background:linear-gradient(#8d8d8d,#858585 202.5px,#8c8c8c 215.5px,#858585 223.5px,#909090)"></i><i style="background:linear-gradient(#8b8b8b,#838383 140.5px,#787878 157.5px,#7a7a7a 209.5px,#7b7b7b 216.5px,#767676 223.5px,#818181)"></i><i style="background:linear-gradient(#8a8a8a,#868686 209.5px,#878787 216.5px,#828282 223.5px,#8d8d8d)"></i><i style="background:linear-gradient(#8b8b8b,#868686 207.5px,#8a8a8a 215.5px,#838383 223.5px,#8e8e8e)"></i><i style="background:linear-gradient(#898989,#838383 208.5px,#848484 216.5px,#7f7f7f 223.5px,#8a8a8a)"></i><i style="background:linear-gradient(#898989,#858585 209.5px,#868686 216.5px,#818181 223.5px,#8c8c8c)"></i><i style="background:linear-gradient(#8b8b8b,#878787 209.5px,#888 216.5px,#838383 223.5px,#8e8e8e)"></i><i style="background:linear-gradient(#8b8b8b,#868686 44.5px,#808080 63.5px,#7e7e7e 209.5px,#7f7f7f 216.5px,#7a7a7a 223.5px,#868686)"></i><i style="background:linear-gradient(#8c8c8c,#888 209.5px,#898989 216.5px,#848484 223.5px,#8f8f8f)"></i><i style="background:linear-gradient(#8a8a8a,#868686 209.5px,#878787 216.5px,#828282 223.5px,#8d8d8d)"></i><i style="background:linear-gradient(#888,#808080 154.5px,#6f6f6f 168.5px,#717171 209.5px,#727272 216.5px,#6d6d6d 223.5px,#787878)"></i><i style="background:linear-gradient(#8d8d8d,#898989 209.5px,#8a8a8a 216.5px,#858585 223.5px,#909090)"></i><i style="background:linear-gradient(#8c8c8c,#888 209.5px,#898989 216.5px,#848484 223.5px,#8f8f8f)"></i><i style="background:linear-gradient(#888,#848484 209.5px,#858585 216.5px,#808080 223.5px,#8b8b8b)"></i><i style="background:linear-gradient(#8c8c8c,#888 209.5px,#898989 216.5px,#848484 223.5px,#8f8f8f)"></i><i style="background:linear-gradient(#9b9b9b,#878787 68.5px,#868686 209.5px,#878787 216.5px,#828282 223.5px,#8d8d8d)"></i><i style="background:linear-gradient(#878787,#7e7e7e 131.5px,#7d7d7d 208.5px,#818181 216.5px,#7e7e7e 223.5px,#8a8a8a)"></i><i style="background:linear-gradient(#898989,#828282 203.5px,#888 215.5px,#818181 223.5px,#8c8c8c)"></i><i style="background:linear-gradient(#898989,#7f7f7f 187.5px,#848484 208.5px,#888 215.5px,#818181 223.5px,#8c8c8c)"></i><i style="background:linear-gradient(#8d8d8d,#868686 197.5px,#8c8c8c 215.5px,#858585 223.5px,#909090)"></i><i style="background:linear-gradient(#898989,#858585 209.5px,#868686 216.5px,#818181 223.5px,#8c8c8c)"></i><i style="background:linear-gradient(#8a8a8a,#868686 209.5px,#878787 216.5px,#828282 223.5px,#8d8d8d)"></i><i style="background:linear-gradient(#8a8a8a,#868686 209.5px,#878787 216.5px,#828282 223.5px,#8d8d8d)"></i><i style="background:linear-gradient(#898989,#808080 168.5px,#808080 208.5px,#848484 216.5px,#818181 223.5px,#8c8c8c)"></i><i style="background:linear-gradient(#898989,#828282 58.5px,#747474 101.5px,#747474 209.5px,#757575 216.5px,#707070 223.5px,#7b7b7b)"></i><i style="background:linear-gradient(#8a8a8a,#818181 175.5px,#828282 209.5px,#838383 216.5px,#7e7e7e 223.5px,#898989)"></i><i style="background:linear-gradient(#8c8c8c,#818181 177.5px,#828282 209.5px,#838383 216.5px,#7e7e7e 223.5px,#898989)"></i><i style="background:linear-gradient(#8b8b8b,#7f7f7f 204.5px,#858585 215.5px,#7e7e7e 223.5px,#8a8a8a)"></i><i style="background:linear-gradient(#898989,#7f7f7f 204.5px,#878787 215.5px,#818181 223.5px,#8c8c8c)"></i><i style="background:linear-gradient(#898989,#818181 1.5px,#7c7c7c 208.5px,#7d7d7d 216.5px,#787878 223.5px,#828282 231.5px,#8b8b8b)"></i><i style="background:linear-gradient(#8a8a8a,#898989 31.5px,#a5a5a5 33.5px,#a4a4a4 43.5px,#888 46.5px,#868686 209.5px,#878787 216.5px,#828282 223.5px,#8d8d8d)"></i><i style="background:linear-gradient(#898989,#828282 52.5px,#7e7e7e 208.5px,#828282 216.5px,#808080 223.5px,#8c8c8c)"></i><i style="background:linear-gradient(#898989,#848484 208.5px,#868686 216.5px,#818181 223.5px,#8c8c8c)"></i><i style="background:linear-gradient(#969696,#8f8f8f 74.5px,#838383 120.5px,#838383 209.5px,#848484 216.5px,#7f7f7f 223.5px,#8a8a8a)"></i><i style="background:linear-gradient(#8d8d8d,#848484 205.5px,#8c8c8c 215.5px,#858585 223.5px,#909090)"></i><i style="background:linear-gradient(#8b8b8b,#858585 83.5px,#7f7f7f 110.5px,#7f7f7f 209.5px,#808080 216.5px,#7b7b7b 223.5px,#868686)"></i><i style="background:linear-gradient(#888,#7f7f7f 157.5px,#797979 206.5px,#7e7e7e 215.5px,#777 223.5px,#838383)"></i><i style="background:linear-gradient(#8b8b8b,#878787 209.5px,#888 216.5px,#838383 223.5px,#8e8e8e)"></i><i style="background:linear-gradient(#8c8c8c,#888 209.5px,#898989 216.5px,#848484 223.5px,#8f8f8f)"></i><i style="background:linear-gradient(#888,#828282 208.5px,#838383 216.5px,#7e7e7e 223.5px,#898989)"></i><i style="background:linear-gradient(#898989,#808080 162.5px,#7f7f7f 207.5px,#868686 215.5px,#818181 223.5px,#8c8c8c)"></i><i style="background:linear-gradient(#898989,#858585 209.5px,#868686 216.5px,#818181 223.5px,#8c8c8c)"></i><i style="background:linear-gradient(#8b8b8b,#868686 56.5px,#747474 76.5px,#737373 209.5px,#747474 216.5px,#6f6f6f 223.5px,#7a7a7a)"></i><i style="background:linear-gradient(#8a8a8a,#828282 206.5px,#888 215.5px,#828282 223.5px,#8d8d8d)"></i><i style="background:linear-gradient(#8a8a8a,#868686 209.5px,#878787 216.5px,#828282 223.5px,#8d8d8d)"></i><i style="background:linear-gradient(#8a8a8a,#868686 209.5px,#878787 216.5px,#828282 223.5px,#8d8d8d)"></i><i style="background:linear-gradient(#8e8e8e,#888 208.5px,#8a8a8a 216.5px,#858585 223.5px,#909090)"></i><i style="background:linear-gradient(#8d8d8d,#848484 172.5px,#848484 209.5px,#858585 216.5px,#808080 223.5px,#8c8c8c)"></i><i style="background:linear-gradient(#898989,#979797 1.5px,#929292 8.5px,#898989 15.5px,#858585 209.5px,#868686 216.5px,#818181 223.5px,#8c8c8c)"></i><i style="background:linear-gradient(#898989,#aeaeae 1.5px,#adadad 11.5px,#898989 19.5px,#7f7f7f 153.5px,#808080 209.5px,#818181 216.5px,#7c7c7c 223.5px,#878787)"></i><i style="background:linear-gradient(#8e8e8e,#c2c2c2 1.5px,#c0c0c0 15.5px,#8f8f8f 23.5px,#8a8a8a 208.5px,#8b8b8b 216.5px,#868686 223.5px,#919191)"></i><i style="background:linear-gradient(#888,#b0b0b0 1.5px,#afafaf 13.5px,#898989 21.5px,#7e7e7e 95.5px,#797979 206.5px,#7e7e7e 215.5px,#777 223.5px,#828282)"></i><i style="background:linear-gradient(#898989,#9f9f9f 1.5px,#9c9c9c 10.5px,#888 18.5px,#828282 100.5px,#717171 126.5px,#727272 209.5px,#737373 216.5px,#6e6e6e 223.5px,#797979)"></i><i style="background:linear-gradient(#8a8a8a,#c8c8c8 1.5px,#c6c6c6 17.5px,#8b8b8b 25.5px,#828282 140.5px,#777 157.5px,#787878 209.5px,#797979 216.5px,#747474 223.5px,#7f7f7f)"></i><i style="background:linear-gradient(#8b8b8b,#e5e5e5 1.5px,#e1e1e1 21.5px,#c4c4c4 24.5px,#939393 28.5px,#8a8a8a 30.5px,#828282 113.5px,#808080 207.5px,#878787 215.5px,#828282 223.5px,#8e8e8e)"></i><i style="background:linear-gradient(#8c8c8c,#b4b4b4 1.5px,#b2b2b2 15.5px,#8c8c8c 23.5px,#878787 208.5px,#898989 216.5px,#848484 223.5px,#8f8f8f)"></i><i style="background:linear-gradient(#8b8b8b,#979797 1.5px,#909090 9.5px,#8a8a8a 18.5px,#868686 209.5px,#878787 216.5px,#828282 223.5px,#8e8e8e)"></i><i style="background:linear-gradient(#898989,#808080 134.5px,#787878 184.5px,#7c7c7c 216.5px,#777 223.5px,#828282)"></i><i style="background:linear-gradient(#8b8b8b,#848484 208.5px,#868686 216.5px,#818181 223.5px,#8d8d8d)"></i><i style="background:linear-gradient(#8a8a8a,#868686 209.5px,#878787 216.5px,#828282 223.5px,#8d8d8d)"></i><i style="background:linear-gradient(#8d8d8d,#cbcbcb 1.5px,#c9c9c9 11.5px,#8e8e8e 19.5px,#828282 189.5px,#828282 208.5px,#868686 216.5px,#858585 224.5px,#909090)"></i><i style="background:linear-gradient(#8a8a8a,#a3a3a3 1.5px,#a0a0a0 8.5px,#8a8a8a 15.5px,#868686 209.5px,#878787 216.5px,#828282 223.5px,#8d8d8d)"></i><i style="background:linear-gradient(#888,#848484 209.5px,#858585 216.5px,#808080 223.5px,#8b8b8b)"></i><i style="background:linear-gradient(#888,#808080 207.5px,#858585 215.5px,#808080 223.5px,#8b8b8b)"></i><i style="background:linear-gradient(#8c8c8c,#888 209.5px,#898989 216.5px,#848484 223.5px,#8f8f8f)"></i><i style="background:linear-gradient(#898989,#818181 118.5px,#7d7d7d 176.5px,#888 215.5px,#818181 223.5px,#8c8c8c)"></i><i style="background:linear-gradient(#878787,#838383 209.5px,#848484 216.5px,#7f7f7f 223.5px,#8a8a8a)"></i><i style="background:linear-gradient(#898989,#858585 209.5px,#868686 216.5px,#818181 223.5px,#8c8c8c)"></i><i style="background:linear-gradient(#8a8a8a,#868686 209.5px,#878787 216.5px,#828282 223.5px,#8d8d8d)"></i><i style="background:linear-gradient(#8d8d8d,#878787 208.5px,#898989 216.5px,#848484 223.5px,#8f8f8f)"></i><i style="background:linear-gradient(#888,#848484 209.5px,#858585 216.5px,#808080 223.5px,#8b8b8b)"></i><i style="background:linear-gradient(#8b8b8b,#878787 209.5px,#888 216.5px,#838383 223.5px,#8e8e8e)"></i><i style="background:linear-gradient(#9a9a9a,#919191 45.5px,#888 90.5px,#878787 209.5px,#888 216.5px,#838383 223.5px,#8e8e8e)"></i><i style="background:linear-gradient(#898989,#858585 209.5px,#868686 216.5px,#818181 223.5px,#8c8c8c)"></i><i style="background:linear-gradient(#8a8a8a,#868686 209.5px,#878787 216.5px,#828282 223.5px,#8d8d8d)"></i><i style="background:linear-gradient(#8d8d8d,#898989 209.5px,#8a8a8a 216.5px,#858585 223.5px,#909090)"></i><i style="background:linear-gradient(#8d8d8d,#898989 209.5px,#8a8a8a 216.5px,#858585 223.5px,#909090)"></i><i style="background:linear-gradient(#8b8b8b,#878787 209.5px,#888 216.5px,#838383 223.5px,#8e8e8e)"></i><i style="background:linear-gradient(#8b8b8b,#878787 209.5px,#888 216.5px,#838383 223.5px,#8e8e8e)"></i><i style="background:linear-gradient(#8c8c8c,#838383 124.5px,#828282 209.5px,#838383 216.5px,#7e7e7e 223.5px,#898989)"></i><i style="background:linear-gradient(#8a8a8a,#868686 209.5px,#878787 216.5px,#828282 223.5px,#8d8d8d)"></i><i style="background:linear-gradient(#8a8a8a,#838383 97.5px,#7a7a7a 120.5px,#7b7b7b 189.5px,#898989 215.5px,#828282 223.5px,#8d8d8d)"></i><i style="background:linear-gradient(#898989,#858585 209.5px,#868686 216.5px,#818181 223.5px,#8c8c8c)"></i><i style="background:linear-gradient(#8a8a8a,#868686 209.5px,#878787 216.5px,#828282 223.5px,#8d8d8d)"></i><i style="background:linear-gradient(#8a8a8a,#868686 209.5px,#878787 216.5px,#828282 223.5px,#8d8d8d)"></i><i style="background:linear-gradient(#8e8e8e,#868686 131.5px,#757575 176.5px,#787878 199.5px,#8d8d8d 215.5px,#868686 223.5px,#919191)"></i><i style="background:linear-gradient(#8a8a8a,#868686 209.5px,#878787 216.5px,#828282 223.5px,#8d8d8d)"></i><i style="background:linear-gradient(#8c8c8c,#888 209.5px,#898989 216.5px,#848484 223.5px,#8f8f8f)"></i><i style="background:linear-gradient(#8c8c8c,#858585 208.5px,#878787 216.5px,#838383 223.5px,#8f8f8f)"></i><i style="background:linear-gradient(#8a8a8a,#868686 209.5px,#878787 216.5px,#828282 223.5px,#8d8d8d)"></i><i style="background:linear-gradient(#8c8c8c,#838383 156.5px,#7a7a7a 189.5px,#7d7d7d 209.5px,#7e7e7e 216.5px,#797979 223.5px,#848484)"></i><i style="background:linear-gradient(#878787,#838383 75.5px,#6b6b6b 78.5px,#6d6d6d 99.5px,#828282 103.5px,#808080 205.5px,#868686 215.5px,#7f7f7f 223.5px,#8a8a8a)"></i><i style="background:linear-gradient(#8a8a8a,#828282 149.5px,#7a7a7a 169.5px,#7e7e7e 193.5px,#898989 215.5px,#828282 223.5px,#8d8d8d)"></i><i style="background:linear-gradient(#8b8b8b,#828282 153.5px,#838383 209.5px,#848484 216.5px,#7f7f7f 223.5px,#8a8a8a)"></i><i style="background:linear-gradient(#868686,#7f7f7f 208.5px,#838383 215.5px,#7d7d7d 223.5px,#898989)"></i><i style="background:linear-gradient(#888,#828282 206.5px,#878787 215.5px,#808080 223.5px,#8b8b8b)"></i><i style="background:linear-gradient(#8c8c8c,#878787 208.5px,#8c8c8c 214.5px,#848484 223.5px,#8f8f8f)"></i><i style="background:linear-gradient(#8a8a8a,#858585 208.5px,#8a8a8a 214.5px,#828282 223.5px,#8d8d8d)"></i><i style="background:linear-gradient(#8e8e8e,#838383 131.5px,#848484 209.5px,#8b8b8b 213.5px,#808080 222.5px,#8b8b8b)"></i><i style="background:linear-gradient(#898989,#818181 119.5px,#6b6b6b 128.5px,#6c6c6c 208.5px,#858585 214.5px,#828282 224.5px,#8c8c8c)"></i><i style="background:linear-gradient(#898989,#858585 208.5px,#8d8d8d 213.5px,#808080 221.5px,#8c8c8c)"></i><i style="background:linear-gradient(#8b8b8b,#878787 208.5px,#909090 213.5px,#828282 221.5px,#8e8e8e)"></i><i style="background:linear-gradient(#8b8b8b,#848484 50.5px,#7a7a7a 91.5px,#7a7a7a 194.5px,#898989 210.5px,#909090 213.5px,#838383 220.5px,#888 227.5px,#8e8e8e)"></i><i style="background:linear-gradient(#979797,#8f8f8f 54.5px,#858585 102.5px,#868686 209.5px,#8f8f8f 213.5px,#828282 220.5px,#878787 227.5px,#8d8d8d)"></i><i style="background:linear-gradient(#898989,#848484 208.5px,#8f8f8f 213.5px,#828282 219.5px,#868686 227.5px,#8c8c8c)"></i><i style="background:linear-gradient(#8a8a8a,#858585 208.5px,#919191 213.5px,#838383 219.5px,#858585 226.5px,#8d8d8d)"></i><i style="background:linear-gradient(#8c8c8c,#878787 208.5px,#939393 213.5px,#868686 218.5px,#858585 225.5px,#8f8f8f)"></i><i style="background:linear-gradient(#8b8b8b,#868686 208.5px,#939393 213.5px,#858585 218.5px,#848484 225.5px,#8e8e8e)"></i><i style="background:linear-gradient(#8b8b8b,#868686 208.5px,#949494 213.5px,#858585 218.5px,#848484 225.5px,#8e8e8e)"></i><i style="background:linear-gradient(#8a8a8a,#848484 61.5px,#686868 96.5px,#676767 208.5px,#757575 213.5px,#666 218.5px,#656565 225.5px,#6f6f6f)"></i><i style="background:linear-gradient(#8b8b8b,#828282 206.5px,#878787 210.5px,#919191 212.5px,#818181 219.5px,#838383 226.5px,#8b8b8b)"></i><i style="background:linear-gradient(#898989,#848484 208.5px,#929292 213.5px,#838383 218.5px,#828282 225.5px,#8c8c8c)"></i><i style="background:linear-gradient(#8b8b8b,#838383 122.5px,#7b7b7b 146.5px,#7c7c7c 209.5px,#898989 212.5px,#797979 219.5px,#7b7b7b 226.5px,#848484)"></i><i style="background:linear-gradient(#8a8a8a,#868686 208.5px,#939393 213.5px,#848484 218.5px,#838383 225.5px,#8d8d8d)"></i><i style="background:linear-gradient(#898989,#828282 105.5px,#666 136.5px,#676767 179.5px,#828282 198.5px,#878787 210.5px,#929292 212.5px,#828282 219.5px,#848484 226.5px,#8c8c8c)"></i><i style="background:linear-gradient(#878787,#838383 208.5px,#909090 213.5px,#818181 218.5px,#808080 225.5px,#8a8a8a)"></i><i style="background:linear-gradient(#8a8a8a,#868686 208.5px,#939393 213.5px,#848484 218.5px,#838383 225.5px,#8d8d8d)"></i><i style="background:linear-gradient(#8b8b8b,#858585 208.5px,#939393 213.5px,#838383 218.5px,#828282 225.5px,#8c8c8c)"></i><i style="background:linear-gradient(#898989,#838383 208.5px,#909090 213.5px,#818181 218.5px,#808080 225.5px,#8a8a8a)"></i><i style="background:linear-gradient(#898989,#858585 208.5px,#939393 213.5px,#838383 218.5px,#828282 225.5px,#8c8c8c)"></i><i style="background:linear-gradient(#8a8a8a,#848484 52.5px,#7a7a7a 88.5px,#797979 199.5px,#878787 210.5px,#929292 212.5px,#828282 220.5px,#878787 227.5px,#8d8d8d)"></i><i style="background:linear-gradient(#8a8a8a,#868686 208.5px,#949494 213.5px,#848484 218.5px,#838383 225.5px,#8d8d8d)"></i><i style="background:linear-gradient(#8c8c8c,#878787 208.5px,#949494 213.5px,#858585 218.5px,#848484 225.5px,#8e8e8e)"></i><i style="background:linear-gradient(#8b8b8b,#848484 98.5px,#7e7e7e 152.5px,#808080 209.5px,#8d8d8d 212.5px,#7f7f7f 219.5px,#848484 226.5px,#8e8e8e)"></i><i style="background:linear-gradient(#8c8c8c,#888 208.5px,#959595 213.5px,#868686 218.5px,#858585 225.5px,#8f8f8f)"></i><i style="background:linear-gradient(#909090,#848484 204.5px,#8a8a8a 210.5px,#949494 212.5px,#848484 219.5px,#868686 226.5px,#8e8e8e)"></i><i style="background:linear-gradient(#898989,#848484 208.5px,#919191 213.5px,#828282 218.5px,#818181 225.5px,#8b8b8b)"></i><i style="background:linear-gradient(#8a8a8a,#858585 208.5px,#939393 213.5px,#848484 218.5px,#838383 225.5px,#8d8d8d)"></i><i style="background:linear-gradient(#8b8b8b,#868686 111.5px,#727272 118.5px,#707070 189.5px,#838383 196.5px,#868686 209.5px,#939393 212.5px,#838383 219.5px,#858585 226.5px,#8e8e8e)"></i><i style="background:linear-gradient(#8a8a8a,#858585 208.5px,#939393 213.5px,#848484 218.5px,#838383 225.5px,#8d8d8d)"></i><i style="background:linear-gradient(#8b8b8b,#838383 117.5px,#727272 167.5px,#747474 209.5px,#818181 212.5px,#717171 219.5px,#737373 226.5px,#7b7b7b)"></i><i style="background:linear-gradient(#8c8c8c,#878787 208.5px,#959595 213.5px,#868686 218.5px,#858585 225.5px,#8f8f8f)"></i><i style="background:linear-gradient(#898989,#818181 144.5px,#727272 148.5px,#747474 199.5px,#828282 203.5px,#878787 210.5px,#929292 212.5px,#828282 219.5px,#848484 226.5px,#8c8c8c)"></i><i style="background:linear-gradient(#878787,#818181 206.5px,#868686 210.5px,#909090 212.5px,#808080 219.5px,#828282 226.5px,#8a8a8a)"></i><i style="background:linear-gradient(#8c8c8c,#878787 208.5px,#959595 213.5px,#868686 218.5px,#858585 225.5px,#8f8f8f)"></i><i style="background:linear-gradient(#8a8a8a,#858585 208.5px,#939393 213.5px,#848484 218.5px,#838383 225.5px,#8d8d8d)"></i><i style="background:linear-gradient(#8b8b8b,#878787 208.5px,#949494 213.5px,#858585 218.5px,#848484 225.5px,#8e8e8e)"></i><i style="background:linear-gradient(#888,#838383 208.5px,#919191 213.5px,#828282 218.5px,#818181 225.5px,#8b8b8b)"></i><i style="background:linear-gradient(#8d8d8d,#838383 134.5px,#838383 208.5px,#919191 213.5px,#828282 218.5px,#818181 225.5px,#8b8b8b)"></i><i style="background:linear-gradient(#8b8b8b,#808080 204.5px,#868686 210.5px,#919191 212.5px,#818181 219.5px,#858585 226.5px,#8e8e8e)"></i><i style="background:linear-gradient(#8a8a8a,#858585 208.5px,#939393 213.5px,#848484 218.5px,#838383 225.5px,#8d8d8d)"></i><i style="background:linear-gradient(#898989,#858585 208.5px,#939393 213.5px,#838383 218.5px,#828282 225.5px,#8c8c8c)"></i><i style="background:linear-gradient(#8a8a8a,#868686 208.5px,#939393 213.5px,#848484 218.5px,#838383 225.5px,#8d8d8d)"></i><i style="background:linear-gradient(#8a8a8a,#858585 208.5px,#939393 213.5px,#848484 218.5px,#838383 225.5px,#8d8d8d)"></i><i style="background:linear-gradient(#8a8a8a,#858585 208.5px,#939393 213.5px,#848484 218.5px,#838383 225.5px,#8d8d8d)"></i><i style="background:linear-gradient(#888,#848484 208.5px,#919191 213.5px,#828282 218.5px,#818181 225.5px,#8b8b8b)"></i><i style="background:linear-gradient(#8c8c8c,#7e7e7e 105.5px,#696969 130.5px,#6a6a6a 207.5px,#717171 210.5px,#7d7d7d 212.5px,#777 219.5px,#898989)"></i><i style="background:linear-gradient(#979797,#8c8c8c 37.5px,#6a6a6a 83.5px,#676767 208.5px,#757575 213.5px,#666 218.5px,#656565 225.5px,#6f6f6f)"></i><i style="background:linear-gradient(#919191,#898989 1.5px,#7c7c7c 39.5px,#666 75.5px,#646464 208.5px,#717171 213.5px,#626262 218.5px,#616161 225.5px,#6b6b6b)"></i><i style="background:linear-gradient(#8a8a8a,#515151 1.5px,#505050 5.5px,#696969 6.5px,#686868 11.5px,#4f4f4f 12.5px,#4e4e4e 17.5px,#676767 18.5px,#666 19.5px,#4d4d4d 20.5px,#4c4c4c 26.5px,#656565 27.5px,#5d5d5d 43.5px,#434343 44.5px,#414141 47.5px,#5a5a5a 48.5px,#494949 90.5px,#686868 107.5px,#686868 208.5px,#757575 213.5px,#656565 218.5px,#656565 225.5px,#6f6f6f)"></i><i style="background:linear-gradient(#868686,#797979 43.5px,#666 93.5px,#656565 208.5px,#737373 213.5px,#626262 218.5px,#636363 225.5px,#6d6d6d)"></i><i style="background:linear-gradient(#8b8b8b,#7e7e7e 50.5px,#717171 102.5px,#707070 208.5px,#7e7e7e 213.5px,#6c6c6c 218.5px,#6e6e6e 225.5px,#787878)"></i><i style="background:linear-gradient(#898989,#797979 116.5px,#797979 208.5px,#878787 213.5px,#747474 218.5px,#767676 224.5px,#818181)"></i><i style="background:linear-gradient(#8a8a8a,#7d7d7d 167.5px,#818181 209.5px,#8e8e8e 212.5px,#888 214.5px,#787878 219.5px,#888)"></i><i style="background:linear-gradient(#8a8a8a,#7e7e7e 1.5px,#424242 2.5px,#424242 6.5px,#7e7e7e 7.5px,#7e7e7e 12.5px,#424242 13.5px,#414141 16.5px,#7d7d7d 17.5px,#7d7d7d 24.5px,#414141 25.5px,#414141 28.5px,#7d7d7d 29.5px,#7d7d7d 49.5px,#888 53.5px,#828282 208.5px,#909090 213.5px,#797979 219.5px,#8b8b8b)"></i><i style="background:linear-gradient(#9a9a9a,#949494 64.5px,#848484 108.5px,#848484 208.5px,#919191 213.5px,#7a7a7a 219.5px,#8b8b8b)"></i><i style="background:linear-gradient(#8b8b8b,#878787 208.5px,#949494 213.5px,#7b7b7b 219.5px,#8e8e8e)"></i><i style="background:linear-gradient(#898989,#888 31.5px,#747474 33.5px,#767676 49.5px,#878787 52.5px,#848484 208.5px,#929292 213.5px,#797979 219.5px,#8c8c8c)"></i><i style="background:linear-gradient(#898989,#848484 208.5px,#929292 213.5px,#797979 219.5px,#8c8c8c)"></i><i style="background:linear-gradient(#898989,#828282 108.5px,#797979 122.5px,#797979 208.5px,#878787 213.5px,#6e6e6e 219.5px,#818181)"></i><i style="background:linear-gradient(#8a8a8a,#868686 208.5px,#939393 213.5px,#7a7a7a 219.5px,#8d8d8d)"></i><i style="background:linear-gradient(#8b8b8b,#878787 208.5px,#949494 213.5px,#7b7b7b 219.5px,#8e8e8e)"></i><i style="background:linear-gradient(#898989,#838383 206.5px,#888 210.5px,#929292 212.5px,#8d8d8d 214.5px,#797979 219.5px,#8c8c8c)"></i><i style="background:linear-gradient(#888,#7c7c7c 204.5px,#828282 210.5px,#8c8c8c 212.5px,#878787 214.5px,#737373 219.5px,#868686)"></i><i style="background:linear-gradient(#8c8c8c,#878787 208.5px,#959595 213.5px,#7c7c7c 219.5px,#8f8f8f)"></i><i style="background:linear-gradient(#888,#848484 208.5px,#919191 213.5px,#787878 219.5px,#8b8b8b)"></i><i style="background:linear-gradient(#8c8c8c,#878787 208.5px,#959595 213.5px,#7c7c7c 219.5px,#8f8f8f)"></i><i style="background:linear-gradient(#8a8a8a,#858585 208.5px,#939393 213.5px,#7a7a7a 219.5px,#8d8d8d)"></i><i style="background:linear-gradient(#8a8a8a,#828282 108.5px,#616161 112.5px,#5e5e5e 152.5px,#828282 160.5px,#858585 209.5px,#929292 212.5px,#8d8d8d 214.5px,#797979 219.5px,#8c8c8c)"></i><i style="background:linear-gradient(#898989,#848484 208.5px,#929292 213.5px,#797979 219.5px,#8c8c8c)"></i><i style="background:linear-gradient(#8b8b8b,#868686 208.5px,#949494 213.5px,#7b7b7b 219.5px,#8e8e8e)"></i><i style="background:linear-gradient(#8b8b8b,#868686 206.5px,#8a8a8a 210.5px,#949494 212.5px,#8f8f8f 214.5px,#7b7b7b 219.5px,#8e8e8e)"></i><i style="background:linear-gradient(#8a8a8a,#838383 88.5px,#747474 120.5px,#747474 208.5px,#818181 213.5px,#686868 219.5px,#818181)"></i><i style="background:linear-gradient(#979797,#8f8f8f 69.5px,#878787 121.5px,#878787 208.5px,#959595 213.5px,#7c7c7c 219.5px,#8f8f8f)"></i><i style="background:linear-gradient(#8f8f8f,#898989 208.5px,#969696 213.5px,#7d7d7d 219.5px,#909090)"></i><i style="background:linear-gradient(#8a8a8a,#818181 208.5px,#8e8e8e 213.5px,#757575 219.5px,#8a8a8a)"></i><i style="background:linear-gradient(#8c8c8c,#818181 204.5px,#878787 210.5px,#919191 212.5px,#8c8c8c 214.5px,#787878 219.5px,#8b8b8b)"></i><i style="background:linear-gradient(#888,#818181 208.5px,#8f8f8f 213.5px,#777 219.5px,#8b8b8b)"></i><i style="background:linear-gradient(#888,#828282 208.5px,#8f8f8f 213.5px,#767676 219.5px,#898989)"></i><i style="background:linear-gradient(#898989,#818181 95.5px,#7a7a7a 165.5px,#7f7f7f 193.5px,#888 210.5px,#929292 212.5px,#8d8d8d 214.5px,#797979 219.5px,#8c8c8c)"></i><i style="background:linear-gradient(#898989,#848484 208.5px,#929292 213.5px,#797979 219.5px,#8c8c8c)"></i><i style="background:linear-gradient(#888,#838383 208.5px,#919191 213.5px,#787878 219.5px,#8b8b8b)"></i><i style="background:linear-gradient(#8b8b8b,#868686 208.5px,#949494 213.5px,#7b7b7b 219.5px,#8e8e8e)"></i><i style="background:linear-gradient(#868686,#818181 208.5px,#8f8f8f 213.5px,#767676 219.5px,#898989)"></i><i style="background:linear-gradient(#888,#838383 208.5px,#919191 213.5px,#787878 219.5px,#8b8b8b)"></i><i style="background:linear-gradient(#8d8d8d,#888 208.5px,#959595 213.5px,#7c7c7c 219.5px,#909090)"></i><i style="background:linear-gradient(#8c8c8c,#858585 112.5px,#696969 135.5px,#6a6a6a 209.5px,#777 212.5px,#717171 214.5px,#5e5e5e 219.5px,#737373 227.5px,#828282)"></i><i style="background:linear-gradient(#8b8b8b,#848484 67.5px,#808080 208.5px,#8e8e8e 213.5px,#757575 219.5px,#888)"></i><i style="background:linear-gradient(#8b8b8b,#868686 208.5px,#949494 213.5px,#7b7b7b 219.5px,#8e8e8e)"></i><i style="background:linear-gradient(#8d8d8d,#888 208.5px,#969696 213.5px,#7d7d7d 219.5px,#909090)"></i><i style="background:linear-gradient(#8b8b8b,#868686 208.5px,#949494 213.5px,#7b7b7b 219.5px,#8e8e8e)"></i><i style="background:linear-gradient(#8a8a8a,#838383 126.5px,#717171 153.5px,#737373 206.5px,#7b7b7b 210.5px,#888 212.5px,#858585 214.5px,#767676 219.5px,#8c8c8c 231.5px,#8d8d8d)"></i><i style="background:linear-gradient(#888,#838383 208.5px,#919191 213.5px,#787878 219.5px,#8b8b8b)"></i><i style="background:linear-gradient(#8a8a8a,#858585 208.5px,#939393 213.5px,#7a7a7a 219.5px,#8d8d8d)"></i><i style="background:linear-gradient(#898989,#838383 208.5px,#919191 213.5px,#787878 219.5px,#8b8b8b)"></i><i style="background:linear-gradient(#898989,#848484 208.5px,#929292 213.5px,#797979 219.5px,#8c8c8c)"></i><i style="background:linear-gradient(#898989,#848484 208.5px,#929292 213.5px,#797979 219.5px,#8c8c8c)"></i><i style="background:linear-gradient(#8a8a8a,#858585 208.5px,#939393 213.5px,#7a7a7a 219.5px,#8d8d8d)"></i><i style="background:linear-gradient(#898989,#858585 208.5px,#929292 213.5px,#797979 219.5px,#8c8c8c)"></i><i style="background:linear-gradient(#8b8b8b,#868686 208.5px,#949494 213.5px,#7b7b7b 219.5px,#8e8e8e)"></i><i style="background:linear-gradient(#888,#838383 208.5px,#919191 213.5px,#787878 219.5px,#8b8b8b)"></i><i style="background:linear-gradient(#8a8a8a,#828282 124.5px,#757575 149.5px,#777 195.5px,#888 210.5px,#939393 212.5px,#8d8d8d 214.5px,#7a7a7a 219.5px,#8d8d8d)"></i><i style="background:linear-gradient(#8d8d8d,#888 208.5px,#969696 213.5px,#7d7d7d 219.5px,#909090)"></i><i style="background:linear-gradient(#8a8a8a,#848484 79.5px,#6e6e6e 82.5px,#6a6a6a 119.5px,#848484 127.5px,#868686 209.5px,#939393 212.5px,#8e8e8e 214.5px,#7a7a7a 219.5px,#8d8d8d)"></i><i style="background:linear-gradient(#8c8c8c,#868686 88.5px,#7b7b7b 109.5px,#7c7c7c 193.5px,#8b8b8b 210.5px,#959595 212.5px,#909090 214.5px,#7c7c7c 219.5px,#8f8f8f)"></i><i style="background:linear-gradient(#8c8c8c,#838383 109.5px,#818181 189.5px,#888 209.5px,#959595 212.5px,#8f8f8f 214.5px,#7c7c7c 219.5px,#8f8f8f)"></i><i style="background:linear-gradient(#8c8c8c,#838383 184.5px,#7f7f7f 206.5px,#868686 210.5px,#919191 212.5px,#8d8d8d 214.5px,#7c7c7c 219.5px,#8f8f8f)"></i><i style="background:linear-gradient(#8b8b8b,#868686 208.5px,#949494 213.5px,#7b7b7b 219.5px,#8e8e8e)"></i><i style="background:linear-gradient(#888,#838383 208.5px,#909090 213.5px,#777 219.5px,#8b8b8b)"></i><i style="background:linear-gradient(#8a8a8a,#808080 187.5px,#818181 209.5px,#8e8e8e 212.5px,#888 214.5px,#757575 219.5px,#888)"></i><i style="background:linear-gradient(#898989,#858585 208.5px,#929292 213.5px,#797979 219.5px,#8c8c8c)"></i><i style="background:linear-gradient(#888,#838383 208.5px,#919191 213.5px,#787878 219.5px,#8b8b8b)"></i><i style="background:linear-gradient(#898989,#808080 206.5px,#858585 210.5px,#8f8f8f 212.5px,#8a8a8a 214.5px,#767676 219.5px,#898989)"></i><i style="background:linear-gradient(#8c8c8c,#828282 161.5px,#848484 209.5px,#919191 212.5px,#8c8c8c 214.5px,#787878 219.5px,#8b8b8b)"></i><i style="background:linear-gradient(#878787,#838383 208.5px,#909090 213.5px,#777 219.5px,#8a8a8a)"></i><i style="background:linear-gradient(#8a8a8a,#858585 208.5px,#929292 213.5px,#797979 219.5px,#8c8c8c)"></i><i style="background:linear-gradient(#8a8a8a,#858585 208.5px,#939393 213.5px,#7a7a7a 219.5px,#8d8d8d)"></i><i style="background:linear-gradient(#898989,#a7a7a7 1.5px,#a4a4a4 13.5px,#888 25.5px,#808080 154.5px,#7f7f7f 206.5px,#858585 210.5px,#909090 212.5px,#8b8b8b 214.5px,#797979 219.5px,#8c8c8c)"></i><i style="background:linear-gradient(#888,#969696 1.5px,#8e8e8e 13.5px,#878787 26.5px,#828282 209.5px,#8e8e8e 212.5px,#898989 214.5px,#757575 219.5px,#8a8a8a)"></i><i style="background:linear-gradient(#898989,#b1b1b1 1.5px,#adadad 13.5px,#8a8a8a 24.5px,#808080 205.5px,#858585 210.5px,#909090 212.5px,#8a8a8a 214.5px,#777 219.5px,#8c8c8c)"></i><i style="background:linear-gradient(#898989,#d4d4d4 1.5px,#d0d0d0 18.5px,#aeaeae 24.5px,#8b8b8b 30.5px,#878787 58.5px,#828282 102.5px,#717171 131.5px,#737373 183.5px,#838383 202.5px,#888 210.5px,#929292 212.5px,#8d8d8d 214.5px,#797979 219.5px,#8c8c8c)"></i><i style="background:linear-gradient(#8e8e8e,#eaeaea 1.5px,#e5e5e5 20.5px,#d0d0d0 24.5px,#919191 32.5px,#888 35.5px,#858585 208.5px,#929292 213.5px,#797979 219.5px,#8c8c8c)"></i><i style="background:linear-gradient(#8a8a8a,#e6e6e6 1.5px,#e4e4e4 22.5px,#d0d0d0 26.5px,#919191 34.5px,#888 37.5px,#828282 123.5px,#818181 208.5px,#8e8e8e 213.5px,#757575 219.5px,#888)"></i><i style="background:linear-gradient(#898989,#d9d9d9 1.5px,#d7d7d7 23.5px,#c6c6c6 27.5px,#8f8f8f 35.5px,#888 39.5px,#818181 199.5px,#888 210.5px,#929292 212.5px,#8d8d8d 214.5px,#797979 219.5px,#8c8c8c)"></i><i style="background:linear-gradient(#8b8b8b,#c2c2c2 1.5px,#bebebe 22.5px,#8c8c8c 34.5px,#868686 208.5px,#949494 213.5px,#7b7b7b 219.5px,#8e8e8e)"></i><i style="background:linear-gradient(#8b8b8b,#a9a9a9 1.5px,#a5a5a5 17.5px,#8a8a8a 29.5px,#818181 161.5px,#7e7e7e 197.5px,#898989 210.5px,#949494 212.5px,#8e8e8e 214.5px,#7b7b7b 219.5px,#8e8e8e)"></i><i style="background:linear-gradient(#8b8b8b,#999 1.5px,#949494 14.5px,#8a8a8a 26.5px,#818181 51.5px,#636363 68.5px,#5d5d5d 113.5px,#5d5d5d 208.5px,#626262 210.5px,#727272 212.5px,#737373 214.5px,#676767 220.5px,#7a7a7a)"></i><i style="background:linear-gradient(#898989,#838383 81.5px,#797979 90.5px,#787878 191.5px,#818181 200.5px,#878787 210.5px,#919191 212.5px,#8c8c8c 214.5px,#787878 219.5px,#8b8b8b)"></i><i style="background:linear-gradient(#898989,#a7a7a7 1.5px,#a2a2a2 10.5px,#888 21.5px,#828282 105.5px,#7a7a7a 130.5px,#7c7c7c 185.5px,#888 210.5px,#929292 212.5px,#8d8d8d 214.5px,#797979 219.5px,#8c8c8c)"></i><i style="background:linear-gradient(#8b8b8b,#afafaf 1.5px,#ababab 13.5px,#8a8a8a 25.5px,#868686 208.5px,#949494 213.5px,#7b7b7b 219.5px,#8e8e8e)"></i><i style="background:linear-gradient(#8a8a8a,#9c9c9c 1.5px,#949494 11.5px,#898989 21.5px,#858585 208.5px,#939393 213.5px,#7a7a7a 219.5px,#8d8d8d)"></i><i style="background:linear-gradient(#8a8a8a,#9a9a9a 1.5px,#959595 40.5px,#878787 60.5px,#808080 205.5px,#858585 210.5px,#909090 212.5px,#8a8a8a 214.5px,#767676 219.5px,#8a8a8a)"></i><i style="background:linear-gradient(#868686,#808080 208.5px,#8e8e8e 213.5px,#757575 219.5px,#888)"></i><i style="background:linear-gradient(#868686,#919191 1.5px,#8b8b8b 34.5px,#838383 57.5px,#818181 208.5px,#8f8f8f 213.5px,#767676 219.5px,#898989)"></i><i style="background:linear-gradient(#8b8b8b,#868686 208.5px,#949494 213.5px,#7b7b7b 219.5px,#8e8e8e)"></i><i style="background:linear-gradient(#8b8b8b,#9b9b9b 1.5px,#969696 45.5px,#888 64.5px,#868686 208.5px,#949494 213.5px,#7b7b7b 219.5px,#8e8e8e)"></i><i style="background:linear-gradient(#8c8c8c,#888 208.5px,#959595 213.5px,#7c7c7c 219.5px,#8f8f8f)"></i><i style="background:linear-gradient(#8b8b8b,#969696 1.5px,#919191 38.5px,#868686 57.5px,#848484 205.5px,#8a8a8a 210.5px,#949494 212.5px,#8f8f8f 214.5px,#7b7b7b 219.5px,#8e8e8e)"></i><i style="background:linear-gradient(#8a8a8a,#818181 165.5px,#838383 209.5px,#909090 212.5px,#8a8a8a 214.5px,#777 219.5px,#8a8a8a)"></i><i style="background:linear-gradient(#8a8a8a,#999 1.5px,#949494 47.5px,#878787 67.5px,#858585 208.5px,#939393 213.5px,#7a7a7a 219.5px,#8d8d8d)"></i><i style="background:linear-gradient(#888,#838383 207.5px,#868686 210.5px,#919191 212.5px,#8b8b8b 214.5px,#787878 219.5px,#8b8b8b)"></i><i style="background:linear-gradient(#8b8b8b,#878787 208.5px,#949494 213.5px,#7b7b7b 219.5px,#8e8e8e)"></i><i style="background:linear-gradient(#898989,#959595 1.5px,#909090 42.5px,#868686 63.5px,#848484 208.5px,#919191 213.5px,#797979 219.5px,#8c8c8c)"></i><i style="background:linear-gradient(#8b8b8b,#868686 208.5px,#949494 213.5px,#7b7b7b 219.5px,#8e8e8e)"></i><i style="background:linear-gradient(#8a8a8a,#999 1.5px,#949494 50.5px,#878787 70.5px,#868686 208.5px,#939393 213.5px,#7a7a7a 219.5px,#8d8d8d)"></i><i style="background:linear-gradient(#8a8a8a,#868686 208.5px,#939393 213.5px,#7a7a7a 219.5px,#8d8d8d)"></i><i style="background:linear-gradient(#8b8b8b,#878787 208.5px,#949494 213.5px,#7b7b7b 219.5px,#8e8e8e)"></i><i style="background:linear-gradient(#8e8e8e,#9a9a9a 1.5px,#949494 47.5px,#8b8b8b 68.5px,#838383 205.5px,#888 210.5px,#929292 212.5px,#8d8d8d 214.5px,#797979 219.5px,#8c8c8c)"></i><i style="background:linear-gradient(#898989,#858585 208.5px,#929292 213.5px,#797979 219.5px,#8c8c8c)"></i><i style="background:linear-gradient(#919191,#a2a2a2 1.5px,#9c9c9c 42.5px,#898989 62.5px,#848484 208.5px,#929292 213.5px,#797979 219.5px,#8c8c8c)"></i><i style="background:linear-gradient(#898989,#898989 12.5px,#9f9f9f 16.5px,#9d9d9d 37.5px,#888 44.5px,#848484 208.5px,#919191 213.5px,#787878 219.5px,#8b8b8b)"></i><i style="background:linear-gradient(#8d8d8d,#8d8d8d 2.5px,#ababab 4.5px,#a8a8a8 21.5px,#8e8e8e 25.5px,#888 208.5px,#969696 213.5px,#7d7d7d 219.5px,#909090)"></i><i style="background:linear-gradient(#898989,#cfcfcf 1.5px,#cfcfcf 5.5px,#c4c4c4 6.5px,#949494 8.5px,#898989 9.5px,#858585 208.5px,#929292 213.5px,#797979 219.5px,#8c8c8c)"></i><i style="background:linear-gradient(#8c8c8c,#838383 151.5px,#828282 208.5px,#909090 213.5px,#787878 219.5px,#8f8f8f)"></i><i style="background:linear-gradient(#8b8b8b,#868686 63.5px,#767676 79.5px,#6a6a6a 152.5px,#6c6c6c 209.5px,#797979 212.5px,#747474 214.5px,#626262 218.5px,#666 220.5px,#797979 223.5px,#888)"></i><i style="background:linear-gradient(#8b8b8b,#858585 205.5px,#8a8a8a 210.5px,#949494 212.5px,#8f8f8f 214.5px,#7b7b7b 219.5px,#8e8e8e)"></i><i style="background:linear-gradient(#9d9d9d,#898989 59.5px,#878787 208.5px,#949494 213.5px,#7b7b7b 219.5px,#8e8e8e)"></i><i style="background:linear-gradient(#888,#7c7c7c 156.5px,#7d7d7d 208.5px,#8c8c8c 213.5px,#767676 219.5px,#8b8b8b)"></i><i style="background:linear-gradient(#8b8b8b,#868686 208.5px,#939393 213.5px,#7b7b7b 219.5px,#8e8e8e)"></i><i style="background:linear-gradient(#9e9e9e,#989898 69.5px,#888 114.5px,#888 208.5px,#969696 213.5px,#7d7d7d 219.5px,#909090)"></i><i style="background:linear-gradient(#898989,#808080 135.5px,#787878 203.5px,#7d7d7d 210.5px,#888 212.5px,#828282 214.5px,#6f6f6f 219.5px,#828282)"></i><i style="background:linear-gradient(#8a8a8a,#838383 207.5px,#888 210.5px,#929292 212.5px,#8d8d8d 214.5px,#7a7a7a 219.5px,#8d8d8d)"></i><i style="background:linear-gradient(#898989,#848484 208.5px,#919191 213.5px,#787878 219.5px,#8c8c8c)"></i><i style="background:linear-gradient(#8b8b8b,#989898 1.5px,#939393 48.5px,#888 68.5px,#838383 128.5px,#6f6f6f 148.5px,#727272 178.5px,#848484 196.5px,#878787 209.5px,#949494 212.5px,#8e8e8e 214.5px,#7b7b7b 219.5px,#8e8e8e)"></i><i style="background:linear-gradient(#888,#848484 208.5px,#919191 213.5px,#787878 219.5px,#8b8b8b)"></i><i style="background:linear-gradient(#8d8d8d,#878787 208.5px,#949494 213.5px,#7b7b7b 219.5px,#8e8e8e)"></i><i style="background:linear-gradient(#898989,#858585 208.5px,#929292 213.5px,#797979 219.5px,#8c8c8c)"></i><i style="background:linear-gradient(#888,#909090 1.5px,#8f8f8f 14.5px,#868686 19.5px,#7b7b7b 62.5px,#7c7c7c 125.5px,#828282 145.5px,#848484 209.5px,#919191 212.5px,#8b8b8b 214.5px,#787878 219.5px,#8b8b8b)"></i><i style="background:linear-gradient(#8f8f8f,#888 208.5px,#969696 213.5px,#7d7d7d 219.5px,#909090)"></i><i style="background:linear-gradient(#8c8c8c,#878787 208.5px,#959595 213.5px,#7c7c7c 219.5px,#8f8f8f)"></i><i style="background:linear-gradient(#8b8b8b,#868686 208.5px,#949494 213.5px,#7b7b7b 219.5px,#8e8e8e)"></i><i style="background:linear-gradient(#8b8b8b,#939393 1.5px,#8d8d8d 41.5px,#878787 98.5px,#868686 208.5px,#949494 213.5px,#7b7b7b 219.5px,#8e8e8e)"></i><i style="background:linear-gradient(#898989,#858585 208.5px,#929292 213.5px,#797979 219.5px,#8c8c8c)"></i><i style="background:linear-gradient(#8a8a8a,#808080 173.5px,#7a7a7a 196.5px,#7d7d7d 209.5px,#898989 212.5px,#848484 214.5px,#707070 219.5px,#858585)"></i><i style="background:linear-gradient(#8b8b8b,#878787 208.5px,#949494 213.5px,#7b7b7b 219.5px,#8e8e8e)"></i><i style="background:linear-gradient(#8b8b8b,#868686 51.5px,#7d7d7d 78.5px,#7b7b7b 208.5px,#898989 213.5px,#707070 219.5px,#838383)"></i><i style="background:linear-gradient(#8b8b8b,#878787 208.5px,#949494 213.5px,#7b7b7b 219.5px,#8e8e8e)"></i><i style="background:linear-gradient(#8a8a8a,#868686 208.5px,#939393 213.5px,#7a7a7a 219.5px,#8d8d8d)"></i><i style="background:linear-gradient(#898989,#818181 207.5px,#858585 210.5px,#8f8f8f 212.5px,#8a8a8a 214.5px,#767676 219.5px,#898989)"></i><i style="background:linear-gradient(#8a8a8a,#858585 208.5px,#929292 213.5px,#7a7a7a 219.5px,#8d8d8d)"></i><i style="background:linear-gradient(#8c8c8c,#818181 186.5px,#828282 209.5px,#8f8f8f 212.5px,#8a8a8a 214.5px,#797979 219.5px,#8f8f8f)"></i><i style="background:linear-gradient(#8c8c8c,#888 208.5px,#949494 213.5px,#7c7c7c 219.5px,#8f8f8f)"></i><i style="background:linear-gradient(#898989,#858585 208.5px,#919191 213.5px,#797979 219.5px,#8c8c8c)"></i><i style="background:linear-gradient(#898989,#818181 122.5px,#797979 163.5px,#7b7b7b 206.5px,#828282 210.5px,#8c8c8c 213.5px,#787878 219.5px,#8c8c8c)"></i><i style="background:linear-gradient(#8c8c8c,#838383 150.5px,#828282 208.5px,#8d8d8d 213.5px,#777 219.5px,#8e8e8e)"></i><i style="background:linear-gradient(#8b8b8b,#848484 104.5px,#838383 207.5px,#909090 213.5px,#7b7b7b 219.5px,#8e8e8e)"></i><i style="background:linear-gradient(#8b8b8b,#868686 53.5px,#7f7f7f 73.5px,#7d7d7d 204.5px,#868686 210.5px,#8f8f8f 213.5px,#7b7b7b 219.5px,#8e8e8e)"></i><i style="background:linear-gradient(#888,#7e7e7e 195.5px,#838383 209.5px,#8d8d8d 213.5px,#787878 219.5px,#8b8b8b)"></i><i style="background:linear-gradient(#898989,#848484 208.5px,#8e8e8e 213.5px,#797979 219.5px,#8c8c8c)"></i><i style="background:linear-gradient(#898989,#858585 208.5px,#8e8e8e 213.5px,#797979 219.5px,#8c8c8c)"></i><i style="background:linear-gradient(#8a8a8a,#868686 44.5px,#757575 67.5px,#737373 208.5px,#7c7c7c 213.5px,#696969 219.5px,#898989)"></i><i style="background:linear-gradient(#878787,#7f7f7f 134.5px,#797979 187.5px,#7b7b7b 209.5px,#838383 213.5px,#6f6f6f 219.5px,#828282)"></i><i style="background:linear-gradient(#8c8c8c,#878787 208.5px,#8f8f8f 213.5px,#7b7b7b 219.5px,#8e8e8e)"></i><i style="background:linear-gradient(#8a8a8a,#808080 122.5px,#808080 209.5px,#888 213.5px,#747474 219.5px,#898989)"></i><i style="background:linear-gradient(#8b8b8b,#868686 208.5px,#8e8e8e 213.5px,#7b7b7b 219.5px,#8e8e8e)"></i><i style="background:linear-gradient(#888,#828282 208.5px,#8a8a8a 213.5px,#777 219.5px,#8b8b8b)"></i><i style="background:linear-gradient(#939393,#8b8b8b 84.5px,#848484 155.5px,#868686 209.5px,#8d8d8d 213.5px,#7a7a7a 219.5px,#8d8d8d)"></i><i style="background:linear-gradient(#8c8c8c,#818181 197.5px,#898989 210.5px,#8e8e8e 213.5px,#7c7c7c 219.5px,#8f8f8f)"></i><i style="background:linear-gradient(#878787,#808080 104.5px,#767676 144.5px,#777 209.5px,#7d7d7d 213.5px,#6b6b6b 219.5px,#7e7e7e)"></i><i style="background:linear-gradient(#8a8a8a,#838383 197.5px,#8b8b8b 214.5px,#7a7a7a 219.5px,#8d8d8d)"></i><i style="background:linear-gradient(#8b8b8b,#878787 208.5px,#8d8d8d 213.5px,#7b7b7b 219.5px,#8e8e8e)"></i><i style="background:linear-gradient(#898989,#818181 107.5px,#787878 146.5px,#7a7a7a 188.5px,#898989 214.5px,#797979 219.5px,#8c8c8c)"></i><i style="background:linear-gradient(#8b8b8b,#848484 71.5px,#7e7e7e 132.5px,#7f7f7f 209.5px,#858585 213.5px,#737373 220.5px,#888)"></i><i style="background:linear-gradient(#898989,#848484 207.5px,#898989 214.5px,#797979 219.5px,#8c8c8c)"></i><i style="background:linear-gradient(#8c8c8c,#818181 204.5px,#888 214.5px,#787878 219.5px,#8b8b8b)"></i><i style="background:linear-gradient(#919191,#848484 187.5px,#878787 209.5px,#8a8a8a 214.5px,#7b7b7b 219.5px,#8e8e8e)"></i><i style="background:linear-gradient(#8a8a8a,#868686 208.5px,#8a8a8a 214.5px,#7a7a7a 219.5px,#8d8d8d)"></i><i style="background:linear-gradient(#8d8d8d,#898989 208.5px,#8d8d8d 214.5px,#7d7d7d 219.5px,#909090)"></i><i style="background:linear-gradient(#8b8b8b,#878787 208.5px,#8b8b8b 214.5px,#7b7b7b 219.5px,#8e8e8e)"></i><i style="background:linear-gradient(#8c8c8c,#858585 208.5px,#898989 214.5px,#797979 219.5px,#8c8c8c)"></i><i style="background:linear-gradient(#888,#838383 208.5px,#878787 214.5px,#787878 219.5px,#8b8b8b)"></i><i style="background:linear-gradient(#898989,#828282 82.5px,#7a7a7a 120.5px,#7b7b7b 209.5px,#7e7e7e 214.5px,#6f6f6f 219.5px,#848484)"></i><i style="background:linear-gradient(#8b8b8b,#858585 208.5px,#898989 214.5px,#7b7b7b 220.5px,#8e8e8e)"></i><i style="background:linear-gradient(#8b8b8b,#878787 209.5px,#898989 215.5px,#7b7b7b 219.5px,#8e8e8e)"></i><i style="background:linear-gradient(#8a8a8a,#868686 209.5px,#888 215.5px,#7a7a7a 219.5px,#8d8d8d)"></i><i style="background:linear-gradient(#8b8b8b,#878787 209.5px,#898989 215.5px,#7b7b7b 219.5px,#8e8e8e)"></i><i style="background:linear-gradient(#888,#808080 201.5px,#868686 215.5px,#787878 219.5px,#8b8b8b)"></i><i style="background:linear-gradient(#8a8a8a,#848484 74.5px,#7d7d7d 104.5px,#7d7d7d 209.5px,#7f7f7f 215.5px,#737373 219.5px,#8d8d8d)"></i><i style="background:linear-gradient(#888,#848484 209.5px,#868686 215.5px,#787878 219.5px,#8b8b8b)"></i><i style="background:linear-gradient(#8b8b8b,#878787 209.5px,#888 215.5px,#7b7b7b 219.5px,#8e8e8e)"></i><i style="background:linear-gradient(#898989,#848484 207.5px,#878787 215.5px,#797979 219.5px,#8c8c8c)"></i><i style="background:linear-gradient(#898989,#858585 209.5px,#878787 215.5px,#797979 219.5px,#8c8c8c)"></i><i style="background:linear-gradient(#8a8a8a,#868686 209.5px,#888 215.5px,#7a7a7a 219.5px,#8d8d8d)"></i><i style="background:linear-gradient(#8d8d8d,#868686 103.5px,#767676 119.5px,#777 209.5px,#797979 215.5px,#6b6b6b 219.5px,#757575 224.5px,#8c8c8c 228.5px,#909090)"></i><i style="background:linear-gradient(#989898,#919191 96.5px,#838383 144.5px,#848484 209.5px,#868686 215.5px,#787878 219.5px,#8b8b8b)"></i><i style="background:linear-gradient(#898989,#858585 209.5px,#878787 215.5px,#797979 219.5px,#8c8c8c)"></i><i style="background:linear-gradient(#8c8c8c,#828282 135.5px,#7f7f7f 207.5px,#828282 215.5px,#747474 219.5px,#878787)"></i><i style="background:linear-gradient(#898989,#858585 209.5px,#878787 215.5px,#797979 219.5px,#8c8c8c)"></i><i style="background:linear-gradient(#8d8d8d,#898989 209.5px,#8b8b8b 215.5px,#7d7d7d 219.5px,#909090)"></i><i style="background:linear-gradient(#8a8a8a,#828282 114.5px,#7b7b7b 156.5px,#7e7e7e 189.5px,#888 215.5px,#7a7a7a 219.5px,#8d8d8d)"></i><i style="background:linear-gradient(#8a8a8a,#828282 142.5px,#666 186.5px,#696969 207.5px,#777 215.5px,#717171 219.5px,#8c8c8c 230.5px,#8d8d8d)"></i><i style="background:linear-gradient(#8b8b8b,#818181 186.5px,#868686 209.5px,#888 215.5px,#7b7b7b 219.5px,#8e8e8e)"></i><i style="background:linear-gradient(#8d8d8d,#898989 209.5px,#8b8b8b 215.5px,#7d7d7d 219.5px,#909090)"></i><i style="background:linear-gradient(#8b8b8b,#848484 208.5px,#878787 215.5px,#797979 219.5px,#8c8c8c)"></i><i style="background:linear-gradient(#8b8b8b,#868686 208.5px,#898989 215.5px,#7b7b7b 219.5px,#8e8e8e)"></i><i style="background:linear-gradient(#8a8a8a,#878787 31.5px,#7f7f7f 41.5px,#7c7c7c 125.5px,#838383 145.5px,#848484 207.5px,#888 215.5px,#7a7a7a 219.5px,#8d8d8d)"></i><i style="background:linear-gradient(#888,#848484 209.5px,#858585 215.5px,#787878 219.5px,#8b8b8b)"></i><i style="background:linear-gradient(#898989,#858585 209.5px,#868686 215.5px,#797979 219.5px,#8c8c8c)"></i><i style="background:linear-gradient(#8c8c8c,#888 209.5px,#8a8a8a 215.5px,#7c7c7c 219.5px,#8f8f8f)"></i><i style="background:linear-gradient(#8b8b8b,#828282 160.5px,#7d7d7d 181.5px,#848484 202.5px,#898989 215.5px,#7b7b7b 219.5px,#8e8e8e)"></i><i style="background:linear-gradient(#8b8b8b,#878787 209.5px,#898989 215.5px,#7b7b7b 219.5px,#8e8e8e)"></i><i style="background:linear-gradient(#8b8b8b,#858585 208.5px,#888 215.5px,#7a7a7a 219.5px,#8d8d8d)"></i><i style="background:linear-gradient(#898989,#818181 158.5px,#6e6e6e 179.5px,#828282 199.5px,#878787 215.5px,#797979 219.5px,#8c8c8c)"></i><i style="background:linear-gradient(#8b8b8b,#949494 1.5px,#909090 36.5px,#888 56.5px,#878787 209.5px,#888 215.5px,#7b7b7b 219.5px,#8e8e8e)"></i><i style="background:linear-gradient(#898989,#858585 209.5px,#868686 215.5px,#797979 219.5px,#8c8c8c)"></i><i style="background:linear-gradient(#8b8b8b,#828282 137.5px,#787878 167.5px,#7c7c7c 193.5px,#898989 214.5px,#7b7b7b 220.5px,#8e8e8e)"></i><i style="background:linear-gradient(#898989,#838383 208.5px,#858585 215.5px,#777 219.5px,#8a8a8a)"></i><i style="background:linear-gradient(#939393,#8b8b8b 87.5px,#848484 154.5px,#868686 209.5px,#878787 215.5px,#7a7a7a 219.5px,#8d8d8d)"></i><i style="background:linear-gradient(#8b8b8b,#878787 209.5px,#898989 215.5px,#7b7b7b 219.5px,#8e8e8e)"></i><i style="background:linear-gradient(#898989,#858585 209.5px,#878787 215.5px,#797979 219.5px,#8c8c8c)"></i><i style="background:linear-gradient(#8b8b8b,#848484 66.5px,#818181 209.5px,#838383 215.5px,#777 219.5px,#8d8d8d)"></i><i style="background:linear-gradient(#8b8b8b,#838383 206.5px,#888 215.5px,#7b7b7b 219.5px,#8e8e8e)"></i><i style="background:linear-gradient(#8b8b8b,#878787 209.5px,#888 215.5px,#7b7b7b 219.5px,#8e8e8e)"></i><i style="background:linear-gradient(#939393,#888 106.5px,#888 209.5px,#8a8a8a 215.5px,#7c7c7c 219.5px,#8f8f8f)"></i><i style="background:linear-gradient(#8a8a8a,#838383 208.5px,#858585 215.5px,#787878 219.5px,#8b8b8b)"></i><i style="background:linear-gradient(#878787,#828282 208.5px,#848484 215.5px,#767676 219.5px,#8a8a8a)"></i><i style="background:linear-gradient(#8b8b8b,#878787 209.5px,#898989 215.5px,#7b7b7b 219.5px,#8e8e8e)"></i><i style="background:linear-gradient(#8c8c8c,#888 209.5px,#898989 215.5px,#7c7c7c 219.5px,#8f8f8f)"></i><i style="background:linear-gradient(#8d8d8d,#898989 84.5px,#6c6c6c 92.5px,#6b6b6b 208.5px,#858585 215.5px,#7d7d7d 220.5px,#909090)"></i><i style="background:linear-gradient(#8b8b8b,#878787 208.5px,#898989 215.5px,#7b7b7b 219.5px,#8e8e8e)"></i><i style="background:linear-gradient(#9a9a9a,#898989 64.5px,#878787 209.5px,#898989 215.5px,#7b7b7b 219.5px,#8e8e8e)"></i><i style="background:linear-gradient(#898989,#858585 209.5px,#868686 215.5px,#797979 219.5px,#8c8c8c)"></i><i style="background:linear-gradient(#8b8b8b,#868686 207.5px,#898989 215.5px,#7b7b7b 219.5px,#8e8e8e)"></i><i style="background:linear-gradient(#8d8d8d,#868686 208.5px,#898989 215.5px,#7b7b7b 219.5px,#8e8e8e)"></i><i style="background:linear-gradient(#888,#848484 209.5px,#868686 215.5px,#787878 219.5px,#8b8b8b)"></i><i style="background:linear-gradient(#898989,#838383 206.5px,#868686 215.5px,#797979 219.5px,#8c8c8c)"></i><i style="background:linear-gradient(#8a8a8a,#828282 112.5px,#818181 209.5px,#848484 215.5px,#777 219.5px,#8d8d8d)"></i><i style="background:linear-gradient(#8a8a8a,#848484 204.5px,#888 215.5px,#7a7a7a 219.5px,#8d8d8d)"></i><i style="background:linear-gradient(#858585,#8f8f8f 1.5px,#898989 60.5px,#828282 90.5px,#7d7d7d 160.5px,#6f6f6f 176.5px,#717171 209.5px,#737373 215.5px,#656565 219.5px,#808080)"></i><i style="background:linear-gradient(#8a8a8a,#868686 209.5px,#888 215.5px,#7a7a7a 219.5px,#8d8d8d)"></i><i style="background:linear-gradient(#8a8a8a,#868686 209.5px,#888 215.5px,#7b7b7b 219.5px,#8d8d8d)"></i><i style="background:linear-gradient(#8a8a8a,#828282 96.5px,#818181 204.5px,#888 214.5px,#7a7a7a 220.5px,#8d8d8d)"></i><i style="background:linear-gradient(#8a8a8a,#868686 209.5px,#888 215.5px,#7b7b7b 219.5px,#8d8d8d)"></i><i style="background:linear-gradient(#8b8b8b,#878787 209.5px,#898989 215.5px,#7c7c7c 219.5px,#8e8e8e)"></i><i style="background:linear-gradient(#8a8a8a,#848484 208.5px,#868686 215.5px,#797979 219.5px,#8b8b8b)"></i><i style="background:linear-gradient(#8b8b8b,#878787 209.5px,#898989 215.5px,#7c7c7c 219.5px,#8e8e8e)"></i><i style="background:linear-gradient(#8a8a8a,#848484 207.5px,#888 215.5px,#7b7b7b 219.5px,#8d8d8d)"></i><i style="background:linear-gradient(#888,#848484 209.5px,#868686 215.5px,#7a7a7a 219.5px,#8b8b8b)"></i><i style="background:linear-gradient(#8a8a8a,#848484 208.5px,#868686 215.5px,#7a7a7a 219.5px,#8b8b8b)"></i><i style="background:linear-gradient(#8c8c8c,#888 209.5px,#8a8a8a 215.5px,#7e7e7e 220.5px,#8f8f8f)"></i><i style="background:linear-gradient(#888,#848484 209.5px,#868686 215.5px,#797979 220.5px,#8b8b8b)"></i><i style="background:linear-gradient(#878787,#838383 209.5px,#858585 215.5px,#797979 220.5px,#8a8a8a)"></i><i style="background:linear-gradient(#878787,#808080 73.5px,#797979 126.5px,#797979 209.5px,#7c7c7c 215.5px,#707070 220.5px,#808080)"></i><i style="background:linear-gradient(#8d8d8d,#898989 209.5px,#8b8b8b 215.5px,#7f7f7f 220.5px,#909090)"></i><i style="background:linear-gradient(#8d8d8d,#848484 206.5px,#888 215.5px,#7c7c7c 220.5px,#8d8d8d)"></i><i style="background:linear-gradient(#8a8a8a,#868686 209.5px,#888 215.5px,#7c7c7c 220.5px,#8d8d8d)"></i><i style="background:linear-gradient(#898989,#858585 209.5px,#878787 215.5px,#7b7b7b 220.5px,#8c8c8c)"></i><i style="background:linear-gradient(#8a8a8a,#848484 208.5px,#878787 215.5px,#7b7b7b 220.5px,#8b8b8b)"></i><i style="background:linear-gradient(#878787,#838383 209.5px,#858585 215.5px,#7a7a7a 220.5px,#8a8a8a)"></i><i style="background:linear-gradient(#8a8a8a,#868686 209.5px,#898989 215.5px,#7d7d7d 220.5px,#8d8d8d)"></i><i style="background:linear-gradient(#8a8a8a,#818181 174.5px,#868686 209.5px,#898989 215.5px,#7e7e7e 220.5px,#8d8d8d)"></i><i style="background:linear-gradient(#878787,#838383 209.5px,#858585 215.5px,#7a7a7a 220.5px,#8a8a8a)"></i><i style="background:linear-gradient(#888,#848484 209.5px,#878787 215.5px,#7c7c7c 220.5px,#8b8b8b)"></i><i style="background:linear-gradient(#919191,#878787 73.5px,#858585 209.5px,#878787 215.5px,#7c7c7c 220.5px,#8c8c8c)"></i><i style="background:linear-gradient(#8a8a8a,#868686 209.5px,#888 215.5px,#7e7e7e 220.5px,#8d8d8d)"></i><i style="background:linear-gradient(#8a8a8a,#818181 177.5px,#777 204.5px,#7c7c7c 215.5px,#717171 220.5px,#808080)"></i><i style="background:linear-gradient(#8c8c8c,#848484 208.5px,#878787 215.5px,#7d7d7d 220.5px,#8e8e8e)"></i><i style="background:linear-gradient(#8c8c8c,#888 209.5px,#8b8b8b 215.5px,#808080 220.5px,#8f8f8f)"></i><i style="background:linear-gradient(#8c8c8c,#858585 62.5px,#828282 209.5px,#848484 215.5px,#7a7a7a 220.5px,#898989)"></i><i style="background:linear-gradient(#979797,#909090 81.5px,#878787 134.5px,#888 209.5px,#8b8b8b 215.5px,#818181 220.5px,#8f8f8f)"></i><i style="background:linear-gradient(#888,#7f7f7f 134.5px,#7c7c7c 207.5px,#808080 215.5px,#787878 220.5px,#8b8b8b)"></i><i style="background:linear-gradient(#898989,#858585 209.5px,#888 215.5px,#7e7e7e 221.5px,#8c8c8c)"></i><i style="background:linear-gradient(#8c8c8c,#848484 207.5px,#888 215.5px,#7e7e7e 221.5px,#8d8d8d)"></i><i style="background:linear-gradient(#8a8a8a,#878787 84.5px,#7b7b7b 86.5px,#686868 88.5px,#656565 94.5px,#656565 153.5px,#848484 165.5px,#868686 209.5px,#898989 215.5px,#7f7f7f 221.5px,#8d8d8d)"></i><i style="background:linear-gradient(#8a8a8a,#868686 209.5px,#888 215.5px,#7f7f7f 221.5px,#8d8d8d)"></i><i style="background:linear-gradient(#878787,#838383 209.5px,#858585 215.5px,#7c7c7c 221.5px,#8a8a8a)"></i><i style="background:linear-gradient(#878787,#838383 209.5px,#838383 216.5px,#7c7c7c 221.5px,#8a8a8a)"></i><i style="background:linear-gradient(#8b8b8b,#868686 208.5px,#8a8a8a 215.5px,#808080 221.5px,#8e8e8e)"></i><i style="background:linear-gradient(#8e8e8e,#858585 206.5px,#898989 215.5px,#808080 221.5px,#8e8e8e)"></i><i style="background:linear-gradient(#8a8a8a,#838383 66.5px,#767676 99.5px,#777 184.5px,#888 214.5px,#7f7f7f 221.5px,#8d8d8d)"></i><i style="background:linear-gradient(#898989,#858585 209.5px,#858585 216.5px,#7f7f7f 221.5px,#8c8c8c)"></i><i style="background:linear-gradient(#878787,#7f7f7f 200.5px,#868686 215.5px,#7d7d7d 221.5px,#8a8a8a)"></i><i style="background:linear-gradient(#8b8b8b,#838383 111.5px,#7d7d7d 159.5px,#7f7f7f 209.5px,#7f7f7f 216.5px,#787878 221.5px,#868686)"></i><i style="background:linear-gradient(#8c8c8c,#838383 201.5px,#8a8a8a 215.5px,#818181 221.5px,#8f8f8f)"></i><i style="background:linear-gradient(#8d8d8d,#898989 209.5px,#898989 216.5px,#828282 221.5px,#909090)"></i><i style="background:linear-gradient(#8a8a8a,#868686 209.5px,#868686 216.5px,#7f7f7f 221.5px,#8d8d8d)"></i><i style="background:linear-gradient(#8a8a8a,#828282 121.5px,#7d7d7d 161.5px,#7f7f7f 209.5px,#808080 216.5px,#7c7c7c 221.5px,#8d8d8d)"></i><i style="background:linear-gradient(#969696,#8f8f8f 62.5px,#848484 108.5px,#848484 209.5px,#848484 216.5px,#7e7e7e 221.5px,#8b8b8b)"></i><i style="background:linear-gradient(#8c8c8c,#848484 101.5px,#7c7c7c 144.5px,#7e7e7e 216.5px,#777 221.5px,#848484)"></i><i style="background:linear-gradient(#8d8d8d,#898989 209.5px,#898989 216.5px,#828282 221.5px,#909090)"></i><i style="background:linear-gradient(#898989,#858585 209.5px,#858585 216.5px,#7e7e7e 221.5px,#8c8c8c)"></i><i style="background:linear-gradient(#979797,#878787 75.5px,#868686 209.5px,#878787 216.5px,#808080 221.5px,#8d8d8d)"></i><i style="background:linear-gradient(#8a8a8a,#868686 209.5px,#868686 216.5px,#808080 221.5px,#8d8d8d)"></i><i style="background:linear-gradient(#898989,#858585 209.5px,#858585 216.5px,#7e7e7e 221.5px,#8c8c8c)"></i><i style="background:linear-gradient(#868686,#828282 39.5px,#787878 55.5px,#757575 208.5px,#797979 216.5px,#767676 221.5px,#898989)"></i><i style="background:linear-gradient(#898989,#828282 208.5px,#868686 215.5px,#7c7c7c 221.5px,#8a8a8a)"></i><i style="background:linear-gradient(#8b8b8b,#848484 205.5px,#8a8a8a 215.5px,#808080 221.5px,#8e8e8e)"></i><i style="background:linear-gradient(#888,#848484 209.5px,#848484 216.5px,#7d7d7d 221.5px,#8b8b8b)"></i><i style="background:linear-gradient(#919191,#898989 73.5px,#828282 178.5px,#858585 209.5px,#858585 216.5px,#7e7e7e 221.5px,#8c8c8c)"></i><i style="background:linear-gradient(#8d8d8d,#808080 124.5px,#818181 209.5px,#818181 216.5px,#7a7a7a 221.5px,#888)"></i><i style="background:linear-gradient(#8c8c8c,#888 209.5px,#888 216.5px,#818181 221.5px,#8f8f8f)"></i><i style="background:linear-gradient(#8b8b8b,#878787 209.5px,#878787 216.5px,#808080 221.5px,#8e8e8e)"></i><i style="background:linear-gradient(#8a8a8a,#838383 109.5px,#7c7c7c 135.5px,#7f7f7f 187.5px,#898989 215.5px,#7f7f7f 221.5px,#8d8d8d)"></i><i style="background:linear-gradient(#8a8a8a,#868686 209.5px,#868686 216.5px,#7f7f7f 221.5px,#8d8d8d)"></i><i style="background:linear-gradient(#949494,#8d8d8d 76.5px,#858585 93.5px,#6f6f6f 96.5px,#6a6a6a 129.5px,#6c6c6c 150.5px,#838383 157.5px,#858585 209.5px,#858585 216.5px,#7e7e7e 221.5px,#8c8c8c)"></i><i style="background:linear-gradient(#8a8a8a,#808080 189.5px,#7d7d7d 209.5px,#7c7c7c 216.5px,#747474 221.5px,#818181)"></i><i style="background:linear-gradient(#8a8a8a,#808080 172.5px,#7d7d7d 208.5px,#818181 215.5px,#777 221.5px,#858585)"></i><i style="background:linear-gradient(#8a8a8a,#868686 209.5px,#868686 216.5px,#7f7f7f 221.5px,#8d8d8d)"></i><i style="background:linear-gradient(#8a8a8a,#838383 199.5px,#898989 215.5px,#7f7f7f 221.5px,#8d8d8d)"></i><i style="background:linear-gradient(#8a8a8a,#868686 209.5px,#868686 216.5px,#808080 221.5px,#8d8d8d)"></i><i style="background:linear-gradient(#8d8d8d,#888 208.5px,#8b8b8b 215.5px,#828282 221.5px,#8f8f8f)"></i><i style="background:linear-gradient(#888,#818181 91.5px,#7b7b7b 113.5px,#7b7b7b 208.5px,#818181 215.5px,#7b7b7b 221.5px,#8b8b8b)"></i><i style="background:linear-gradient(#8a8a8a,#868686 209.5px,#878787 216.5px,#808080 221.5px,#8d8d8d)"></i><i style="background:linear-gradient(#898989,#7d7d7d 154.5px,#7e7e7e 209.5px,#7f7f7f 216.5px,#7b7b7b 221.5px,#8c8c8c)"></i><i style="background:linear-gradient(#888,#848484 209.5px,#848484 216.5px,#7e7e7e 221.5px,#8b8b8b)"></i><i style="background:linear-gradient(#868686,#828282 209.5px,#828282 216.5px,#7c7c7c 221.5px,#898989)"></i><i style="background:linear-gradient(#8b8b8b,#878787 209.5px,#878787 216.5px,#808080 221.5px,#8e8e8e)"></i><i style="background:linear-gradient(#888,#808080 122.5px,#7f7f7f 209.5px,#7f7f7f 216.5px,#787878 221.5px,#898989)"></i><i style="background:linear-gradient(#898989,#adadad 1.5px,#a6a6a6 98.5px,#848484 121.5px,#828282 209.5px,#828282 216.5px,#7c7c7c 221.5px,#898989)"></i><i style="background:linear-gradient(#8b8b8b,#a1a1a1 1.5px,#9a9a9a 85.5px,#868686 108.5px,#878787 209.5px,#878787 216.5px,#808080 221.5px,#8e8e8e)"></i><i style="background:linear-gradient(#888,#828282 50.5px,#7c7c7c 96.5px,#7c7c7c 209.5px,#7c7c7c 216.5px,#757575 221.5px,#838383)"></i><i style="background:linear-gradient(#8a8a8a,#848484 208.5px,#888 215.5px,#7f7f7f 221.5px,#8d8d8d)"></i><i style="background:linear-gradient(#8a8a8a,#8c8c8c 5.5px,#989898 8.5px,#929292 77.5px,#868686 102.5px,#7d7d7d 200.5px,#828282 215.5px,#797979 221.5px,#878787)"></i><i style="background:linear-gradient(#8b8b8b,#858585 80.5px,#747474 97.5px,#747474 207.5px,#7c7c7c 216.5px,#7e7e7e 222.5px,#8e8e8e)"></i><i style="background:linear-gradient(#8c8c8c,#838383 165.5px,#7b7b7b 186.5px,#7d7d7d 209.5px,#7d7d7d 216.5px,#767676 221.5px,#848484)"></i><i style="background:linear-gradient(#898989,#7f7f7f 185.5px,#878787 215.5px,#7e7e7e 221.5px,#8c8c8c)"></i><i style="background:linear-gradient(#8c8c8c,#878787 208.5px,#8a8a8a 215.5px,#818181 221.5px,#8e8e8e)"></i><i style="background:linear-gradient(#8a8a8a,#828282 182.5px,#868686 209.5px,#8c8c8c 216.5px,#808080 219.5px,#878787 227.5px,#8d8d8d)"></i><i style="background:linear-gradient(#8a8a8a,#848484 102.5px,#707070 118.5px,#707070 209.5px,#747474 214.5px,#7c7c7c 216.5px,#6c6c6c 218.5px,#6c6c6c 223.5px,#898989 228.5px,#8d8d8d)"></i><i style="background:linear-gradient(#8a8a8a,#818181 191.5px,#898989 214.5px,#979797 216.5px,#828282 218.5px,#818181 223.5px,#8d8d8d)"></i><i style="background:linear-gradient(#8b8b8b,#848484 207.5px,#8a8a8a 214.5px,#9d9d9d 216.5px,#848484 218.5px,#838383 223.5px,#8e8e8e)"></i><i style="background:linear-gradient(#888,#808080 76.5px,#797979 140.5px,#7a7a7a 209.5px,#7e7e7e 214.5px,#969696 216.5px,#777 218.5px,#757575 223.5px,#818181)"></i><i style="background:linear-gradient(#8e8e8e,#858585 153.5px,#868686 209.5px,#8b8b8b 214.5px,#a3a3a3 216.5px,#838383 218.5px,#828282 223.5px,#8d8d8d)"></i><i style="background:linear-gradient(#8c8c8c,#838383 133.5px,#848484 209.5px,#888 214.5px,#a0a0a0 216.5px,#818181 218.5px,#808080 223.5px,#8e8e8e)"></i><i style="background:linear-gradient(#8a8a8a,#868686 209.5px,#8a8a8a 214.5px,#a2a2a2 216.5px,#828282 218.5px,#818181 223.5px,#8d8d8d)"></i><i style="background:linear-gradient(#8d8d8d,#898989 209.5px,#8d8d8d 214.5px,#a5a5a5 216.5px,#868686 218.5px,#858585 223.5px,#909090)"></i><i style="background:linear-gradient(#898989,#858585 209.5px,#898989 214.5px,#a1a1a1 216.5px,#828282 218.5px,#808080 223.5px,#8c8c8c)"></i><i style="background:linear-gradient(#8a8a8a,#818181 143.5px,#808080 204.5px,#8a8a8a 214.5px,#a2a2a2 216.5px,#838383 218.5px,#828282 223.5px,#8d8d8d)"></i><i style="background:linear-gradient(#898989,#858585 209.5px,#898989 214.5px,#a1a1a1 216.5px,#828282 218.5px,#818181 223.5px,#8c8c8c)"></i><i style="background:linear-gradient(#898989,#828282 72.5px,#727272 121.5px,#737373 208.5px,#7b7b7b 214.5px,#959595 216.5px,#787878 218.5px,#7c7c7c 223.5px,#8c8c8c)"></i><i style="background:linear-gradient(#888,#838383 207.5px,#888 214.5px,#a0a0a0 216.5px,#818181 218.5px,#808080 223.5px,#8b8b8b)"></i><i style="background:linear-gradient(#898989,#959595 1.5px,#8f8f8f 78.5px,#858585 104.5px,#858585 209.5px,#898989 214.5px,#a1a1a1 216.5px,#828282 218.5px,#818181 223.5px,#8c8c8c)"></i><i style="background:linear-gradient(#8a8a8a,#868686 209.5px,#8a8a8a 214.5px,#a2a2a2 216.5px,#838383 218.5px,#828282 223.5px,#8d8d8d)"></i><i style="background:linear-gradient(#898989,#858585 209.5px,#898989 214.5px,#a1a1a1 216.5px,#828282 218.5px,#808080 223.5px,#8c8c8c)"></i><i style="background:linear-gradient(#8b8b8b,#828282 189.5px,#8a8a8a 213.5px,#8c8c8c 214.5px,#a4a4a4 216.5px,#848484 218.5px,#838383 223.5px,#8e8e8e)"></i><i style="background:linear-gradient(#8c8c8c,#888 208.5px,#8d8d8d 214.5px,#a5a5a5 216.5px,#858585 218.5px,#848484 223.5px,#8f8f8f)"></i><i style="background:linear-gradient(#888,#848484 209.5px,#888 214.5px,#a0a0a0 216.5px,#808080 218.5px,#7f7f7f 223.5px,#8b8b8b)"></i><i style="background:linear-gradient(#8b8b8b,#878787 209.5px,#8b8b8b 214.5px,#a3a3a3 216.5px,#848484 218.5px,#838383 223.5px,#8e8e8e)"></i><i style="background:linear-gradient(#8a8a8a,#858585 71.5px,#767676 92.5px,#767676 180.5px,#848484 200.5px,#8a8a8a 214.5px,#a2a2a2 216.5px,#838383 218.5px,#828282 223.5px,#8d8d8d)"></i><i style="background:linear-gradient(#8a8a8a,#868686 209.5px,#8a8a8a 214.5px,#a2a2a2 216.5px,#838383 218.5px,#828282 223.5px,#8d8d8d)"></i><i style="background:linear-gradient(#8e8e8e,#838383 172.5px,#858585 209.5px,#898989 214.5px,#a1a1a1 216.5px,#818181 218.5px,#808080 223.5px,#8c8c8c)"></i><i style="background:linear-gradient(#8c8c8c,#888 209.5px,#8c8c8c 214.5px,#a4a4a4 216.5px,#858585 218.5px,#848484 223.5px,#8f8f8f)"></i><i style="background:linear-gradient(#8b8b8b,#828282 128.5px,#767676 166.5px,#797979 194.5px,#8b8b8b 214.5px,#a3a3a3 216.5px,#838383 218.5px,#828282 223.5px,#8e8e8e)"></i><i style="background:linear-gradient(#8a8a8a,#848484 208.5px,#898989 214.5px,#a1a1a1 216.5px,#828282 218.5px,#808080 223.5px,#8c8c8c)"></i><i style="background:linear-gradient(#878787,#838383 209.5px,#878787 214.5px,#9f9f9f 216.5px,#7f7f7f 218.5px,#7e7e7e 223.5px,#8a8a8a)"></i><i style="background:linear-gradient(#8b8b8b,#878787 208.5px,#8b8b8b 214.5px,#a3a3a3 216.5px,#848484 218.5px,#838383 223.5px,#8e8e8e)"></i><i style="background:linear-gradient(#898989,#838383 208.5px,#888 214.5px,#a0a0a0 216.5px,#818181 218.5px,#808080 223.5px,#8c8c8c)"></i><i style="background:linear-gradient(#8a8a8a,#848484 82.5px,#717171 100.5px,#717171 207.5px,#7d7d7d 214.5px,#979797 216.5px,#7a7a7a 218.5px,#808080 224.5px,#8d8d8d)"></i><i style="background:linear-gradient(#8a8a8a,#828282 129.5px,#6e6e6e 166.5px,#707070 209.5px,#747474 214.5px,#8c8c8c 216.5px,#6d6d6d 218.5px,#6c6c6c 223.5px,#7d7d7d)"></i><i style="background:linear-gradient(#8c8c8c,#888 209.5px,#8c8c8c 214.5px,#a4a4a4 216.5px,#848484 218.5px,#838383 223.5px,#8f8f8f)"></i><i style="background:linear-gradient(#8d8d8d,#898989 209.5px,#8d8d8d 214.5px,#a5a5a5 216.5px,#868686 218.5px,#858585 223.5px,#909090)"></i><i style="background:linear-gradient(#8c8c8c,#868686 208.5px,#8b8b8b 214.5px,#a3a3a3 216.5px,#848484 218.5px,#828282 223.5px,#8e8e8e)"></i><i style="background:linear-gradient(#8c8c8c,#868686 207.5px,#8c8c8c 214.5px,#a4a4a4 216.5px,#858585 218.5px,#848484 223.5px,#8f8f8f)"></i><i style="background:linear-gradient(#8a8a8a,#868686 209.5px,#8a8a8a 214.5px,#a2a2a2 216.5px,#828282 218.5px,#818181 223.5px,#8d8d8d)"></i><i style="background:linear-gradient(#8b8b8b,#878787 209.5px,#8b8b8b 214.5px,#a3a3a3 216.5px,#848484 218.5px,#828282 223.5px,#8e8e8e)"></i><i style="background:linear-gradient(#8b8b8b,#858585 206.5px,#8b8b8b 214.5px,#a3a3a3 216.5px,#848484 218.5px,#838383 223.5px,#8e8e8e)"></i><b class="s" style="left:1px;top:226px;background:#4c4c4c"></b><b class="s" style="left:2px;top:228px;background:#f4f4f4"></b><b class="s" style="left:3px;top:226px;background:#161616"></b><b class="s" style="left:4px;top:226px;background:#4c4c4c"></b><b class="s" style="left:7px;top:226px;background:#161616"></b><b class="s" style="left:8px;top:226px;background:#161616"></b><b class="s" style="left:8px;top:227px;background:#4c4c4c"></b><b class="s" style="left:8px;top:228px;background:#161616"></b><b class="s" style="left:9px;top:228px;background:#c4c4c4"></b><b class="s" style="left:10px;top:226px;background:#161616"></b><b class="s" style="left:11px;top:226px;background:#4c4c4c"></b><b class="s" style="left:12px;top:227px;background:#161616"></b><b class="s" style="left:12px;top:228px;background:#4c4c4c"></b><b class="s" style="left:14px;top:227px;background:#f4f4f4"></b><b class="s" style="left:14px;top:228px;background:#f4f4f4"></b><b class="s" style="left:19px;top:226px;background:#c4c4c4"></b><b class="s" style="left:20px;top:228px;background:#4c4c4c"></b><b class="s" style="left:21px;top:226px;background:#161616"></b><b class="s" style="left:22px;top:225px;background:#f4f4f4"></b><b class="s" style="left:22px;top:226px;background:#4c4c4c"></b><b class="s" style="left:23px;top:226px;background:#161616"></b><b class="s" style="left:25px;top:226px;background:#4c4c4c"></b><b class="s" style="left:27px;top:227px;background:#4c4c4c"></b><b class="s" style="left:27px;top:228px;background:#161616"></b><b class="s" style="left:28px;top:228px;background:#f4f4f4"></b><b class="s" style="left:29px;top:226px;background:#161616"></b><b class="s" style="left:29px;top:227px;background:#4c4c4c"></b><b class="s" style="left:29px;top:228px;background:#161616"></b><b class="s" style="left:30px;top:228px;background:#161616"></b><b class="s" style="left:31px;top:227px;background:#161616"></b><b class="s" style="left:33px;top:226px;background:#4c4c4c"></b><b class="s" style="left:34px;top:226px;background:#161616"></b><b class="s" style="left:35px;top:225px;background:#4c4c4c"></b><b class="s" style="left:35px;top:226px;background:#161616"></b><b class="s" style="left:36px;top:226px;background:#4c4c4c"></b><b class="s" style="left:37px;top:226px;background:#4c4c4c"></b><b class="s" style="left:38px;top:226px;background:#161616"></b><b class="s" style="left:39px;top:226px;background:#4c4c4c"></b><b class="s" style="left:40px;top:228px;background:#161616"></b><b class="s" style="left:42px;top:227px;background:#161616"></b><b class="s" style="left:44px;top:225px;background:#4c4c4c"></b><b class="s" style="left:44px;top:226px;background:#4c4c4c"></b><b class="s" style="left:44px;top:228px;background:#f4f4f4"></b><b class="s" style="left:45px;top:226px;background:#161616"></b><b class="s" style="left:46px;top:226px;background:#161616"></b><b class="s" style="left:49px;top:226px;background:#161616"></b><b class="s" style="left:49px;top:228px;background:#4c4c4c"></b><b class="s" style="left:50px;top:225px;background:#c4c4c4"></b><b class="s" style="left:50px;top:226px;background:#4c4c4c"></b><b class="s" style="left:51px;top:226px;background:#161616"></b><b class="s" style="left:52px;top:226px;background:#4c4c4c"></b><b class="s" style="left:52px;top:227px;background:#161616"></b><b class="s" style="left:53px;top:225px;background:#161616"></b><b class="s" style="left:53px;top:227px;background:#161616"></b><b class="s" style="left:54px;top:226px;background:#161616"></b><b class="s" style="left:54px;top:227px;background:#161616"></b><b class="s" style="left:54px;top:228px;background:#161616"></b><b class="s" style="left:55px;top:225px;background:#161616"></b><b class="s" style="left:56px;top:226px;background:#161616"></b><b class="s" style="left:57px;top:225px;background:#161616"></b><b class="s" style="left:58px;top:226px;background:#161616"></b><b class="s" style="left:59px;top:225px;background:#c4c4c4"></b><b class="s" style="left:59px;top:226px;background:#161616"></b><b class="s" style="left:61px;top:227px;background:#161616"></b><b class="s" style="left:61px;top:228px;background:#4c4c4c"></b><b class="s" style="left:62px;top:226px;background:#161616"></b><b class="s" style="left:62px;top:228px;background:#4c4c4c"></b><b class="s" style="left:63px;top:226px;background:#4c4c4c"></b><b class="s" style="left:64px;top:226px;background:#161616"></b><b class="s" style="left:65px;top:226px;background:#161616"></b><b class="s" style="left:65px;top:228px;background:#161616"></b><b class="s" style="left:66px;top:226px;background:#4c4c4c"></b><b class="s" style="left:67px;top:226px;background:#161616"></b><b class="s" style="left:67px;top:227px;background:#161616"></b><b class="s" style="left:68px;top:226px;background:#161616"></b><b class="s" style="left:69px;top:225px;background:#161616"></b><b class="s" style="left:69px;top:228px;background:#c4c4c4"></b><b class="s" style="left:70px;top:227px;background:#161616"></b><b class="s" style="left:71px;top:226px;background:#4c4c4c"></b><b class="s" style="left:71px;top:227px;background:#4c4c4c"></b><b class="s" style="left:72px;top:228px;background:#161616"></b><b class="s" style="left:73px;top:228px;background:#f4f4f4"></b><b class="s" style="left:74px;top:227px;background:#4c4c4c"></b><b class="s" style="left:74px;top:228px;background:#161616"></b><b class="s" style="left:80px;top:225px;background:#f4f4f4"></b><b class="s" style="left:81px;top:225px;background:#f4f4f4"></b><b class="s" style="left:81px;top:227px;background:#4c4c4c"></b><b class="s" style="left:83px;top:226px;background:#161616"></b><b class="s" style="left:84px;top:225px;background:#f4f4f4"></b><b class="s" style="left:85px;top:225px;background:#c4c4c4"></b><b class="s" style="left:85px;top:226px;background:#f4f4f4"></b><b class="s" style="left:85px;top:227px;background:#161616"></b><b class="s" style="left:85px;top:228px;background:#4c4c4c"></b><b class="s" style="left:86px;top:226px;background:#161616"></b><b class="s" style="left:87px;top:226px;background:#4c4c4c"></b><b class="s" style="left:87px;top:227px;background:#161616"></b><b class="s" style="left:88px;top:226px;background:#4c4c4c"></b><b class="s" style="left:89px;top:225px;background:#f4f4f4"></b><b class="s" style="left:90px;top:226px;background:#161616"></b><b class="s" style="left:90px;top:228px;background:#161616"></b><b class="s" style="left:91px;top:226px;background:#4c4c4c"></b><b class="s" style="left:93px;top:226px;background:#4c4c4c"></b><b class="s" style="left:93px;top:228px;background:#f4f4f4"></b><b class="s" style="left:94px;top:226px;background:#4c4c4c"></b><b class="s" style="left:95px;top:226px;background:#4c4c4c"></b><b class="s" style="left:96px;top:228px;background:#161616"></b><b class="s" style="left:97px;top:226px;background:#4c4c4c"></b><b class="s" style="left:98px;top:226px;background:#161616"></b><b class="s" style="left:99px;top:226px;background:#161616"></b><b class="s" style="left:100px;top:227px;background:#c4c4c4"></b><b class="s" style="left:101px;top:226px;background:#161616"></b><b class="s" style="left:103px;top:226px;background:#161616"></b><b class="s" style="left:104px;top:225px;background:#f4f4f4"></b><b class="s" style="left:105px;top:226px;background:#161616"></b><b class="s" style="left:106px;top:227px;background:#f4f4f4"></b><b class="s" style="left:107px;top:228px;background:#4c4c4c"></b><b class="s" style="left:108px;top:227px;background:#4c4c4c"></b><b class="s" style="left:109px;top:226px;background:#161616"></b><b class="s" style="left:110px;top:225px;background:#c4c4c4"></b><b class="s" style="left:111px;top:225px;background:#c4c4c4"></b><b class="s" style="left:111px;top:226px;background:#161616"></b><b class="s" style="left:114px;top:226px;background:#f4f4f4"></b><b class="s" style="left:117px;top:226px;background:#4c4c4c"></b><b class="s" style="left:118px;top:225px;background:#161616"></b><b class="s" style="left:118px;top:226px;background:#4c4c4c"></b><b class="s" style="left:119px;top:227px;background:#4c4c4c"></b><b class="s" style="left:120px;top:227px;background:#f4f4f4"></b><b class="s" style="left:121px;top:225px;background:#4c4c4c"></b><b class="s" style="left:122px;top:226px;background:#161616"></b><b class="s" style="left:126px;top:226px;background:#161616"></b><b class="s" style="left:126px;top:227px;background:#4c4c4c"></b><b class="s" style="left:127px;top:226px;background:#161616"></b><b class="s" style="left:127px;top:228px;background:#f4f4f4"></b><b class="s" style="left:128px;top:225px;background:#161616"></b><b class="s" style="left:128px;top:226px;background:#f4f4f4"></b><b class="s" style="left:128px;top:227px;background:#161616"></b><b class="s" style="left:129px;top:226px;background:#161616"></b><b class="s" style="left:130px;top:227px;background:#161616"></b><b class="s" style="left:131px;top:226px;background:#4c4c4c"></b><b class="s" style="left:131px;top:227px;background:#161616"></b><b class="s" style="left:132px;top:225px;background:#161616"></b><b class="s" style="left:132px;top:226px;background:#4c4c4c"></b><b class="s" style="left:133px;top:225px;background:#161616"></b><b class="s" style="left:133px;top:226px;background:#4c4c4c"></b><b class="s" style="left:133px;top:228px;background:#f4f4f4"></b><b class="s" style="left:134px;top:225px;background:#c4c4c4"></b><b class="s" style="left:135px;top:225px;background:#f4f4f4"></b><b class="s" style="left:136px;top:226px;background:#f4f4f4"></b><b class="s" style="left:144px;top:226px;background:#4c4c4c"></b><b class="s" style="left:147px;top:226px;background:#161616"></b><b class="s" style="left:147px;top:228px;background:#f4f4f4"></b><b class="s" style="left:148px;top:227px;background:#161616"></b><b class="s" style="left:149px;top:226px;background:#161616"></b><b class="s" style="left:152px;top:226px;background:#4c4c4c"></b><b class="s" style="left:157px;top:226px;background:#161616"></b><b class="s" style="left:160px;top:227px;background:#161616"></b><b class="s" style="left:160px;top:228px;background:#161616"></b><b class="s" style="left:161px;top:226px;background:#4c4c4c"></b><b class="s" style="left:162px;top:228px;background:#161616"></b><b class="s" style="left:163px;top:226px;background:#4c4c4c"></b><b class="s" style="left:165px;top:225px;background:#f4f4f4"></b><b class="s" style="left:165px;top:227px;background:#161616"></b><b class="s" style="left:166px;top:227px;background:#c4c4c4"></b><b class="s" style="left:167px;top:225px;background:#f4f4f4"></b><b class="s" style="left:167px;top:226px;background:#161616"></b><b class="s" style="left:172px;top:226px;background:#4c4c4c"></b><b class="s" style="left:174px;top:226px;background:#4c4c4c"></b><b class="s" style="left:175px;top:225px;background:#c4c4c4"></b><b class="s" style="left:175px;top:226px;background:#161616"></b><b class="s" style="left:177px;top:225px;background:#4c4c4c"></b><b class="s" style="left:178px;top:226px;background:#161616"></b><b class="s" style="left:181px;top:226px;background:#4c4c4c"></b><b class="s" style="left:182px;top:228px;background:#f4f4f4"></b><b class="s" style="left:183px;top:228px;background:#f4f4f4"></b><b class="s" style="left:184px;top:225px;background:#4c4c4c"></b><b class="s" style="left:185px;top:225px;background:#161616"></b><b class="s" style="left:186px;top:225px;background:#4c4c4c"></b><b class="s" style="left:188px;top:226px;background:#161616"></b><b class="s" style="left:192px;top:225px;background:#f4f4f4"></b><b class="s" style="left:193px;top:226px;background:#161616"></b><b class="s" style="left:194px;top:226px;background:#161616"></b><b class="s" style="left:195px;top:225px;background:#4c4c4c"></b><b class="s" style="left:203px;top:226px;background:#4c4c4c"></b><b class="s" style="left:204px;top:225px;background:#4c4c4c"></b><b class="s" style="left:204px;top:228px;background:#4c4c4c"></b><b class="s" style="left:205px;top:225px;background:#f4f4f4"></b><b class="s" style="left:205px;top:226px;background:#4c4c4c"></b><b class="s" style="left:205px;top:227px;background:#f4f4f4"></b><b class="s" style="left:206px;top:226px;background:#161616"></b><b class="s" style="left:207px;top:228px;background:#f4f4f4"></b><b class="s" style="left:211px;top:226px;background:#4c4c4c"></b><b class="s" style="left:212px;top:228px;background:#4c4c4c"></b><b class="s" style="left:213px;top:226px;background:#4c4c4c"></b><b class="s" style="left:214px;top:226px;background:#161616"></b><b class="s" style="left:215px;top:225px;background:#c4c4c4"></b><b class="s" style="left:216px;top:226px;background:#4c4c4c"></b><b class="s" style="left:218px;top:226px;background:#161616"></b><b class="s" style="left:219px;top:226px;background:#f4f4f4"></b><b class="s" style="left:221px;top:225px;background:#f4f4f4"></b><b class="s" style="left:222px;top:226px;background:#161616"></b><b class="s" style="left:222px;top:227px;background:#161616"></b><b class="s" style="left:225px;top:225px;background:#4c4c4c"></b><b class="s" style="left:225px;top:226px;background:#161616"></b><b class="s" style="left:226px;top:227px;background:#161616"></b><b class="s" style="left:230px;top:225px;background:#c4c4c4"></b><b class="s" style="left:230px;top:228px;background:#161616"></b><b class="s" style="left:232px;top:226px;background:#4c4c4c"></b><b class="s" style="left:233px;top:226px;background:#161616"></b><b class="s" style="left:233px;top:227px;background:#161616"></b><b class="s" style="left:234px;top:225px;background:#f4f4f4"></b><b class="s" style="left:236px;top:226px;background:#c4c4c4"></b><b class="s" style="left:238px;top:226px;background:#161616"></b><b class="s" style="left:240px;top:225px;background:#c4c4c4"></b><b class="s" style="left:240px;top:226px;background:#c4c4c4"></b><b class="s" style="left:240px;top:227px;background:#161616"></b><b class="s" style="left:241px;top:225px;background:#161616"></b><b class="s" style="left:242px;top:227px;background:#4c4c4c"></b><b class="s" style="left:243px;top:225px;background:#161616"></b><b class="s" style="left:245px;top:226px;background:#4c4c4c"></b><b class="s" style="left:246px;top:226px;background:#4c4c4c"></b><b class="s" style="left:250px;top:225px;background:#c4c4c4"></b><b class="s" style="left:250px;top:226px;background:#f4f4f4"></b><b class="s" style="left:250px;top:227px;background:#4c4c4c"></b><b class="s" style="left:251px;top:228px;background:#4c4c4c"></b><b class="s" style="left:252px;top:227px;background:#4c4c4c"></b><b class="s" style="left:256px;top:226px;background:#c4c4c4"></b><b class="s" style="left:257px;top:227px;background:#4c4c4c"></b><b class="s" style="left:259px;top:227px;background:#161616"></b><b class="s" style="left:260px;top:225px;background:#161616"></b><b class="s" style="left:260px;top:226px;background:#4c4c4c"></b><b class="s" style="left:262px;top:227px;background:#161616"></b><b class="s" style="left:262px;top:228px;background:#f4f4f4"></b><b class="s" style="left:263px;top:226px;background:#f4f4f4"></b><b class="s" style="left:263px;top:227px;background:#161616"></b><b class="s" style="left:265px;top:226px;background:#f4f4f4"></b><b class="s" style="left:269px;top:228px;background:#c4c4c4"></b><b class="s" style="left:271px;top:226px;background:#c4c4c4"></b><b class="s" style="left:273px;top:227px;background:#161616"></b><b class="s" style="left:274px;top:228px;background:#f4f4f4"></b><b class="s" style="left:277px;top:226px;background:#161616"></b><b class="s" style="left:280px;top:226px;background:#4c4c4c"></b><b class="s" style="left:280px;top:228px;background:#161616"></b><b class="s" style="left:284px;top:226px;background:#c4c4c4"></b><b class="s" style="left:285px;top:225px;background:#f4f4f4"></b><b class="s" style="left:286px;top:225px;background:#161616"></b><b class="s" style="left:287px;top:228px;background:#f4f4f4"></b><b class="s" style="left:288px;top:224px;background:#161616"></b><b class="s" style="left:288px;top:225px;background:#c4c4c4"></b><b class="s" style="left:290px;top:223px;background:#c4c4c4"></b><b class="s" style="left:290px;top:224px;background:#4c4c4c"></b><b class="s" style="left:291px;top:223px;background:#f4f4f4"></b><b class="s" style="left:291px;top:226px;background:#161616"></b><b class="s" style="left:291px;top:227px;background:#161616"></b><b class="s" style="left:292px;top:223px;background:#f4f4f4"></b><b class="s" style="left:292px;top:224px;background:#4c4c4c"></b><b class="s" style="left:293px;top:226px;background:#161616"></b><b class="s" style="left:294px;top:223px;background:#161616"></b><b class="s" style="left:294px;top:224px;background:#161616"></b><b class="s" style="left:294px;top:225px;background:#4c4c4c"></b><b class="s" style="left:294px;top:226px;background:#f4f4f4"></b><b class="s" style="left:294px;top:227px;background:#4c4c4c"></b><b class="s" style="left:295px;top:223px;background:#4c4c4c"></b><b class="s" style="left:295px;top:224px;background:#4c4c4c"></b><b class="s" style="left:295px;top:225px;background:#4c4c4c"></b><b class="s" style="left:296px;top:223px;background:#c4c4c4"></b><b class="s" style="left:296px;top:224px;background:#161616"></b><b class="s" style="left:296px;top:225px;background:#161616"></b><b class="s" style="left:297px;top:223px;background:#c4c4c4"></b><b class="s" style="left:298px;top:225px;background:#c4c4c4"></b><b class="s" style="left:299px;top:227px;background:#161616"></b><b class="s" style="left:300px;top:226px;background:#f4f4f4"></b><b class="s" style="left:302px;top:224px;background:#161616"></b><b class="s" style="left:302px;top:225px;background:#161616"></b><b class="s" style="left:304px;top:224px;background:#161616"></b><b class="s" style="left:305px;top:224px;background:#4c4c4c"></b><b class="s" style="left:305px;top:228px;background:#f4f4f4"></b><b class="s" style="left:306px;top:223px;background:#f4f4f4"></b><b class="s" style="left:306px;top:224px;background:#4c4c4c"></b><b class="s" style="left:306px;top:227px;background:#4c4c4c"></b><b class="s" style="left:306px;top:228px;background:#c4c4c4"></b><b class="s" style="left:307px;top:224px;background:#4c4c4c"></b><b class="s" style="left:307px;top:225px;background:#c4c4c4"></b><b class="s" style="left:308px;top:227px;background:#4c4c4c"></b><b class="s" style="left:309px;top:225px;background:#f4f4f4"></b><b class="s" style="left:309px;top:227px;background:#4c4c4c"></b><b class="s" style="left:309px;top:228px;background:#f4f4f4"></b><b class="s" style="left:310px;top:223px;background:#f4f4f4"></b><b class="s" style="left:310px;top:225px;background:#c4c4c4"></b><b class="s" style="left:311px;top:226px;background:#161616"></b><b class="s" style="left:312px;top:223px;background:#f4f4f4"></b><b class="s" style="left:312px;top:226px;background:#c4c4c4"></b><b class="s" style="left:312px;top:228px;background:#f4f4f4"></b><b class="s" style="left:313px;top:224px;background:#4c4c4c"></b><b class="s" style="left:313px;top:227px;background:#4c4c4c"></b><b class="s" style="left:314px;top:224px;background:#4c4c4c"></b><b class="s" style="left:314px;top:225px;background:#161616"></b><b class="s" style="left:314px;top:227px;background:#4c4c4c"></b><b class="s" style="left:315px;top:224px;background:#161616"></b><b class="s" style="left:316px;top:223px;background:#4c4c4c"></b><b class="s" style="left:316px;top:226px;background:#f4f4f4"></b><b class="s" style="left:317px;top:224px;background:#161616"></b><b class="s" style="left:318px;top:223px;background:#f4f4f4"></b><b class="s" style="left:318px;top:224px;background:#f4f4f4"></b><b class="s" style="left:318px;top:225px;background:#4c4c4c"></b><b class="s" style="left:319px;top:225px;background:#c4c4c4"></b><b class="s" style="left:319px;top:227px;background:#4c4c4c"></b><b class="s" style="left:320px;top:226px;background:#4c4c4c"></b><b class="s" style="left:320px;top:227px;background:#4c4c4c"></b><b class="s" style="left:320px;top:228px;background:#f4f4f4"></b><b class="s" style="left:321px;top:223px;background:#f4f4f4"></b><b class="s" style="left:321px;top:226px;background:#161616"></b><b class="s" style="left:322px;top:224px;background:#4c4c4c"></b><b class="s" style="left:322px;top:225px;background:#f4f4f4"></b><b class="s" style="left:322px;top:226px;background:#4c4c4c"></b><b class="s" style="left:323px;top:227px;background:#161616"></b><b class="s" style="left:323px;top:228px;background:#161616"></b><b class="s" style="left:324px;top:224px;background:#161616"></b><b class="s" style="left:325px;top:224px;background:#161616"></b><b class="s" style="left:326px;top:223px;background:#f4f4f4"></b><b class="s" style="left:326px;top:224px;background:#161616"></b><b class="s" style="left:326px;top:226px;background:#f4f4f4"></b><b class="s" style="left:327px;top:224px;background:#161616"></b><b class="s" style="left:328px;top:223px;background:#f4f4f4"></b><b class="s" style="left:328px;top:226px;background:#161616"></b><b class="s" style="left:328px;top:227px;background:#c4c4c4"></b><b class="s" style="left:330px;top:224px;background:#161616"></b><b class="s" style="left:331px;top:224px;background:#161616"></b><b class="s" style="left:331px;top:225px;background:#f4f4f4"></b><b class="s" style="left:331px;top:227px;background:#161616"></b><b class="s" style="left:331px;top:228px;background:#f4f4f4"></b><b class="s" style="left:332px;top:223px;background:#f4f4f4"></b><b class="s" style="left:333px;top:225px;background:#161616"></b><b class="s" style="left:334px;top:226px;background:#c4c4c4"></b><b class="s" style="left:335px;top:223px;background:#f4f4f4"></b><b class="s" style="left:335px;top:224px;background:#161616"></b><b class="s" style="left:335px;top:225px;background:#c4c4c4"></b><b class="s" style="left:335px;top:227px;background:#161616"></b><b class="s" style="left:335px;top:228px;background:#c4c4c4"></b><b class="s" style="left:336px;top:224px;background:#4c4c4c"></b><b class="s" style="left:336px;top:225px;background:#c4c4c4"></b><b class="s" style="left:337px;top:227px;background:#161616"></b><b class="s" style="left:338px;top:226px;background:#4c4c4c"></b><b class="s" style="left:338px;top:227px;background:#161616"></b><b class="s" style="left:339px;top:223px;background:#c4c4c4"></b><b class="s" style="left:339px;top:224px;background:#4c4c4c"></b><b class="s" style="left:339px;top:225px;background:#161616"></b><b class="s" style="left:339px;top:227px;background:#4c4c4c"></b><b class="s" style="left:340px;top:225px;background:#4c4c4c"></b><b class="s" style="left:340px;top:226px;background:#c4c4c4"></b><b class="s" style="left:341px;top:223px;background:#c4c4c4"></b><b class="s" style="left:342px;top:223px;background:#c4c4c4"></b><b class="s" style="left:342px;top:224px;background:#4c4c4c"></b><b class="s" style="left:342px;top:226px;background:#161616"></b><b class="s" style="left:342px;top:227px;background:#161616"></b><b class="s" style="left:343px;top:224px;background:#4c4c4c"></b><b class="s" style="left:344px;top:223px;background:#c4c4c4"></b><b class="s" style="left:345px;top:223px;background:#c4c4c4"></b><b class="s" style="left:345px;top:225px;background:#161616"></b><b class="s" style="left:345px;top:226px;background:#c4c4c4"></b><b class="s" style="left:346px;top:228px;background:#161616"></b><b class="s" style="left:347px;top:224px;background:#161616"></b><b class="s" style="left:347px;top:226px;background:#c4c4c4"></b><b class="s" style="left:348px;top:224px;background:#4c4c4c"></b><b class="s" style="left:348px;top:225px;background:#161616"></b><b class="s" style="left:348px;top:227px;background:#161616"></b><b class="s" style="left:349px;top:223px;background:#f4f4f4"></b><b class="s" style="left:349px;top:227px;background:#4c4c4c"></b><b class="s" style="left:350px;top:224px;background:#161616"></b><b class="s" style="left:350px;top:225px;background:#f4f4f4"></b><b class="s" style="left:350px;top:227px;background:#161616"></b><b class="s" style="left:351px;top:223px;background:#c4c4c4"></b><b class="s" style="left:351px;top:224px;background:#161616"></b><b class="s" style="left:351px;top:227px;background:#161616"></b><b class="s" style="left:351px;top:228px;background:#4c4c4c"></b><b class="s" style="left:352px;top:225px;background:#f4f4f4"></b><b class="s" style="left:352px;top:227px;background:#4c4c4c"></b><b class="s" style="left:353px;top:225px;background:#f4f4f4"></b><b class="s" style="left:354px;top:224px;background:#4c4c4c"></b><b class="s" style="left:354px;top:227px;background:#4c4c4c"></b><b class="s" style="left:355px;top:223px;background:#c4c4c4"></b><b class="s" style="left:356px;top:223px;background:#c4c4c4"></b><b class="s" style="left:356px;top:225px;background:#4c4c4c"></b><b class="s" style="left:356px;top:226px;background:#c4c4c4"></b><b class="s" style="left:357px;top:223px;background:#f4f4f4"></b><b class="s" style="left:357px;top:227px;background:#4c4c4c"></b><b class="s" style="left:358px;top:223px;background:#f4f4f4"></b><b class="s" style="left:358px;top:225px;background:#f4f4f4"></b><b class="s" style="left:358px;top:226px;background:#f4f4f4"></b><b class="s" style="left:359px;top:227px;background:#161616"></b><b class="s" style="left:360px;top:223px;background:#f4f4f4"></b><b class="s" style="left:360px;top:224px;background:#161616"></b><b class="s" style="left:362px;top:223px;background:#f4f4f4"></b><b class="s" style="left:362px;top:225px;background:#4c4c4c"></b><b class="s" style="left:362px;top:227px;background:#161616"></b><b class="s" style="left:362px;top:228px;background:#161616"></b><b class="s" style="left:363px;top:224px;background:#4c4c4c"></b><b class="s" style="left:363px;top:227px;background:#4c4c4c"></b><b class="s" style="left:364px;top:224px;background:#161616"></b><b class="s" style="left:364px;top:225px;background:#4c4c4c"></b><b class="s" style="left:364px;top:227px;background:#161616"></b><b class="s" style="left:365px;top:227px;background:#161616"></b><b class="s" style="left:366px;top:227px;background:#4c4c4c"></b><b class="s" style="left:367px;top:223px;background:#f4f4f4"></b><b class="s" style="left:368px;top:225px;background:#161616"></b><b class="s" style="left:369px;top:227px;background:#4c4c4c"></b><b class="s" style="left:370px;top:223px;background:#f4f4f4"></b><b class="s" style="left:372px;top:225px;background:#161616"></b><b class="s" style="left:373px;top:224px;background:#4c4c4c"></b><b class="s" style="left:374px;top:223px;background:#c4c4c4"></b><b class="s" style="left:374px;top:225px;background:#161616"></b><b class="s" style="left:374px;top:228px;background:#4c4c4c"></b><b class="s" style="left:375px;top:225px;background:#4c4c4c"></b><b class="s" style="left:375px;top:226px;background:#161616"></b><b class="s" style="left:375px;top:227px;background:#161616"></b><b class="s" style="left:376px;top:223px;background:#f4f4f4"></b><b class="s" style="left:376px;top:224px;background:#161616"></b><b class="s" style="left:376px;top:225px;background:#c4c4c4"></b><b class="s" style="left:376px;top:227px;background:#161616"></b><b class="s" style="left:377px;top:225px;background:#f4f4f4"></b><b class="s" style="left:377px;top:226px;background:#c4c4c4"></b><b class="s" style="left:378px;top:223px;background:#c4c4c4"></b><b class="s" style="left:378px;top:224px;background:#4c4c4c"></b><b class="s" style="left:378px;top:225px;background:#4c4c4c"></b><b class="s" style="left:378px;top:227px;background:#4c4c4c"></b><b class="s" style="left:379px;top:224px;background:#161616"></b><b class="s" style="left:380px;top:224px;background:#f4f4f4"></b><b class="s" style="left:380px;top:228px;background:#f4f4f4"></b><b class="s" style="left:381px;top:223px;background:#f4f4f4"></b><b class="s" style="left:381px;top:224px;background:#161616"></b><b class="s" style="left:381px;top:227px;background:#4c4c4c"></b><b class="s" style="left:381px;top:228px;background:#c4c4c4"></b><b class="s" style="left:382px;top:226px;background:#161616"></b><b class="s" style="left:383px;top:224px;background:#161616"></b><b class="s" style="left:383px;top:225px;background:#c4c4c4"></b><b class="s" style="left:383px;top:226px;background:#161616"></b><b class="s" style="left:384px;top:227px;background:#161616"></b><b class="s" style="left:385px;top:224px;background:#4c4c4c"></b><b class="s" style="left:385px;top:225px;background:#f4f4f4"></b><b class="s" style="left:386px;top:224px;background:#161616"></b><b class="s" style="left:386px;top:225px;background:#4c4c4c"></b><b class="s" style="left:386px;top:228px;background:#f4f4f4"></b><b class="s" style="left:387px;top:224px;background:#4c4c4c"></b><b class="s" style="left:387px;top:225px;background:#161616"></b><b class="s" style="left:387px;top:227px;background:#4c4c4c"></b><b class="s" style="left:388px;top:226px;background:#4c4c4c"></b><b class="s" style="left:389px;top:223px;background:#f4f4f4"></b><b class="s" style="left:389px;top:224px;background:#161616"></b><b class="s" style="left:389px;top:227px;background:#161616"></b><b class="s" style="left:390px;top:224px;background:#161616"></b><b class="s" style="left:391px;top:224px;background:#f4f4f4"></b><b class="s" style="left:391px;top:225px;background:#161616"></b><b class="s" style="left:391px;top:226px;background:#f4f4f4"></b><b class="s" style="left:391px;top:227px;background:#4c4c4c"></b><b class="s" style="left:391px;top:228px;background:#c4c4c4"></b><b class="s" style="left:392px;top:224px;background:#c4c4c4"></b><b class="s" style="left:392px;top:225px;background:#4c4c4c"></b><b class="s" style="left:393px;top:228px;background:#c4c4c4"></b><b class="s" style="left:394px;top:227px;background:#4c4c4c"></b><b class="s" style="left:394px;top:228px;background:#161616"></b><b class="s" style="left:395px;top:223px;background:#f4f4f4"></b><b class="s" style="left:395px;top:225px;background:#f4f4f4"></b><b class="s" style="left:395px;top:226px;background:#161616"></b><b class="s" style="left:396px;top:224px;background:#161616"></b><b class="s" style="left:396px;top:225px;background:#f4f4f4"></b><b class="s" style="left:396px;top:227px;background:#161616"></b><b class="s" style="left:396px;top:228px;background:#f4f4f4"></b><b class="s" style="left:397px;top:223px;background:#f4f4f4"></b><b class="s" style="left:397px;top:227px;background:#4c4c4c"></b><b class="s" style="left:398px;top:224px;background:#161616"></b><b class="s" style="left:398px;top:225px;background:#f4f4f4"></b><b class="s" style="left:398px;top:227px;background:#4c4c4c"></b><b class="s" style="left:398px;top:228px;background:#c4c4c4"></b><b class="s" style="left:399px;top:223px;background:#c4c4c4"></b><b class="s" style="left:399px;top:224px;background:#161616"></b><b class="s" style="left:399px;top:227px;background:#161616"></b><b class="s" style="left:400px;top:223px;background:#f4f4f4"></b><b class="s" style="left:400px;top:224px;background:#4c4c4c"></b><b class="s" style="left:400px;top:225px;background:#161616"></b><b class="s" style="left:400px;top:228px;background:#c4c4c4"></b><b class="s" style="left:401px;top:223px;background:#c4c4c4"></b><b class="s" style="left:401px;top:224px;background:#4c4c4c"></b><b class="s" style="left:402px;top:227px;background:#4c4c4c"></b><b class="s" style="left:403px;top:228px;background:#f4f4f4"></b><b class="s" style="left:404px;top:225px;background:#f4f4f4"></b><b class="s" style="left:404px;top:226px;background:#f4f4f4"></b><b class="s" style="left:405px;top:224px;background:#f4f4f4"></b><b class="s" style="left:406px;top:223px;background:#4c4c4c"></b><b class="s" style="left:406px;top:224px;background:#161616"></b><b class="s" style="left:407px;top:227px;background:#f4f4f4"></b><b class="s" style="left:408px;top:228px;background:#161616"></b><b class="s" style="left:409px;top:223px;background:#c4c4c4"></b><b class="s" style="left:410px;top:224px;background:#161616"></b><b class="s" style="left:410px;top:225px;background:#c4c4c4"></b><b class="s" style="left:412px;top:226px;background:#f4f4f4"></b><b class="s" style="left:412px;top:228px;background:#c4c4c4"></b><b class="s" style="left:413px;top:223px;background:#f4f4f4"></b><b class="s" style="left:413px;top:224px;background:#4c4c4c"></b><b class="s" style="left:413px;top:227px;background:#161616"></b><b class="s" style="left:414px;top:225px;background:#4c4c4c"></b><b class="s" style="left:414px;top:227px;background:#f4f4f4"></b><b class="s" style="left:415px;top:224px;background:#c4c4c4"></b><b class="s" style="left:420px;top:225px;background:#4c4c4c"></b><b class="s" style="left:421px;top:225px;background:#c4c4c4"></b><b class="s" style="left:421px;top:227px;background:#161616"></b><b class="s" style="left:423px;top:227px;background:#4c4c4c"></b><b class="s" style="left:424px;top:225px;background:#f4f4f4"></b><b class="s" style="left:424px;top:226px;background:#161616"></b><b class="s" style="left:425px;top:225px;background:#f4f4f4"></b><b class="s" style="left:428px;top:225px;background:#c4c4c4"></b><b class="s" style="left:429px;top:227px;background:#161616"></b><b class="s" style="left:431px;top:226px;background:#c4c4c4"></b><b class="s" style="left:432px;top:227px;background:#161616"></b><b class="s" style="left:434px;top:225px;background:#161616"></b><b class="s" style="left:434px;top:226px;background:#161616"></b><b class="s" style="left:435px;top:224px;background:#f4f4f4"></b><b class="s" style="left:435px;top:225px;background:#f4f4f4"></b><b class="s" style="left:435px;top:226px;background:#161616"></b><b class="s" style="left:436px;top:226px;background:#c4c4c4"></b><b class="s" style="left:437px;top:226px;background:#c4c4c4"></b><b class="s" style="left:438px;top:224px;background:#161616"></b><b class="s" style="left:438px;top:226px;background:#161616"></b><b class="s" style="left:439px;top:225px;background:#c4c4c4"></b><b class="s" style="left:440px;top:225px;background:#c4c4c4"></b><b class="s" style="left:441px;top:225px;background:#c4c4c4"></b><b class="s" style="left:442px;top:226px;background:#4c4c4c"></b><b class="s" style="left:447px;top:225px;background:#4c4c4c"></b><b class="s" style="left:450px;top:224px;background:#c4c4c4"></b><b class="s" style="left:452px;top:224px;background:#f4f4f4"></b><b class="s" style="left:452px;top:225px;background:#c4c4c4"></b><b class="s" style="left:454px;top:226px;background:#c4c4c4"></b><b class="s" style="left:455px;top:225px;background:#c4c4c4"></b><b class="s" style="left:456px;top:224px;background:#161616"></b><b class="s" style="left:458px;top:225px;background:#c4c4c4"></b><b class="s" style="left:459px;top:226px;background:#161616"></b><b class="s" style="left:460px;top:224px;background:#4c4c4c"></b><b class="s" style="left:464px;top:226px;background:#161616"></b><b class="s" style="left:464px;top:227px;background:#161616"></b><b class="s" style="left:466px;top:226px;background:#c4c4c4"></b><b class="s" style="left:467px;top:227px;background:#c4c4c4"></b><b class="s" style="left:471px;top:226px;background:#4c4c4c"></b><b class="s" style="left:474px;top:226px;background:#161616"></b><b class="s" style="left:476px;top:226px;background:#161616"></b><b class="s" style="left:478px;top:226px;background:#161616"></b><b class="s" style="left:479px;top:225px;background:#161616"></b><b class="s" style="left:480px;top:224px;background:#4c4c4c"></b><b class="s" style="left:480px;top:225px;background:#c4c4c4"></b><b class="s" style="left:483px;top:224px;background:#161616"></b><b class="s" style="left:485px;top:226px;background:#161616"></b><b class="s" style="left:488px;top:224px;background:#c4c4c4"></b><b class="s" style="left:488px;top:226px;background:#161616"></b><b class="s" style="left:490px;top:225px;background:#c4c4c4"></b><b class="s" style="left:491px;top:226px;background:#161616"></b><b class="s" style="left:492px;top:225px;background:#f4f4f4"></b><b class="s" style="left:496px;top:225px;background:#c4c4c4"></b><b class="s" style="left:498px;top:226px;background:#161616"></b><b class="s" style="left:499px;top:225px;background:#4c4c4c"></b><b class="s" style="left:501px;top:225px;background:#c4c4c4"></b><b class="s" style="left:502px;top:226px;background:#161616"></b><b class="s" style="left:505px;top:224px;background:#f4f4f4"></b><b class="s" style="left:505px;top:225px;background:#c4c4c4"></b><b class="s" style="left:508px;top:224px;background:#c4c4c4"></b><b class="s" style="left:509px;top:225px;background:#4c4c4c"></b><b class="s" style="left:509px;top:227px;background:#4c4c4c"></b><b class="s" style="left:511px;top:227px;background:#4c4c4c"></b><b class="s" style="left:513px;top:225px;background:#f4f4f4"></b><b class="s" style="left:515px;top:225px;background:#f4f4f4"></b><b class="s" style="left:517px;top:226px;background:#4c4c4c"></b><b class="s" style="left:517px;top:227px;background:#4c4c4c"></b><b class="s" style="left:518px;top:226px;background:#161616"></b><b class="s" style="left:519px;top:224px;background:#f4f4f4"></b><b class="s" style="left:521px;top:226px;background:#c4c4c4"></b><b class="s" style="left:522px;top:226px;background:#c4c4c4"></b><b class="s" style="left:524px;top:226px;background:#161616"></b><b class="s" style="left:525px;top:224px;background:#161616"></b><b class="s" style="left:525px;top:226px;background:#c4c4c4"></b><b class="s" style="left:526px;top:225px;background:#161616"></b><b class="s" style="left:528px;top:226px;background:#161616"></b><b class="s" style="left:529px;top:226px;background:#c4c4c4"></b><b class="s" style="left:530px;top:226px;background:#161616"></b><b class="s" style="left:530px;top:227px;background:#161616"></b><b class="s" style="left:531px;top:226px;background:#161616"></b><b class="s" style="left:532px;top:225px;background:#4c4c4c"></b><b class="s" style="left:533px;top:225px;background:#c4c4c4"></b><b class="s" style="left:534px;top:225px;background:#c4c4c4"></b><b class="s" style="left:539px;top:226px;background:#161616"></b><b class="s" style="left:539px;top:227px;background:#4c4c4c"></b><b class="s" style="left:540px;top:225px;background:#f4f4f4"></b><b class="s" style="left:541px;top:225px;background:#4c4c4c"></b><b class="s" style="left:541px;top:226px;background:#161616"></b><b class="s" style="left:544px;top:227px;background:#161616"></b><b class="s" style="left:545px;top:226px;background:#c4c4c4"></b><b class="s" style="left:545px;top:227px;background:#f4f4f4"></b><b class="s" style="left:546px;top:225px;background:#f4f4f4"></b><b class="s" style="left:546px;top:226px;background:#f4f4f4"></b><b class="s" style="left:547px;top:224px;background:#f4f4f4"></b><b class="s" style="left:547px;top:227px;background:#c4c4c4"></b><b class="s" style="left:549px;top:226px;background:#f4f4f4"></b><b class="s" style="left:550px;top:225px;background:#c4c4c4"></b><b class="s" style="left:550px;top:226px;background:#f4f4f4"></b><b class="s" style="left:550px;top:227px;background:#4c4c4c"></b><b class="s" style="left:551px;top:224px;background:#c4c4c4"></b><b class="s" style="left:551px;top:225px;background:#4c4c4c"></b><b class="s" style="left:552px;top:225px;background:#f4f4f4"></b><b class="s" style="left:552px;top:226px;background:#161616"></b><b class="s" style="left:553px;top:224px;background:#f4f4f4"></b><b class="s" style="left:553px;top:226px;background:#c4c4c4"></b><b class="s" style="left:554px;top:226px;background:#f4f4f4"></b><b class="s" style="left:554px;top:228px;background:#f4f4f4"></b><b class="s" style="left:555px;top:226px;background:#c4c4c4"></b><b class="s" style="left:556px;top:225px;background:#c4c4c4"></b><b class="s" style="left:556px;top:227px;background:#161616"></b><b class="s" style="left:557px;top:225px;background:#c4c4c4"></b><b class="s" style="left:557px;top:226px;background:#f4f4f4"></b><b class="s" style="left:558px;top:225px;background:#c4c4c4"></b><b class="s" style="left:558px;top:227px;background:#161616"></b><b class="s" style="left:559px;top:225px;background:#f4f4f4"></b><b class="s" style="left:561px;top:224px;background:#f4f4f4"></b><b class="s" style="left:561px;top:227px;background:#c4c4c4"></b><b class="s" style="left:562px;top:225px;background:#c4c4c4"></b><b class="s" style="left:563px;top:225px;background:#c4c4c4"></b><b class="s" style="left:564px;top:226px;background:#c4c4c4"></b><b class="s" style="left:564px;top:227px;background:#4c4c4c"></b><b class="s" style="left:564px;top:229px;background:#c4c4c4"></b><b class="s" style="left:565px;top:224px;background:#c4c4c4"></b><b class="s" style="left:565px;top:229px;background:#c4c4c4"></b><b class="s" style="left:566px;top:226px;background:#4c4c4c"></b><b class="s" style="left:567px;top:225px;background:#f4f4f4"></b><b class="s" style="left:567px;top:226px;background:#f4f4f4"></b><b class="s" style="left:568px;top:224px;background:#c4c4c4"></b><b class="s" style="left:568px;top:225px;background:#f4f4f4"></b><b class="s" style="left:568px;top:226px;background:#4c4c4c"></b><b class="s" style="left:569px;top:225px;background:#f4f4f4"></b><b class="s" style="left:569px;top:226px;background:#f4f4f4"></b><b class="s" style="left:569px;top:227px;background:#161616"></b><b class="s" style="left:571px;top:225px;background:#c4c4c4"></b><b class="s" style="left:571px;top:226px;background:#c4c4c4"></b><b class="s" style="left:571px;top:229px;background:#c4c4c4"></b><b class="s" style="left:572px;top:227px;background:#161616"></b><b class="s" style="left:573px;top:226px;background:#4c4c4c"></b><b class="s" style="left:573px;top:229px;background:#f4f4f4"></b><b class="s" style="left:574px;top:225px;background:#f4f4f4"></b><b class="s" style="left:574px;top:226px;background:#c4c4c4"></b><b class="s" style="left:575px;top:225px;background:#c4c4c4"></b><b class="s" style="left:575px;top:226px;background:#4c4c4c"></b><b class="s" style="left:576px;top:224px;background:#c4c4c4"></b><b class="s" style="left:576px;top:225px;background:#f4f4f4"></b><b class="s" style="left:576px;top:229px;background:#f4f4f4"></b><b class="s" style="left:579px;top:226px;background:#c4c4c4"></b><b class="s" style="left:580px;top:224px;background:#c4c4c4"></b><b class="s" style="left:581px;top:226px;background:#c4c4c4"></b><b class="s" style="left:581px;top:228px;background:#f4f4f4"></b><b class="s" style="left:583px;top:225px;background:#c4c4c4"></b><b class="s" style="left:583px;top:226px;background:#4c4c4c"></b><b class="s" style="left:584px;top:224px;background:#4c4c4c"></b><b class="s" style="left:584px;top:225px;background:#161616"></b><b class="s" style="left:584px;top:226px;background:#f4f4f4"></b><b class="s" style="left:584px;top:227px;background:#c4c4c4"></b><b class="s" style="left:586px;top:225px;background:#f4f4f4"></b><b class="s" style="left:586px;top:228px;background:#161616"></b><b class="s" style="left:587px;top:226px;background:#f4f4f4"></b><b class="s" style="left:588px;top:224px;background:#c4c4c4"></b><b class="s" style="left:589px;top:226px;background:#f4f4f4"></b><b class="s" style="left:589px;top:227px;background:#4c4c4c"></b><b class="s" style="left:589px;top:228px;background:#161616"></b><b class="s" style="left:590px;top:225px;background:#f4f4f4"></b><b class="s" style="left:592px;top:226px;background:#4c4c4c"></b><b class="s" style="left:593px;top:225px;background:#f4f4f4"></b><b class="s" style="left:593px;top:227px;background:#4c4c4c"></b><b class="s" style="left:594px;top:225px;background:#f4f4f4"></b><b class="s" style="left:595px;top:228px;background:#c4c4c4"></b><b class="s" style="left:596px;top:225px;background:#c4c4c4"></b><b class="s" style="left:597px;top:225px;background:#c4c4c4"></b><b class="s" style="left:597px;top:227px;background:#4c4c4c"></b><b class="s" style="left:598px;top:226px;background:#c4c4c4"></b><b class="s" style="left:598px;top:228px;background:#4c4c4c"></b><b class="s" style="left:599px;top:225px;background:#f4f4f4"></b><b class="s" style="left:599px;top:227px;background:#4c4c4c"></b><b class="s" style="left:600px;top:225px;background:#c4c4c4"></b><b class="s" style="left:601px;top:225px;background:#f4f4f4"></b><b class="s" style="left:601px;top:226px;background:#c4c4c4"></b><b class="s" style="left:601px;top:227px;background:#161616"></b><b class="s" style="left:603px;top:225px;background:#c4c4c4"></b><b class="s" style="left:603px;top:227px;background:#161616"></b><b class="s" style="left:605px;top:226px;background:#c4c4c4"></b><b class="s" style="left:605px;top:227px;background:#4c4c4c"></b><b class="s" style="left:605px;top:228px;background:#4c4c4c"></b><b class="s" style="left:608px;top:225px;background:#4c4c4c"></b><b class="s" style="left:608px;top:227px;background:#4c4c4c"></b><b class="s" style="left:609px;top:225px;background:#c4c4c4"></b><b class="s" style="left:609px;top:226px;background:#f4f4f4"></b><b class="s" style="left:609px;top:227px;background:#161616"></b><b class="s" style="left:610px;top:225px;background:#f4f4f4"></b><b class="s" style="left:611px;top:229px;background:#f4f4f4"></b><b class="s" style="left:612px;top:226px;background:#161616"></b><b class="s" style="left:615px;top:226px;background:#c4c4c4"></b><b class="s" style="left:615px;top:227px;background:#4c4c4c"></b><b class="s" style="left:617px;top:227px;background:#161616"></b><b class="s" style="left:617px;top:228px;background:#4c4c4c"></b><b class="s" style="left:618px;top:225px;background:#c4c4c4"></b><b class="s" style="left:618px;top:226px;background:#4c4c4c"></b><b class="s" style="left:618px;top:227px;background:#161616"></b><b class="s" style="left:619px;top:225px;background:#161616"></b><b class="s" style="left:619px;top:226px;background:#c4c4c4"></b><b class="s" style="left:620px;top:225px;background:#f4f4f4"></b><b class="s" style="left:621px;top:229px;background:#c4c4c4"></b><b class="s" style="left:622px;top:225px;background:#f4f4f4"></b><b class="s" style="left:622px;top:226px;background:#c4c4c4"></b><b class="s" style="left:624px;top:225px;background:#c4c4c4"></b><b class="s" style="left:624px;top:229px;background:#f4f4f4"></b><b class="s" style="left:625px;top:225px;background:#f4f4f4"></b><b class="s" style="left:625px;top:228px;background:#161616"></b><b class="s" style="left:626px;top:224px;background:#4c4c4c"></b><b class="s" style="left:626px;top:225px;background:#f4f4f4"></b><b class="s" style="left:627px;top:225px;background:#c4c4c4"></b><b class="s" style="left:627px;top:226px;background:#161616"></b><b class="s" style="left:627px;top:227px;background:#4c4c4c"></b><b class="s" style="left:629px;top:225px;background:#f4f4f4"></b><b class="s" style="left:5px;top:199px;background:#2a2a2a"></b><b class="s" style="left:6px;top:199px;background:#e4e4e4"></b><b class="s" style="left:21px;top:199px;background:#2a2a2a"></b><b class="s" style="left:28px;top:199px;background:#2a2a2a"></b><b class="s" style="left:50px;top:199px;background:#2a2a2a"></b><b class="s" style="left:51px;top:199px;background:#2a2a2a"></b><b class="s" style="left:56px;top:199px;background:#2a2a2a"></b><b class="s" style="left:99px;top:199px;background:#2a2a2a"></b><b class="s" style="left:110px;top:199px;background:#2a2a2a"></b><b class="s" style="left:131px;top:199px;background:#e4e4e4"></b><b class="s" style="left:133px;top:199px;background:#e4e4e4"></b><b class="s" style="left:154px;top:199px;background:#e4e4e4"></b><b class="s" style="left:177px;top:199px;background:#2a2a2a"></b><b class="s" style="left:189px;top:199px;background:#2a2a2a"></b><b class="s" style="left:193px;top:199px;background:#2a2a2a"></b><b class="s" style="left:207px;top:199px;background:#2a2a2a"></b><b class="s" style="left:270px;top:199px;background:#2a2a2a"></b><b class="s" style="left:293px;top:199px;background:#2a2a2a"></b><b class="s" style="left:297px;top:199px;background:#e4e4e4"></b><b class="s" style="left:317px;top:199px;background:#e4e4e4"></b><b class="s" style="left:319px;top:199px;background:#2a2a2a"></b><b class="s" style="left:327px;top:199px;background:#2a2a2a"></b><b class="s" style="left:354px;top:199px;background:#2a2a2a"></b><b class="s" style="left:366px;top:199px;background:#2a2a2a"></b><b class="s" style="left:372px;top:199px;background:#2a2a2a"></b><b class="s" style="left:385px;top:199px;background:#e4e4e4"></b><b class="s" style="left:388px;top:199px;background:#e4e4e4"></b><b class="s" style="left:399px;top:199px;background:#2a2a2a"></b><b class="s" style="left:448px;top:199px;background:#2a2a2a"></b><b class="s" style="left:451px;top:199px;background:#e4e4e4"></b><b class="s" style="left:457px;top:199px;background:#2a2a2a"></b><b class="s" style="left:466px;top:199px;background:#2a2a2a"></b><b class="s" style="left:472px;top:199px;background:#e4e4e4"></b><b class="s" style="left:484px;top:199px;background:#2a2a2a"></b><b class="s" style="left:490px;top:199px;background:#2a2a2a"></b><b class="s" style="left:521px;top:199px;background:#e4e4e4"></b><b class="s" style="left:549px;top:199px;background:#2a2a2a"></b><b class="s" style="left:560px;top:199px;background:#2a2a2a"></b><b class="s" style="left:577px;top:199px;background:#2a2a2a"></b><b class="s" style="left:585px;top:199px;background:#2a2a2a"></b><b class="s" style="left:588px;top:199px;background:#2a2a2a"></b><b class="s" style="left:591px;top:199px;background:#2a2a2a"></b><b class="s" style="left:593px;top:199px;background:#2a2a2a"></b><b class="s" style="left:597px;top:199px;background:#2a2a2a"></b><b class="s" style="left:619px;top:199px;background:#e4e4e4"></b><b class="s" style="left:9px;top:218px;background:#e0e0e0"></b><b class="s" style="left:25px;top:218px;background:#333"></b><b class="s" style="left:28px;top:218px;background:#e0e0e0"></b><b class="s" style="left:53px;top:218px;background:#e0e0e0"></b><b class="s" style="left:64px;top:218px;background:#e0e0e0"></b><b class="s" style="left:76px;top:218px;background:#333"></b><b class="s" style="left:126px;top:218px;background:#e0e0e0"></b><b class="s" style="left:149px;top:218px;background:#e0e0e0"></b><b class="s" style="left:179px;top:218px;background:#e0e0e0"></b><b class="s" style="left:182px;top:218px;background:#333"></b><b class="s" style="left:196px;top:218px;background:#e0e0e0"></b><b class="s" style="left:253px;top:218px;background:#e0e0e0"></b><b class="s" style="left:268px;top:218px;background:#333"></b><b class="s" style="left:289px;top:218px;background:#e0e0e0"></b><b class="s" style="left:294px;top:218px;background:#e0e0e0"></b><b class="s" style="left:301px;top:218px;background:#333"></b><b class="s" style="left:330px;top:218px;background:#333"></b><b class="s" style="left:347px;top:218px;background:#333"></b><b class="s" style="left:384px;top:218px;background:#333"></b><b class="s" style="left:459px;top:218px;background:#e0e0e0"></b><b class="s" style="left:507px;top:218px;background:#e0e0e0"></b><b class="s" style="left:512px;top:218px;background:#e0e0e0"></b><b class="s" style="left:536px;top:218px;background:#e0e0e0"></b><b class="s" style="left:544px;top:218px;background:#333"></b><b class="s" style="left:556px;top:218px;background:#333"></b><b class="s" style="left:609px;top:218px;background:#e0e0e0"></b><b class="s" style="left:621px;top:218px;background:#e0e0e0"></b><b class="s" style="left:210px;top:54px;background:#707070"></b><b class="s" style="left:213px;top:54px;background:#a4a4a4"></b><b class="s" style="left:219px;top:54px;background:#707070"></b><b class="s" style="left:229px;top:54px;background:#a4a4a4"></b><b class="s" style="left:230px;top:54px;background:#707070"></b><b class="s" style="left:231px;top:54px;background:#a4a4a4"></b><b class="s" style="left:234px;top:54px;background:#707070"></b><b class="s" style="left:236px;top:54px;background:#a4a4a4"></b><b class="s" style="left:240px;top:54px;background:#707070"></b><b class="s" style="left:241px;top:54px;background:#707070"></b><b class="s" style="left:244px;top:54px;background:#707070"></b><b class="s" style="left:246px;top:54px;background:#707070"></b><b class="s" style="left:249px;top:54px;background:#a4a4a4"></b><b class="s" style="left:253px;top:54px;background:#707070"></b><b class="s" style="left:255px;top:54px;background:#707070"></b><b class="s" style="left:259px;top:54px;background:#707070"></b><b class="s" style="left:260px;top:54px;background:#707070"></b><b class="s" style="left:264px;top:54px;background:#707070"></b><b class="s" style="left:267px;top:54px;background:#707070"></b><b class="s" style="left:268px;top:54px;background:#707070"></b><b class="s" style="left:270px;top:54px;background:#a4a4a4"></b><b class="s" style="left:272px;top:54px;background:#707070"></b><b class="s" style="left:16px;top:54px;background:#a4a4a4"></b><b class="s" style="left:21px;top:54px;background:#707070"></b><b class="s" style="left:29px;top:54px;background:#a4a4a4"></b><b class="s" style="left:36px;top:54px;background:#a4a4a4"></b><b class="s" style="left:38px;top:54px;background:#a4a4a4"></b><b class="s" style="left:39px;top:54px;background:#707070"></b><b class="s" style="left:41px;top:54px;background:#707070"></b><b class="s" style="left:186px;top:54px;background:#707070"></b><b class="s" style="left:188px;top:54px;background:#707070"></b><b class="s" style="left:189px;top:54px;background:#707070"></b><b class="s" style="left:197px;top:54px;background:#a4a4a4"></b><b class="s" style="left:198px;top:54px;background:#707070"></b><b class="s" style="left:199px;top:54px;background:#707070"></b><b class="s" style="left:200px;top:54px;background:#a4a4a4"></b><b class="s" style="left:201px;top:54px;background:#707070"></b><b class="s" style="left:202px;top:54px;background:#a4a4a4"></b><b class="s" style="left:204px;top:54px;background:#707070"></b><b class="s" style="left:15px;top:54px;background:#444"></b><b class="s" style="left:16px;top:54px;background:#444"></b><b class="s" style="left:18px;top:54px;background:#444"></b><b class="s" style="left:20px;top:54px;background:#444"></b><b class="s" style="left:21px;top:54px;background:#444"></b><b class="s" style="left:9px;top:210px;width:2px;background:#f4f4f4"></b><b class="s" style="left:29px;top:210px;width:2px;background:#f4f4f4"></b><b class="s" style="left:49px;top:210px;width:2px;background:#f4f4f4"></b><b class="s" style="left:69px;top:210px;width:2px;background:#f4f4f4"></b><b class="s" style="left:79px;top:210px;width:2px;background:#f4f4f4"></b><b class="s" style="left:104px;top:210px;width:2px;background:#f4f4f4"></b><b class="s" style="left:133px;top:210px;width:2px;background:#f4f4f4"></b><b class="s" style="left:158px;top:210px;width:2px;background:#f4f4f4"></b><b class="s" style="left:530px;top:198px;background:#cfcfcf"></b><b class="s" style="left:530px;top:199px;background:#cfcfcf"></b><b class="s" style="left:530px;top:200px;background:#cfcfcf"></b><b class="s" style="left:530px;top:201px;background:#cfcfcf"></b><b class="s" style="left:530px;top:202px;background:#cfcfcf"></b><b class="s" style="left:530px;top:203px;background:#cfcfcf"></b><b class="s" style="left:530px;top:204px;background:#cfcfcf"></b><b class="s" style="left:530px;top:205px;background:#cfcfcf"></b><b class="s" style="left:530px;top:206px;background:#cfcfcf"></b><b class="s" style="left:530px;top:207px;background:#cfcfcf"></b><b class="s" style="left:530px;top:208px;background:#cfcfcf"></b><b class="s" style="left:530px;top:209px;background:#cfcfcf"></b><b class="s" style="left:530px;top:210px;background:#cfcfcf"></b><b class="s" style="left:530px;top:211px;background:#cfcfcf"></b><b class="s" style="left:530px;top:212px;background:#cfcfcf"></b><b class="s" style="left:530px;top:213px;background:#cfcfcf"></b><b class="s" style="left:530px;top:214px;background:#e8e8e8"></b><b class="s" style="left:530px;top:215px;background:#e8e8e8"></b><b class="s" style="left:530px;top:216px;background:#e8e8e8"></b><b class="s" style="left:530px;top:217px;background:#e8e8e8"></b><b class="s" style="left:530px;top:218px;background:#e8e8e8"></b><b class="s" style="left:234px;top:197px;background:#c4c4c4"></b><b class="s" style="left:234px;top:198px;background:#c4c4c4"></b><b class="s" style="left:234px;top:199px;background:#c4c4c4"></b><b class="s" style="left:234px;top:200px;background:#c4c4c4"></b><b class="s" style="left:234px;top:201px;background:#c4c4c4"></b><b class="s" style="left:234px;top:202px;background:#c4c4c4"></b><b class="s" style="left:234px;top:203px;background:#c4c4c4"></b><b class="s" style="left:234px;top:204px;background:#c4c4c4"></b><b class="s" style="left:234px;top:205px;background:#c4c4c4"></b><b class="s" style="left:234px;top:206px;background:#c4c4c4"></b><b class="s" style="left:234px;top:207px;background:#c4c4c4"></b><b class="s" style="left:234px;top:208px;background:#c4c4c4"></b><b class="s" style="left:234px;top:209px;background:#c4c4c4"></b><b class="s" style="left:233px;top:208px;background:#e6e6e6"></b><b class="s" style="left:233px;top:209px;background:#e6e6e6"></b><b class="s" style="left:233px;top:210px;background:#e6e6e6"></b><b class="s" style="left:233px;top:211px;background:#e6e6e6"></b><b class="s" style="left:233px;top:212px;background:#e6e6e6"></b><b class="s" style="left:233px;top:213px;background:#e6e6e6"></b><b class="s" style="left:233px;top:214px;background:#e6e6e6"></b><b class="s" style="left:233px;top:215px;background:#e6e6e6"></b><b class="s" style="left:318px;top:189px;width:8px;background:#e4e4e4"></b><b class="s" style="left:183px;top:183px;background:#333"></b><b class="s" style="left:245px;top:201px;background:#e0e0e0"></b><b class="s" style="left:346px;top:85px;background:#333"></b><b class="s" style="left:549px;top:209px;background:#e0e0e0"></b><b class="s" style="left:554px;top:134px;background:#333"></b><b class="s" style="left:571px;top:109px;background:#333"></b><b class="s" style="left:570px;top:118px;background:#333"></b><b class="s" style="left:355px;top:64px;background:#e0e0e0"></b><b class="s" style="left:412px;top:94px;background:#333"></b><b class="s" style="left:388px;top:128px;background:#e0e0e0"></b><b class="s" style="left:133px;top:208px;background:#333"></b><b class="s" style="left:398px;top:197px;background:#333"></b><b class="s" style="left:564px;top:182px;background:#e0e0e0"></b><b class="s" style="left:36px;top:123px;background:#e0e0e0"></b><b class="s" style="left:466px;top:187px;background:#e0e0e0"></b><b class="s" style="left:169px;top:99px;background:#333"></b><b class="s" style="left:369px;top:108px;background:#e0e0e0"></b><b class="s" style="left:33px;top:198px;background:#e0e0e0"></b><b class="s" style="left:145px;top:205px;background:#e0e0e0"></b><b class="s" style="left:223px;top:102px;background:#333"></b><b class="s" style="left:21px;top:189px;background:#e0e0e0"></b><b class="s" style="left:614px;top:89px;background:#333"></b><b class="s" style="left:125px;top:217px;background:#333"></b><b class="s" style="left:85px;top:192px;background:#e0e0e0"></b><b class="s" style="left:463px;top:80px;background:#333"></b><b class="s" style="left:63px;top:124px;background:#e0e0e0"></b><b class="s" style="left:15px;top:94px;width:2px;background:#1c1c1c"></b><b class="s" style="left:223px;top:131px;width:2px;background:#1c1c1c"></b><b class="s" style="left:303px;top:48px;width:2px;background:#1c1c1c"></b><b class="s" style="left:539px;top:43px;width:2px;background:#1c1c1c"></b><b class="s" style="left:598px;top:36px;width:2px;background:#1c1c1c"></b><b class="s" style="left:289px;top:8px;width:2px;background:#1c1c1c"></b></div>
<div class="c" style="top:352px;background:linear-gradient(#fff,#000)"></div>
<svg width="789" height="617" viewBox="0 0 789 617" style="position:absolute;left:0;top:0;will-change:transform" font-family="Liberation Sans, sans-serif" fill="#000">
<rect x="57.5" y="59.5" width="630.0" height="231.9" fill="none" stroke="#000" stroke-width="1.11"/>
<rect x="692.5" y="59.5" width="10.2" height="231.9" fill="none" stroke="#000" stroke-width="1.11"/>
<rect x="57.5" y="352.4" width="630.0" height="230.9" fill="none" stroke="#000" stroke-width="1.11"/>
<rect x="692.5" y="352.4" width="10.2" height="230.9" fill="none" stroke="#000" stroke-width="1.11"/>
<path d="M52.6 76.3H57.5M52.6 369.2H57.5M52.6 118.6H57.5M52.6 411.5H57.5M52.6 160.8H57.5M52.6 453.7H57.5M52.6 203.0H57.5M52.6 495.9H57.5M52.6 245.3H57.5M52.6 538.2H57.5M52.6 287.5H57.5M52.6 580.4H57.5M162.5 291.4V296.3M162.5 583.3V588.2M267.5 291.4V296.3M267.5 583.3V588.2M372.5 291.4V296.3M372.5 583.3V588.2M477.5 291.4V296.3M477.5 583.3V588.2M582.5 291.4V296.3M582.5 583.3V588.2M702.7 62.1h2.8M702.7 125.3h2.8M702.7 232.5h4.9M702.7 248.5h2.8M702.7 266.0h2.8M702.7 287.5h2.8M702.7 375.0h4.9M702.7 421.3h4.9M702.7 467.6h4.9M702.7 513.9h4.9M702.7 560.2h4.9" stroke="#000" stroke-width="1.11" fill="none"/>
<text x="30.5" y="80.9" font-size="13.9" text-anchor="start" textLength="16.4" lengthAdjust="spacingAndGlyphs" >80</text>
<text x="30.5" y="373.9" font-size="13.9" text-anchor="start" textLength="16.4" lengthAdjust="spacingAndGlyphs" >80</text>
<text x="30.5" y="123.2" font-size="13.9" text-anchor="start" textLength="16.4" lengthAdjust="spacingAndGlyphs" >70</text>
<text x="30.5" y="416.1" font-size="13.9" text-anchor="start" textLength="16.4" lengthAdjust="spacingAndGlyphs" >70</text>
<text x="30.5" y="165.4" font-size="13.9" text-anchor="start" textLength="16.4" lengthAdjust="spacingAndGlyphs" >60</text>
<text x="30.5" y="458.3" font-size="13.9" text-anchor="start" textLength="16.4" lengthAdjust="spacingAndGlyphs" >60</text>
<text x="30.5" y="207.6" font-size="13.9" text-anchor="start" textLength="16.4" lengthAdjust="spacingAndGlyphs" >50</text>
<text x="30.5" y="500.5" font-size="13.9" text-anchor="start" textLength="16.4" lengthAdjust="spacingAndGlyphs" >50</text>
<text x="30.5" y="249.9" font-size="13.9" text-anchor="start" textLength="16.4" lengthAdjust="spacingAndGlyphs" >40</text>
<text x="30.5" y="542.8" font-size="13.9" text-anchor="start" textLength="16.4" lengthAdjust="spacingAndGlyphs" >40</text>
<text x="30.5" y="292.1" font-size="13.9" text-anchor="start" textLength="16.4" lengthAdjust="spacingAndGlyphs" >30</text>
<text x="30.5" y="585.0" font-size="13.9" text-anchor="start" textLength="16.4" lengthAdjust="spacingAndGlyphs" >30</text>
<text x="143.1" y="311.3" font-size="13.9" text-anchor="start" textLength="38.4" lengthAdjust="spacingAndGlyphs" >18:50</text>
<text x="143.1" y="603.2" font-size="13.9" text-anchor="start" textLength="38.4" lengthAdjust="spacingAndGlyphs" >18:50</text>
<text x="248.1" y="311.3" font-size="13.9" text-anchor="start" textLength="38.4" lengthAdjust="spacingAndGlyphs" >19:00</text>
<text x="248.1" y="603.2" font-size="13.9" text-anchor="start" textLength="38.4" lengthAdjust="spacingAndGlyphs" >19:00</text>
<text x="353.1" y="311.3" font-size="13.9" text-anchor="start" textLength="38.4" lengthAdjust="spacingAndGlyphs" >19:10</text>
<text x="353.1" y="603.2" font-size="13.9" text-anchor="start" textLength="38.4" lengthAdjust="spacingAndGlyphs" >19:10</text>
<text x="458.1" y="311.3" font-size="13.9" text-anchor="start" textLength="38.4" lengthAdjust="spacingAndGlyphs" >19:20</text>
<text x="458.1" y="603.2" font-size="13.9" text-anchor="start" textLength="38.4" lengthAdjust="spacingAndGlyphs" >19:20</text>
<text x="563.1" y="311.3" font-size="13.9" text-anchor="start" textLength="38.4" lengthAdjust="spacingAndGlyphs" >19:30</text>
<text x="563.1" y="603.2" font-size="13.9" text-anchor="start" textLength="38.4" lengthAdjust="spacingAndGlyphs" >19:30</text>
<text x="304.6" y="23.7" font-size="16.7" text-anchor="start" textLength="180.2" lengthAdjust="spacingAndGlyphs" >2023-09-26T18:40:00</text>
<text x="212.8" y="50.4" font-size="16.7" text-anchor="start" textLength="319.6" lengthAdjust="spacingAndGlyphs" >OVRO-LWA dynamic spectrum for pol I</text>
<text x="204.0" y="343.7" font-size="16.7" text-anchor="start" textLength="336.2" lengthAdjust="spacingAndGlyphs" >OVRO-LWA dynamic spectrum for pol V/I</text>
<g transform="translate(19.5 234.0) rotate(-90)"><text x="0.0" y="0.0" font-size="13.9" text-anchor="start" textLength="118.4" lengthAdjust="spacingAndGlyphs" >Frequency (MHz)</text></g>
<g transform="translate(19.5 526.6) rotate(-90)"><text x="0.0" y="0.0" font-size="13.9" text-anchor="start" textLength="118.4" lengthAdjust="spacingAndGlyphs" >Frequency (MHz)</text></g>
<text x="711.0" y="69.1" font-size="13.9" text-anchor="start" textLength="8.2" lengthAdjust="spacingAndGlyphs" >3</text><text x="722.6" y="69.7" font-size="16.5" text-anchor="start" textLength="10.0" lengthAdjust="spacingAndGlyphs" >×</text><text x="736.6" y="69.1" font-size="13.9" text-anchor="start" textLength="16.2" lengthAdjust="spacingAndGlyphs" >10</text><text x="753.5" y="63.3" font-size="9.7" text-anchor="start" textLength="5.8" lengthAdjust="spacingAndGlyphs" >0</text>
<text x="711.0" y="131.9" font-size="13.9" text-anchor="start" textLength="8.2" lengthAdjust="spacingAndGlyphs" >2</text><text x="722.6" y="132.5" font-size="16.5" text-anchor="start" textLength="10.0" lengthAdjust="spacingAndGlyphs" >×</text><text x="736.6" y="131.9" font-size="13.9" text-anchor="start" textLength="16.2" lengthAdjust="spacingAndGlyphs" >10</text><text x="753.5" y="126.1" font-size="9.7" text-anchor="start" textLength="5.8" lengthAdjust="spacingAndGlyphs" >0</text>
<text x="714.2" y="238.7" font-size="13.9" text-anchor="start" textLength="16.2" lengthAdjust="spacingAndGlyphs" >10</text><text x="731.1" y="232.9" font-size="9.7" text-anchor="start" textLength="5.8" lengthAdjust="spacingAndGlyphs" >0</text>
<g transform="translate(775.0 228.3) rotate(-90)"><text x="0.0" y="0.0" font-size="13.9" text-anchor="start" textLength="106.0" lengthAdjust="spacingAndGlyphs" >Intensity [s.f.u]</text></g>
<text x="712.5" y="379.7" font-size="13.9" text-anchor="start" textLength="19.6" lengthAdjust="spacingAndGlyphs" >0.4</text>
<text x="712.5" y="426.0" font-size="13.9" text-anchor="start" textLength="19.6" lengthAdjust="spacingAndGlyphs" >0.2</text>
<text x="712.5" y="472.3" font-size="13.9" text-anchor="start" textLength="19.6" lengthAdjust="spacingAndGlyphs" >0.0</text>
<text x="713.3" y="518.6" font-size="13.9" text-anchor="start" textLength="30.0" lengthAdjust="spacingAndGlyphs" >−0.2</text>
<text x="713.3" y="564.9" font-size="13.9" text-anchor="start" textLength="30.0" lengthAdjust="spacingAndGlyphs" >−0.4</text>
<g transform="translate(761.2 478.0) rotate(-90)"><text x="0.0" y="0.0" font-size="13.9" text-anchor="start" textLength="17.4" lengthAdjust="spacingAndGlyphs" >V/I</text></g>
</svg>
</div>
</body></html>
